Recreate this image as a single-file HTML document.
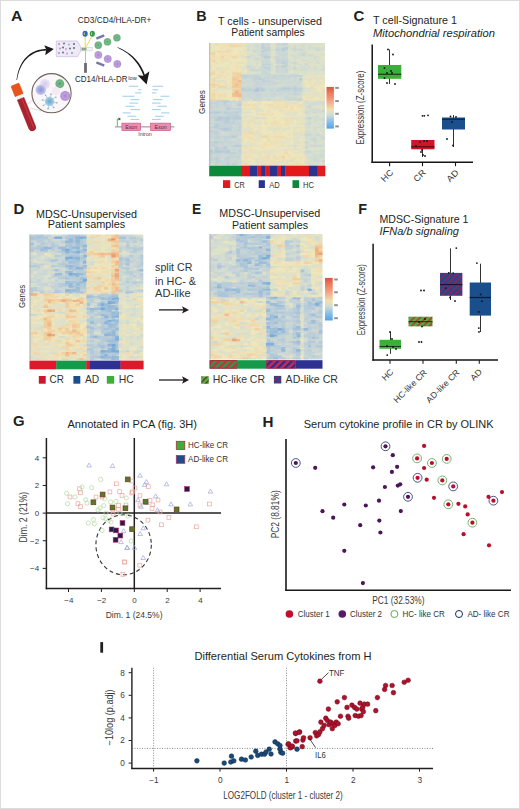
<!DOCTYPE html>
<html><head><meta charset="utf-8"><style>html,body{margin:0;padding:0;background:#fff;overflow:hidden}svg{display:block}text{font-family:"Liberation Sans", sans-serif}</style></head>
<body><svg width="520" height="809" viewBox="0 0 520 809"><rect x="0" y="0" width="520" height="809" fill="#fff"/><text x="11.1" y="20.7" font-size="15" font-weight="bold" fill="#231f20" textLength="11.4" lengthAdjust="spacingAndGlyphs">A</text><defs><radialGradient id="gc" cx="0.5" cy="0.5" r="0.5"><stop offset="0" stop-color="#4a9a6a"/><stop offset="0.35" stop-color="#7cbc8c"/><stop offset="0.8" stop-color="#6aae7e"/><stop offset="1" stop-color="#9ccfa8"/></radialGradient><radialGradient id="pc" cx="0.5" cy="0.5" r="0.5"><stop offset="0" stop-color="#a884cc"/><stop offset="0.5" stop-color="#bfa0dc"/><stop offset="0.85" stop-color="#b294d4"/><stop offset="1" stop-color="#d2bfe8"/></radialGradient><radialGradient id="bc" cx="0.5" cy="0.5" r="0.5"><stop offset="0" stop-color="#8f94d6"/><stop offset="0.6" stop-color="#aab0e2"/><stop offset="1" stop-color="#cfd2f0"/></radialGradient><radialGradient id="lc" cx="0.5" cy="0.5" r="0.5"><stop offset="0" stop-color="#d8c8ec"/><stop offset="1" stop-color="#eee6f6"/></radialGradient><radialGradient id="vc" cx="0.5" cy="0.5" r="0.5"><stop offset="0" stop-color="#6aa6cc"/><stop offset="1" stop-color="#a8d0e8"/></radialGradient></defs><polygon points="17.10,80.04 17.37,78.27 17.70,76.55 18.09,74.87 18.53,73.24 19.03,71.66 19.58,70.12 20.18,68.64 20.83,67.20 21.53,65.82 22.28,64.50 23.08,63.22 23.93,62.01 24.82,60.85 25.75,59.75 26.73,58.71 27.75,57.73 28.81,56.81 29.92,55.95 31.06,55.15 32.22,54.40 33.43,53.72 34.68,53.09 35.96,52.54 37.29,52.05 38.65,51.63 40.05,51.28 41.49,51.00 42.96,50.79 44.47,50.66 46.01,50.60 45.99,49.00 44.37,49.06 42.78,49.20 41.22,49.42 39.70,49.71 38.22,50.09 36.77,50.53 35.37,51.05 34.00,51.64 32.68,52.30 31.39,53.03 30.15,53.83 28.97,54.71 27.84,55.66 26.75,56.67 25.72,57.74 24.73,58.87 23.80,60.05 22.91,61.29 22.08,62.59 21.30,63.93 20.57,65.33 19.90,66.78 19.28,68.27 18.71,69.81 18.20,71.40 17.75,73.03 17.35,74.70 17.01,76.41 16.73,78.17 16.50,79.96" fill="#1a1a1a"/><path d="M53.8 49 L44.2 45.2 L46.2 49.6 L45.2 55.2 Z" fill="#1a1a1a"/><path d="M28 104 L34 99 M30.5 108 L41 111" stroke="#c9c3c0" stroke-width="0.6" fill="none"/><circle cx="51.5" cy="93.2" r="19.6" fill="#fbf6f8" stroke="#6e625e" stroke-width="1.1"/><circle cx="45" cy="84" r="5.2" fill="url(#lc)"/><circle cx="40.8" cy="89.8" r="5.3" fill="url(#bc)"/><circle cx="59.8" cy="83.7" r="4.6" fill="url(#gc)"/><circle cx="59.8" cy="83.7" r="1.6" fill="#5a9a70" opacity="0.6"/><circle cx="56" cy="91" r="4.2" fill="#f3eaf3"/><circle cx="65.2" cy="95.9" r="5.2" fill="url(#pc)"/><g stroke="#7fb2d6" stroke-width="0.6"><line x1="49.6" y1="101.4" x2="56.66" y2="102.83"/><line x1="49.6" y1="101.4" x2="53.58" y2="107.40"/><line x1="49.6" y1="101.4" x2="48.17" y2="108.46"/><line x1="49.6" y1="101.4" x2="43.60" y2="105.38"/><line x1="49.6" y1="101.4" x2="42.54" y2="99.97"/><line x1="49.6" y1="101.4" x2="45.62" y2="95.40"/><line x1="49.6" y1="101.4" x2="51.03" y2="94.34"/><line x1="49.6" y1="101.4" x2="55.60" y2="97.42"/></g><g fill="#7fb2d6"><circle cx="56.85" cy="102.87" r="0.8"/><circle cx="53.69" cy="107.57" r="0.8"/><circle cx="48.13" cy="108.65" r="0.8"/><circle cx="43.43" cy="105.49" r="0.8"/><circle cx="42.35" cy="99.93" r="0.8"/><circle cx="45.51" cy="95.23" r="0.8"/><circle cx="51.07" cy="94.15" r="0.8"/><circle cx="55.77" cy="97.31" r="0.8"/></g><circle cx="49.6" cy="101.4" r="4.6" fill="url(#vc)"/><g transform="translate(17.2,90.2) rotate(-22)"><rect x="-4.3" y="-6" width="8.6" height="11.5" rx="0.8" fill="#e8541c"/><rect x="-4.3" y="-6" width="8.6" height="11.5" rx="0.8" fill="none" stroke="#d24a18" stroke-width="0.5"/><rect x="-3.6" y="5.6" width="7.2" height="3.8" fill="#f6f0ee"/><path d="M-3.6 9.2 H3.6 V40 A3.6 3.6 0 0 1 -3.6 40 Z" fill="#a8242e" stroke="#8a1a24" stroke-width="0.4"/><path d="M1.2 10 V40.5" stroke="#c83a44" stroke-width="1" /></g><path d="M56.3 41 H77.5 L80.8 47.3 V50.8 L77.5 56.7 H56.3 Z" fill="#efe8f6" stroke="#cbbce3" stroke-width="0.7"/><circle cx="59" cy="44" r="0.9" fill="#a888c8"/><circle cx="64" cy="43.5" r="0.9" fill="#3a7a5a"/><circle cx="69" cy="44.5" r="0.9" fill="#b898d0"/><circle cx="74" cy="44" r="0.9" fill="#3a6a5a"/><circle cx="60" cy="48.5" r="0.9" fill="#b090cc"/><circle cx="63" cy="47.5" r="0.9" fill="#3a6a4a"/><circle cx="66" cy="49" r="0.9" fill="#c0a0d8"/><circle cx="70" cy="48.5" r="0.9" fill="#3a7a5a"/><circle cx="74" cy="48" r="0.9" fill="#3a6a5a"/><circle cx="59" cy="53" r="0.9" fill="#a888c8"/><circle cx="63" cy="52.5" r="0.9" fill="#3a7a5a"/><circle cx="67" cy="53.5" r="0.9" fill="#b898d0"/><circle cx="72" cy="53" r="0.9" fill="#a080c0"/><rect x="81" y="47.3" width="11.2" height="3.6" fill="#f6f6f6" stroke="#c8c8d0" stroke-width="0.5"/><rect x="81.5" y="47.8" width="5" height="2.6" fill="#8aa888"/><path d="M85.3 47.5 L85.1 36.5 M85.6 47.5 L91.8 36.5" stroke="#f0d23a" stroke-width="0.9" fill="none"/><path d="M85.5 51 V63" stroke="#e8a040" stroke-width="0.8"/><rect x="84.1" y="63" width="2.8" height="9.8" fill="#6c6c6c"/><ellipse cx="85.1" cy="33.8" rx="2.6" ry="3" fill="#2a6ab8"/><ellipse cx="92.3" cy="33.8" rx="2.6" ry="3" fill="#3a9a4a"/><path d="M84.3 32.5 v2.5 M91.6 32.5 v2.5" stroke="#f0e060" stroke-width="0.8"/><circle cx="98.3" cy="45.2" r="3.9" fill="url(#gc)"/><circle cx="107.5" cy="41.8" r="3.9" fill="url(#gc)"/><circle cx="116.9" cy="37.8" r="3.9" fill="url(#gc)"/><circle cx="98.3" cy="54.9" r="4" fill="url(#pc)"/><circle cx="107.8" cy="58.9" r="4" fill="url(#pc)"/><circle cx="117.3" cy="64" r="4" fill="url(#pc)"/><rect x="96" y="35.8" width="8.6" height="2.4" rx="0.6" fill="#7478a8" transform="rotate(-22 100.3 37)"/><rect x="96" y="62.8" width="8.6" height="2.4" rx="0.6" fill="#7478a8" transform="rotate(22 100.3 64)"/><polygon points="117.39,47.78 118.70,48.37 119.99,48.98 121.24,49.63 122.46,50.30 123.65,51.00 124.81,51.73 125.94,52.49 127.03,53.27 128.09,54.08 129.13,54.91 130.13,55.77 131.10,56.65 132.04,57.56 132.94,58.49 133.82,59.44 134.67,60.42 135.48,61.42 136.27,62.44 137.02,63.49 137.77,64.54 138.49,65.61 139.17,66.71 139.83,67.83 140.46,68.97 141.06,70.13 141.62,71.32 142.16,72.53 142.67,73.75 143.15,75.00 143.59,76.27 145.21,75.73 144.74,74.42 144.25,73.13 143.72,71.86 143.17,70.61 142.58,69.38 141.96,68.17 141.31,66.99 140.63,65.83 139.91,64.69 139.17,63.57 138.40,62.48 137.57,61.43 136.71,60.40 135.82,59.40 134.90,58.43 133.95,57.49 132.98,56.57 131.97,55.68 130.93,54.82 129.87,53.98 128.77,53.17 127.65,52.39 126.49,51.64 125.31,50.92 124.10,50.23 122.86,49.57 121.59,48.94 120.29,48.34 118.97,47.76 117.61,47.22" fill="#1a1a1a"/><path d="M146.6 84.6 L137.6 75.2 L143.4 75.8 L149.4 71.2 Z" fill="#1a1a1a"/><text x="77.8" y="23.2" font-size="9" fill="#2a2a2a" textLength="73.5" lengthAdjust="spacingAndGlyphs">CD3/CD4/HLA-DR+</text><text x="75" y="82.2" font-size="9.2" fill="#2a2a2a" textLength="52.5" lengthAdjust="spacingAndGlyphs">CD14/HLA-DR</text><text x="128.3" y="79.6" font-size="5.3" fill="#333" textLength="8.4" lengthAdjust="spacingAndGlyphs">low</text><g stroke="#8cc4ea" stroke-width="0.85"><line x1="128.75" y1="86.25" x2="138.1" y2="86.25"/><line x1="138.1" y1="89.75" x2="141.5" y2="89.75"/><line x1="135" y1="92.9" x2="141.5" y2="92.9"/><line x1="122.5" y1="96.25" x2="134.4" y2="96.25"/><line x1="130.6" y1="99.6" x2="139.4" y2="99.6"/><line x1="129.4" y1="103.1" x2="138.1" y2="103.1"/><line x1="125.6" y1="106.25" x2="134.4" y2="106.25"/><line x1="130.6" y1="109.6" x2="140" y2="109.6"/><line x1="122.5" y1="112.9" x2="130.6" y2="112.9"/><line x1="127.5" y1="116.25" x2="136.25" y2="116.25"/><line x1="130.6" y1="119.4" x2="139.4" y2="119.4"/><line x1="152.5" y1="86.25" x2="163.1" y2="86.25"/><line x1="152.5" y1="89.75" x2="158.1" y2="89.75"/><line x1="151.9" y1="92.9" x2="156.25" y2="92.9"/><line x1="160.6" y1="96.25" x2="169.4" y2="96.25"/><line x1="153.1" y1="99.6" x2="162.5" y2="99.6"/><line x1="151.9" y1="103.1" x2="160.6" y2="103.1"/><line x1="157.5" y1="106.25" x2="166.9" y2="106.25"/><line x1="151.9" y1="109.6" x2="160.6" y2="109.6"/><line x1="161.25" y1="112.9" x2="169.4" y2="112.9"/><line x1="155" y1="116.25" x2="163.75" y2="116.25"/><line x1="151.9" y1="119.4" x2="160.6" y2="119.4"/></g><line x1="115" y1="126.9" x2="174.4" y2="126.9" stroke="#8a7a7a" stroke-width="0.9"/><rect x="121.9" y="123.1" width="18.7" height="7.5" fill="#ec8cb0" stroke="#c8507e" stroke-width="0.6"/><rect x="150.6" y="123.1" width="20" height="7.5" fill="#ec8cb0" stroke="#c8507e" stroke-width="0.6"/><text x="131.2" y="129.2" font-size="6" text-anchor="middle" fill="#5a2a3a" textLength="12" lengthAdjust="spacingAndGlyphs">Exon</text><text x="160.6" y="129.2" font-size="6" text-anchor="middle" fill="#5a2a3a" textLength="12" lengthAdjust="spacingAndGlyphs">Exon</text><text x="145" y="136.3" font-size="6" text-anchor="middle" fill="#444" textLength="13.5" lengthAdjust="spacingAndGlyphs">Intron</text><path d="M117.3 126.5 V119 H119" stroke="#4a9a4a" stroke-width="0.8" fill="none"/><path d="M121 119 L118.6 117.5 L118.6 120.5 Z" fill="#2a4a2a"/><text x="196.2" y="20.6" font-size="15" font-weight="bold" fill="#231f20" textLength="10.4" lengthAdjust="spacingAndGlyphs">B</text><text x="270" y="24.8" font-size="10.8" text-anchor="middle" fill="#231f20" textLength="104" lengthAdjust="spacingAndGlyphs">T cells - unsupervised</text><text x="268" y="36.3" font-size="10.8" text-anchor="middle" fill="#231f20" textLength="73.5" lengthAdjust="spacingAndGlyphs">Patient samples</text><g filter="url(#bl)"><path fill="#ebe6be" d="M209.0 43.0H212.5V45.4H209.0zM217.7 43.0H221.2V45.4H217.7zM209.0 44.8H218.3V47.3H209.0zM214.8 46.7H218.3V49.1H214.8zM232.2 46.7H241.5V49.1H232.2zM209.0 48.5H212.5V51.0H209.0zM214.8 48.5H227.0V51.0H214.8zM232.2 48.5H235.7V51.0H232.2zM238.0 48.5H244.4V51.0H238.0zM232.2 50.4H235.7V52.8H232.2zM240.9 50.4H244.4V52.8H240.9zM214.8 52.2H218.3V54.7H214.8zM229.3 52.2H232.8V54.7H229.3zM235.1 52.2H244.4V54.7H235.1zM209.0 54.1H212.5V56.5H209.0zM214.8 54.1H221.2V56.5H214.8zM243.8 54.1H247.3V56.5H243.8zM209.0 55.9H212.5V58.4H209.0zM223.5 55.9H227.0V58.4H223.5zM322.1 55.9H325.0V58.4H322.1zM214.8 57.8H218.3V60.2H214.8zM226.4 57.8H235.7V60.2H226.4zM214.8 59.6H221.2V62.1H214.8zM229.3 59.6H235.7V62.1H229.3zM238.0 59.6H247.3V62.1H238.0zM209.0 61.5H212.5V63.9H209.0zM243.8 61.5H247.3V63.9H243.8zM214.8 63.3H229.9V65.8H214.8zM232.2 63.3H235.7V65.8H232.2zM238.0 63.3H244.4V65.8H238.0zM211.9 65.2H227.0V67.6H211.9zM229.3 65.2H232.8V67.6H229.3zM240.9 65.2H244.4V67.6H240.9zM238.0 67.0H241.5V69.5H238.0zM209.0 68.9H212.5V71.3H209.0zM226.4 68.9H229.9V71.3H226.4zM232.2 68.9H235.7V71.3H232.2zM238.0 68.9H241.5V71.3H238.0zM243.8 68.9H247.3V71.3H243.8zM209.0 70.7H212.5V73.2H209.0zM229.3 70.7H232.8V73.2H229.3zM235.1 70.7H238.6V73.2H235.1zM220.6 72.6H224.1V75.0H220.6zM229.3 72.6H232.8V75.0H229.3zM226.4 74.4H232.8V76.9H226.4zM307.6 74.4H311.1V76.9H307.6zM322.1 74.4H325.0V76.9H322.1zM211.9 76.3H215.4V78.7H211.9zM226.4 76.3H229.9V78.7H226.4zM214.8 78.1H229.9V80.6H214.8zM209.0 80.0H212.5V82.4H209.0zM310.5 80.0H316.9V82.4H310.5zM319.2 80.0H325.0V82.4H319.2zM209.0 81.8H212.5V84.3H209.0zM214.8 81.8H218.3V84.3H214.8zM220.6 81.8H224.1V84.3H220.6zM220.6 83.7H227.0V86.1H220.6zM304.7 83.7H311.1V86.1H304.7zM209.0 85.5H212.5V88.0H209.0zM226.4 85.5H229.9V88.0H226.4zM307.6 85.5H311.1V88.0H307.6zM316.3 85.5H325.0V88.0H316.3zM211.9 87.4H215.4V89.8H211.9zM217.7 89.2H221.2V91.7H217.7zM223.5 89.2H232.8V91.7H223.5zM310.5 89.2H314.0V91.7H310.5zM316.3 89.2H322.7V91.7H316.3zM214.8 91.1H221.2V93.5H214.8zM223.5 91.1H232.8V93.5H223.5zM304.7 91.1H308.2V93.5H304.7zM319.2 91.1H322.7V93.5H319.2zM220.6 92.9H224.1V95.4H220.6zM226.4 92.9H232.8V95.4H226.4zM322.1 92.9H325.0V95.4H322.1zM301.8 94.8H305.3V97.2H301.8zM307.6 94.8H311.1V97.2H307.6zM214.8 96.6H221.2V99.1H214.8zM223.5 96.6H229.9V99.1H223.5zM301.8 96.6H305.3V99.1H301.8zM316.3 96.6H319.8V99.1H316.3zM307.6 98.5H311.1V100.9H307.6zM246.7 100.3H253.1V102.8H246.7zM255.4 100.3H258.9V102.8H255.4zM264.1 100.3H267.6V102.8H264.1zM269.9 100.3H273.4V102.8H269.9zM290.2 100.3H293.7V102.8H290.2zM298.9 100.3H302.4V102.8H298.9zM246.7 102.2H256.0V104.6H246.7zM264.1 102.2H273.4V104.6H264.1zM281.5 102.2H285.0V104.6H281.5zM298.9 102.2H302.4V104.6H298.9zM258.3 104.0H261.8V106.4H258.3zM240.9 105.8H250.2V108.3H240.9zM261.2 105.8H270.5V108.3H261.2zM287.3 105.8H290.8V108.3H287.3zM261.2 107.7H270.5V110.1H261.2zM275.7 107.7H279.2V110.1H275.7zM296.0 107.7H299.5V110.1H296.0zM301.8 107.7H305.3V110.1H301.8zM243.8 109.5H247.3V112.0H243.8zM264.1 109.5H267.6V112.0H264.1zM275.7 109.5H279.2V112.0H275.7zM284.4 109.5H287.9V112.0H284.4zM293.1 109.5H296.6V112.0H293.1zM252.5 111.4H256.0V113.8H252.5zM258.3 111.4H261.8V113.8H258.3zM264.1 111.4H267.6V113.8H264.1zM269.9 111.4H276.3V113.8H269.9zM278.6 111.4H282.1V113.8H278.6zM298.9 111.4H302.4V113.8H298.9zM240.9 113.2H250.2V115.7H240.9zM272.8 113.2H276.3V115.7H272.8zM278.6 113.2H285.0V115.7H278.6zM252.5 115.1H267.6V117.5H252.5zM269.9 115.1H273.4V117.5H269.9zM275.7 115.1H279.2V117.5H275.7zM284.4 115.1H290.8V117.5H284.4zM293.1 115.1H299.5V117.5H293.1zM267.0 116.9H273.4V119.4H267.0zM275.7 116.9H282.1V119.4H275.7zM246.7 118.8H250.2V121.2H246.7zM261.2 118.8H270.5V121.2H261.2zM298.9 118.8H302.4V121.2H298.9zM261.2 120.6H264.7V123.1H261.2zM278.6 120.6H287.9V123.1H278.6zM293.1 120.6H296.6V123.1H293.1zM301.8 120.6H305.3V123.1H301.8zM240.9 122.5H244.4V124.9H240.9zM261.2 122.5H264.7V124.9H261.2zM293.1 122.5H296.6V124.9H293.1zM243.8 124.3H247.3V126.8H243.8zM252.5 124.3H261.8V126.8H252.5zM267.0 124.3H273.4V126.8H267.0zM290.2 124.3H305.3V126.8H290.2zM243.8 126.2H247.3V128.6H243.8zM249.6 126.2H253.1V128.6H249.6zM255.4 126.2H258.9V128.6H255.4zM261.2 126.2H267.6V128.6H261.2zM272.8 126.2H276.3V128.6H272.8zM284.4 126.2H287.9V128.6H284.4zM290.2 126.2H293.7V128.6H290.2zM255.4 128.0H258.9V130.5H255.4zM261.2 128.0H267.6V130.5H261.2zM296.0 128.0H299.5V130.5H296.0zM301.8 128.0H305.3V130.5H301.8zM252.5 129.9H256.0V132.3H252.5zM258.3 129.9H273.4V132.3H258.3zM278.6 129.9H282.1V132.3H278.6zM296.0 129.9H299.5V132.3H296.0zM261.2 131.7H267.6V134.2H261.2zM269.9 131.7H273.4V134.2H269.9zM275.7 131.7H279.2V134.2H275.7zM284.4 131.7H287.9V134.2H284.4zM246.7 133.6H253.1V136.0H246.7zM261.2 133.6H267.6V136.0H261.2zM269.9 133.6H282.1V136.0H269.9zM249.6 135.4H256.0V137.9H249.6zM284.4 135.4H287.9V137.9H284.4zM301.8 135.4H305.3V137.9H301.8zM243.8 137.3H247.3V139.7H243.8zM261.2 137.3H267.6V139.7H261.2zM269.9 137.3H273.4V139.7H269.9zM298.9 137.3H302.4V139.7H298.9zM246.7 139.1H253.1V141.6H246.7zM261.2 139.1H264.7V141.6H261.2zM269.9 139.1H273.4V141.6H269.9zM284.4 139.1H287.9V141.6H284.4zM290.2 139.1H293.7V141.6H290.2zM298.9 139.1H305.3V141.6H298.9zM258.3 141.0H261.8V143.4H258.3zM264.1 141.0H270.5V143.4H264.1zM240.9 142.8H244.4V145.3H240.9zM246.7 142.8H250.2V145.3H246.7zM255.4 142.8H258.9V145.3H255.4zM275.7 142.8H282.1V145.3H275.7zM284.4 142.8H293.7V145.3H284.4zM298.9 142.8H305.3V145.3H298.9zM252.5 144.7H256.0V147.1H252.5zM269.9 144.7H276.3V147.1H269.9zM249.6 146.5H253.1V149.0H249.6zM255.4 146.5H261.8V149.0H255.4zM272.8 146.5H276.3V149.0H272.8zM278.6 146.5H282.1V149.0H278.6zM284.4 146.5H287.9V149.0H284.4zM296.0 146.5H302.4V149.0H296.0zM240.9 148.4H244.4V150.8H240.9zM258.3 148.4H261.8V150.8H258.3zM267.0 148.4H270.5V150.8H267.0zM278.6 150.2H285.0V152.7H278.6zM293.1 150.2H299.5V152.7H293.1zM272.8 152.1H279.2V154.5H272.8zM281.5 152.1H285.0V154.5H281.5zM290.2 152.1H293.7V154.5H290.2zM298.9 152.1H302.4V154.5H298.9zM240.9 153.9H244.4V156.4H240.9zM249.6 153.9H258.9V156.4H249.6zM264.1 153.9H267.6V156.4H264.1zM269.9 153.9H273.4V156.4H269.9zM296.0 153.9H299.5V156.4H296.0zM301.8 153.9H305.3V156.4H301.8zM252.5 155.8H258.9V158.2H252.5zM240.9 157.6H250.2V160.1H240.9zM264.1 157.6H267.6V160.1H264.1zM269.9 157.6H273.4V160.1H269.9zM278.6 157.6H282.1V160.1H278.6zM296.0 157.6H299.5V160.1H296.0zM246.7 159.5H256.0V161.9H246.7zM258.3 159.5H261.8V161.9H258.3zM293.1 159.5H305.3V161.9H293.1zM249.6 161.3H256.0V163.8H249.6zM287.3 161.3H290.8V163.8H287.3zM301.8 161.3H305.3V163.8H301.8zM240.9 163.2H244.4V165.0H240.9zM249.6 163.2H256.0V165.0H249.6zM269.9 163.2H273.4V165.0H269.9zM278.6 163.2H287.9V165.0H278.6zM301.8 163.2H305.3V165.0H301.8z"/><path fill="#f0e6b9" d="M211.9 43.0H215.4V45.4H211.9zM211.9 46.7H215.4V49.1H211.9zM217.7 46.7H221.2V49.1H217.7zM226.4 46.7H229.9V49.1H226.4zM243.8 46.7H247.3V49.1H243.8zM235.1 48.5H238.6V51.0H235.1zM209.0 50.4H212.5V52.8H209.0zM235.1 50.4H238.6V52.8H235.1zM217.7 52.2H221.2V54.7H217.7zM223.5 52.2H229.9V54.7H223.5zM232.2 52.2H235.7V54.7H232.2zM232.2 54.1H235.7V56.5H232.2zM217.7 55.9H221.2V58.4H217.7zM238.0 55.9H241.5V58.4H238.0zM235.1 57.8H244.4V60.2H235.1zM235.1 59.6H238.6V62.1H235.1zM217.7 61.5H221.2V63.9H217.7zM223.5 61.5H229.9V63.9H223.5zM209.0 63.3H212.5V65.8H209.0zM211.9 67.0H215.4V69.5H211.9zM229.3 67.0H235.7V69.5H229.3zM226.4 70.7H229.9V73.2H226.4zM238.0 70.7H241.5V73.2H238.0zM243.8 70.7H247.3V73.2H243.8zM223.5 72.6H227.0V75.0H223.5zM211.9 74.4H218.3V76.9H211.9zM316.3 74.4H319.8V76.9H316.3zM304.7 76.3H308.2V78.7H304.7zM226.4 80.0H229.9V82.4H226.4zM226.4 81.8H229.9V84.3H226.4zM310.5 81.8H314.0V84.3H310.5zM322.1 83.7H325.0V86.1H322.1zM214.8 85.5H218.3V88.0H214.8zM304.7 85.5H308.2V88.0H304.7zM313.4 85.5H316.9V88.0H313.4zM209.0 89.2H212.5V91.7H209.0zM209.0 91.1H212.5V93.5H209.0zM220.6 91.1H224.1V93.5H220.6zM214.8 94.8H218.3V97.2H214.8zM226.4 94.8H232.8V97.2H226.4zM232.2 96.6H238.6V99.1H232.2zM313.4 96.6H316.9V99.1H313.4zM226.4 98.5H229.9V100.9H226.4zM304.7 98.5H308.2V100.9H304.7zM313.4 98.5H322.7V100.9H313.4zM252.5 100.3H256.0V102.8H252.5zM261.2 100.3H264.7V102.8H261.2zM267.0 100.3H270.5V102.8H267.0zM261.2 102.2H264.7V104.6H261.2zM275.7 102.2H279.2V104.6H275.7zM261.2 104.0H264.7V106.4H261.2zM249.6 105.8H253.1V108.3H249.6zM258.3 105.8H261.8V108.3H258.3zM293.1 105.8H296.6V108.3H293.1zM281.5 107.7H290.8V110.1H281.5zM293.1 107.7H296.6V110.1H293.1zM298.9 107.7H302.4V110.1H298.9zM249.6 109.5H256.0V112.0H249.6zM269.9 109.5H276.3V112.0H269.9zM296.0 109.5H299.5V112.0H296.0zM261.2 111.4H264.7V113.8H261.2zM275.7 111.4H279.2V113.8H275.7zM249.6 113.2H256.0V115.7H249.6zM275.7 113.2H279.2V115.7H275.7zM296.0 113.2H302.4V115.7H296.0zM267.0 115.1H270.5V117.5H267.0zM272.8 115.1H276.3V117.5H272.8zM278.6 115.1H285.0V117.5H278.6zM301.8 115.1H305.3V117.5H301.8zM249.6 116.9H253.1V119.4H249.6zM243.8 118.8H247.3V121.2H243.8zM252.5 118.8H258.9V121.2H252.5zM269.9 118.8H279.2V121.2H269.9zM281.5 118.8H285.0V121.2H281.5zM293.1 118.8H296.6V121.2H293.1zM296.0 120.6H299.5V123.1H296.0zM267.0 122.5H270.5V124.9H267.0zM278.6 122.5H285.0V124.9H278.6zM261.2 124.3H267.6V126.8H261.2zM281.5 124.3H285.0V126.8H281.5zM252.5 128.0H256.0V130.5H252.5zM290.2 128.0H293.7V130.5H290.2zM284.4 129.9H287.9V132.3H284.4zM290.2 129.9H293.7V132.3H290.2zM267.0 131.7H270.5V134.2H267.0zM281.5 131.7H285.0V134.2H281.5zM284.4 133.6H287.9V136.0H284.4zM290.2 133.6H293.7V136.0H290.2zM287.3 135.4H290.8V137.9H287.3zM252.5 137.3H256.0V139.7H252.5zM243.8 139.1H247.3V141.6H243.8zM264.1 139.1H267.6V141.6H264.1zM281.5 139.1H285.0V141.6H281.5zM255.4 141.0H258.9V143.4H255.4zM290.2 141.0H293.7V143.4H290.2zM258.3 142.8H261.8V145.3H258.3zM267.0 142.8H270.5V145.3H267.0zM252.5 146.5H256.0V149.0H252.5zM264.1 146.5H273.4V149.0H264.1zM281.5 146.5H285.0V149.0H281.5zM290.2 146.5H293.7V149.0H290.2zM275.7 148.4H279.2V150.8H275.7zM287.3 150.2H290.8V152.7H287.3zM261.2 152.1H264.7V154.5H261.2zM287.3 152.1H290.8V154.5H287.3zM243.8 153.9H247.3V156.4H243.8zM261.2 153.9H264.7V156.4H261.2zM275.7 153.9H282.1V156.4H275.7zM284.4 153.9H287.9V156.4H284.4zM290.2 153.9H296.6V156.4H290.2zM298.9 153.9H302.4V156.4H298.9zM269.9 155.8H273.4V158.2H269.9zM284.4 155.8H287.9V158.2H284.4zM290.2 155.8H293.7V158.2H290.2zM284.4 157.6H290.8V160.1H284.4zM301.8 157.6H305.3V160.1H301.8zM275.7 159.5H279.2V161.9H275.7zM290.2 161.3H293.7V163.8H290.2zM298.9 161.3H302.4V163.8H298.9z"/><path fill="#e1e1c3" d="M214.8 43.0H218.3V45.4H214.8zM229.3 43.0H232.8V45.4H229.3zM240.9 44.8H244.4V47.3H240.9zM316.3 44.8H322.7V47.3H316.3zM243.8 48.5H247.3V51.0H243.8zM290.2 50.4H293.7V52.8H290.2zM287.3 54.1H290.8V56.5H287.3zM319.2 57.8H322.7V60.2H319.2zM290.2 59.6H293.7V62.1H290.2zM214.8 61.5H218.3V63.9H214.8zM240.9 61.5H244.4V63.9H240.9zM316.3 63.3H319.8V65.8H316.3zM243.8 65.2H247.3V67.6H243.8zM240.9 67.0H244.4V69.5H240.9zM310.5 70.7H314.0V73.2H310.5zM284.4 72.6H287.9V75.0H284.4zM319.2 76.3H322.7V78.7H319.2zM313.4 78.1H319.8V80.6H313.4zM322.1 78.1H325.0V80.6H322.1zM217.7 80.0H221.2V82.4H217.7zM307.6 80.0H311.1V82.4H307.6zM313.4 81.8H316.9V84.3H313.4zM301.8 83.7H305.3V86.1H301.8zM214.8 87.4H218.3V89.8H214.8zM223.5 87.4H227.0V89.8H223.5zM322.1 91.1H325.0V93.5H322.1zM313.4 92.9H316.9V95.4H313.4zM310.5 94.8H314.0V97.2H310.5zM240.9 100.3H244.4V102.8H240.9zM246.7 107.7H250.2V110.1H246.7zM255.4 107.7H261.8V110.1H255.4zM261.2 109.5H264.7V112.0H261.2zM267.0 111.4H270.5V113.8H267.0zM301.8 111.4H305.3V113.8H301.8zM290.2 113.2H293.7V115.7H290.2zM243.8 115.1H247.3V117.5H243.8zM296.0 118.8H299.5V121.2H296.0zM243.8 120.6H250.2V123.1H243.8zM252.5 120.6H256.0V123.1H252.5zM319.2 122.5H322.7V124.9H319.2zM240.9 124.3H244.4V126.8H240.9zM246.7 124.3H250.2V126.8H246.7zM267.0 126.2H270.5V128.6H267.0zM296.0 126.2H299.5V128.6H296.0zM272.8 128.0H276.3V130.5H272.8zM304.7 128.0H308.2V130.5H304.7zM240.9 129.9H244.4V132.3H240.9zM298.9 131.7H302.4V134.2H298.9zM252.5 133.6H256.0V136.0H252.5zM258.3 133.6H261.8V136.0H258.3zM255.4 135.4H261.8V137.9H255.4zM258.3 137.3H261.8V139.7H258.3zM252.5 139.1H256.0V141.6H252.5zM293.1 139.1H296.6V141.6H293.1zM275.7 141.0H279.2V143.4H275.7zM281.5 141.0H285.0V143.4H281.5zM249.6 144.7H253.1V147.1H249.6zM296.0 144.7H299.5V147.1H296.0zM301.8 144.7H305.3V147.1H301.8zM298.9 148.4H302.4V150.8H298.9zM255.4 150.2H258.9V152.7H255.4zM298.9 150.2H302.4V152.7H298.9zM243.8 152.1H247.3V154.5H243.8zM255.4 152.1H261.8V154.5H255.4zM255.4 157.6H258.9V160.1H255.4zM272.8 157.6H276.3V160.1H272.8zM293.1 157.6H296.6V160.1H293.1zM319.2 157.6H322.7V160.1H319.2zM240.9 161.3H244.4V163.8H240.9zM281.5 161.3H287.9V163.8H281.5zM296.0 161.3H299.5V163.8H296.0zM319.2 161.3H322.7V163.8H319.2zM275.7 163.2H279.2V165.0H275.7zM287.3 163.2H290.8V165.0H287.3z"/><path fill="#e6e1c3" d="M220.6 43.0H224.1V45.4H220.6zM243.8 43.0H247.3V45.4H243.8zM226.4 48.5H229.9V51.0H226.4zM214.8 50.4H218.3V52.8H214.8zM238.0 50.4H241.5V52.8H238.0zM240.9 54.1H244.4V56.5H240.9zM272.8 54.1H276.3V56.5H272.8zM209.0 57.8H212.5V60.2H209.0zM223.5 59.6H227.0V62.1H223.5zM235.1 61.5H241.5V63.9H235.1zM243.8 63.3H247.3V65.8H243.8zM209.0 65.2H212.5V67.6H209.0zM226.4 65.2H229.9V67.6H226.4zM238.0 65.2H241.5V67.6H238.0zM209.0 67.0H212.5V69.5H209.0zM217.7 67.0H224.1V69.5H217.7zM226.4 67.0H229.9V69.5H226.4zM319.2 67.0H322.7V69.5H319.2zM217.7 68.9H221.2V71.3H217.7zM240.9 68.9H244.4V71.3H240.9zM232.2 70.7H235.7V73.2H232.2zM240.9 70.7H244.4V73.2H240.9zM269.9 70.7H273.4V73.2H269.9zM226.4 72.6H229.9V75.0H226.4zM240.9 72.6H247.3V75.0H240.9zM209.0 74.4H212.5V76.9H209.0zM313.4 74.4H316.9V76.9H313.4zM319.2 74.4H322.7V76.9H319.2zM217.7 76.3H221.2V78.7H217.7zM223.5 76.3H227.0V78.7H223.5zM301.8 76.3H305.3V78.7H301.8zM307.6 76.3H314.0V78.7H307.6zM322.1 76.3H325.0V78.7H322.1zM220.6 80.0H227.0V82.4H220.6zM301.8 80.0H305.3V82.4H301.8zM316.3 80.0H319.8V82.4H316.3zM223.5 81.8H227.0V84.3H223.5zM301.8 81.8H305.3V84.3H301.8zM322.1 81.8H325.0V84.3H322.1zM226.4 83.7H229.9V86.1H226.4zM313.4 83.7H316.9V86.1H313.4zM301.8 85.5H305.3V88.0H301.8zM313.4 87.4H316.9V89.8H313.4zM322.1 87.4H325.0V89.8H322.1zM214.8 89.2H218.3V91.7H214.8zM301.8 91.1H305.3V93.5H301.8zM307.6 91.1H319.8V93.5H307.6zM223.5 92.9H227.0V95.4H223.5zM307.6 92.9H314.0V95.4H307.6zM319.2 92.9H322.7V95.4H319.2zM313.4 94.8H319.8V97.2H313.4zM322.1 94.8H325.0V97.2H322.1zM209.0 96.6H212.5V99.1H209.0zM322.1 96.6H325.0V99.1H322.1zM301.8 98.5H305.3V100.9H301.8zM243.8 100.3H247.3V102.8H243.8zM258.3 100.3H261.8V102.8H258.3zM287.3 100.3H290.8V102.8H287.3zM301.8 100.3H305.3V102.8H301.8zM240.9 102.2H247.3V104.6H240.9zM255.4 102.2H261.8V104.6H255.4zM240.9 104.0H244.4V106.4H240.9zM301.8 104.0H305.3V106.4H301.8zM255.4 105.8H258.9V108.3H255.4zM269.9 105.8H273.4V108.3H269.9zM298.9 105.8H305.3V108.3H298.9zM310.5 105.8H314.0V108.3H310.5zM319.2 105.8H325.0V108.3H319.2zM252.5 107.7H256.0V110.1H252.5zM278.6 107.7H282.1V110.1H278.6zM240.9 109.5H244.4V112.0H240.9zM267.0 109.5H270.5V112.0H267.0zM278.6 109.5H285.0V112.0H278.6zM287.3 109.5H290.8V112.0H287.3zM301.8 109.5H305.3V112.0H301.8zM255.4 111.4H258.9V113.8H255.4zM284.4 111.4H293.7V113.8H284.4zM296.0 111.4H299.5V113.8H296.0zM255.4 113.2H261.8V115.7H255.4zM301.8 113.2H305.3V115.7H301.8zM249.6 115.1H253.1V117.5H249.6zM290.2 115.1H293.7V117.5H290.2zM298.9 115.1H302.4V117.5H298.9zM243.8 116.9H250.2V119.4H243.8zM272.8 116.9H276.3V119.4H272.8zM281.5 116.9H290.8V119.4H281.5zM298.9 116.9H302.4V119.4H298.9zM301.8 118.8H305.3V121.2H301.8zM240.9 120.6H244.4V123.1H240.9zM249.6 120.6H253.1V123.1H249.6zM255.4 120.6H261.8V123.1H255.4zM264.1 120.6H267.6V123.1H264.1zM287.3 120.6H290.8V123.1H287.3zM246.7 122.5H250.2V124.9H246.7zM252.5 122.5H256.0V124.9H252.5zM287.3 122.5H290.8V124.9H287.3zM298.9 122.5H302.4V124.9H298.9zM275.7 124.3H279.2V126.8H275.7zM240.9 126.2H244.4V128.6H240.9zM258.3 126.2H261.8V128.6H258.3zM298.9 126.2H302.4V128.6H298.9zM246.7 128.0H250.2V130.5H246.7zM258.3 128.0H261.8V130.5H258.3zM267.0 128.0H273.4V130.5H267.0zM278.6 128.0H285.0V130.5H278.6zM249.6 129.9H253.1V132.3H249.6zM255.4 129.9H258.9V132.3H255.4zM281.5 129.9H285.0V132.3H281.5zM293.1 129.9H296.6V132.3H293.1zM298.9 129.9H302.4V132.3H298.9zM258.3 131.7H261.8V134.2H258.3zM290.2 131.7H293.7V134.2H290.2zM301.8 131.7H305.3V134.2H301.8zM240.9 133.6H247.3V136.0H240.9zM255.4 133.6H258.9V136.0H255.4zM267.0 133.6H270.5V136.0H267.0zM287.3 133.6H290.8V136.0H287.3zM296.0 133.6H299.5V136.0H296.0zM293.1 135.4H302.4V137.9H293.1zM255.4 137.3H258.9V139.7H255.4zM267.0 137.3H270.5V139.7H267.0zM278.6 137.3H285.0V139.7H278.6zM287.3 137.3H293.7V139.7H287.3zM240.9 139.1H244.4V141.6H240.9zM255.4 139.1H261.8V141.6H255.4zM287.3 139.1H290.8V141.6H287.3zM240.9 141.0H244.4V143.4H240.9zM246.7 141.0H250.2V143.4H246.7zM272.8 141.0H276.3V143.4H272.8zM278.6 141.0H282.1V143.4H278.6zM284.4 141.0H290.8V143.4H284.4zM298.9 141.0H302.4V143.4H298.9zM243.8 142.8H247.3V145.3H243.8zM252.5 142.8H256.0V145.3H252.5zM293.1 142.8H299.5V145.3H293.1zM258.3 144.7H261.8V147.1H258.3zM275.7 144.7H287.9V147.1H275.7zM290.2 144.7H293.7V147.1H290.2zM298.9 144.7H302.4V147.1H298.9zM287.3 146.5H290.8V149.0H287.3zM293.1 146.5H296.6V149.0H293.1zM269.9 148.4H276.3V150.8H269.9zM278.6 148.4H285.0V150.8H278.6zM287.3 148.4H293.7V150.8H287.3zM296.0 148.4H299.5V150.8H296.0zM240.9 150.2H250.2V152.7H240.9zM252.5 150.2H256.0V152.7H252.5zM258.3 150.2H261.8V152.7H258.3zM269.9 150.2H279.2V152.7H269.9zM240.9 152.1H244.4V154.5H240.9zM246.7 152.1H256.0V154.5H246.7zM264.1 152.1H273.4V154.5H264.1zM296.0 152.1H299.5V154.5H296.0zM301.8 152.1H305.3V154.5H301.8zM246.7 153.9H250.2V156.4H246.7zM258.3 153.9H261.8V156.4H258.3zM272.8 153.9H276.3V156.4H272.8zM287.3 153.9H290.8V156.4H287.3zM258.3 155.8H261.8V158.2H258.3zM293.1 155.8H296.6V158.2H293.1zM252.5 157.6H256.0V160.1H252.5zM258.3 157.6H261.8V160.1H258.3zM281.5 157.6H285.0V160.1H281.5zM298.9 157.6H302.4V160.1H298.9zM322.1 157.6H325.0V160.1H322.1zM240.9 159.5H244.4V161.9H240.9zM261.2 159.5H264.7V161.9H261.2zM267.0 159.5H270.5V161.9H267.0zM278.6 159.5H282.1V161.9H278.6zM284.4 159.5H287.9V161.9H284.4zM243.8 161.3H247.3V163.8H243.8zM255.4 161.3H258.9V163.8H255.4zM261.2 161.3H264.7V163.8H261.2zM275.7 161.3H282.1V163.8H275.7zM293.1 161.3H296.6V163.8H293.1zM255.4 163.2H261.8V165.0H255.4zM264.1 163.2H270.5V165.0H264.1zM272.8 163.2H276.3V165.0H272.8zM293.1 163.2H296.6V165.0H293.1z"/><path fill="#e6e6be" d="M223.5 43.0H227.0V45.4H223.5zM272.8 63.3H276.3V65.8H272.8zM223.5 67.0H227.0V69.5H223.5zM319.2 94.8H322.7V97.2H319.2zM272.8 100.3H276.3V102.8H272.8zM281.5 111.4H285.0V113.8H281.5zM240.9 116.9H244.4V119.4H240.9zM290.2 120.6H293.7V123.1H290.2zM281.5 126.2H285.0V128.6H281.5zM275.7 129.9H279.2V132.3H275.7zM249.6 157.6H253.1V160.1H249.6z"/><path fill="#e6e1be" d="M226.4 43.0H229.9V45.4H226.4zM229.3 48.5H232.8V51.0H229.3zM220.6 59.6H224.1V62.1H220.6zM226.4 59.6H229.9V62.1H226.4zM229.3 61.5H232.8V63.9H229.3zM214.8 68.9H218.3V71.3H214.8zM220.6 68.9H227.0V71.3H220.6zM310.5 74.4H314.0V76.9H310.5zM310.5 78.1H314.0V80.6H310.5zM229.3 81.8H232.8V84.3H229.3zM307.6 81.8H311.1V84.3H307.6zM229.3 85.5H232.8V88.0H229.3zM209.0 87.4H212.5V89.8H209.0zM322.1 89.2H325.0V91.7H322.1zM307.6 96.6H314.0V99.1H307.6zM319.2 96.6H322.7V99.1H319.2zM272.8 102.2H276.3V104.6H272.8zM255.4 104.0H258.9V106.4H255.4zM249.6 107.7H253.1V110.1H249.6zM272.8 107.7H276.3V110.1H272.8zM264.1 116.9H267.6V119.4H264.1zM240.9 118.8H244.4V121.2H240.9zM298.9 120.6H302.4V123.1H298.9zM290.2 122.5H293.7V124.9H290.2zM296.0 122.5H299.5V124.9H296.0zM272.8 124.3H276.3V126.8H272.8zM284.4 124.3H287.9V126.8H284.4zM269.9 126.2H273.4V128.6H269.9zM275.7 126.2H282.1V128.6H275.7zM301.8 126.2H305.3V128.6H301.8zM287.3 128.0H290.8V130.5H287.3zM293.1 128.0H296.6V130.5H293.1zM272.8 129.9H276.3V132.3H272.8zM240.9 131.7H244.4V134.2H240.9zM272.8 131.7H276.3V134.2H272.8zM240.9 137.3H244.4V139.7H240.9zM275.7 137.3H279.2V139.7H275.7zM296.0 139.1H299.5V141.6H296.0zM269.9 141.0H273.4V143.4H269.9zM255.4 144.7H258.9V147.1H255.4zM249.6 150.2H253.1V152.7H249.6zM261.2 150.2H264.7V152.7H261.2zM284.4 150.2H287.9V152.7H284.4zM293.1 152.1H296.6V154.5H293.1zM261.2 157.6H264.7V160.1H261.2zM267.0 157.6H270.5V160.1H267.0zM275.7 157.6H279.2V160.1H275.7zM243.8 159.5H247.3V161.9H243.8zM281.5 159.5H285.0V161.9H281.5zM246.7 161.3H250.2V163.8H246.7zM258.3 161.3H261.8V163.8H258.3zM261.2 163.2H264.7V165.0H261.2z"/><path fill="#f0dcaf" d="M232.2 43.0H235.7V45.4H232.2zM238.0 43.0H241.5V45.4H238.0zM220.6 46.7H224.1V49.1H220.6zM211.9 50.4H215.4V52.8H211.9zM223.5 50.4H227.0V52.8H223.5zM211.9 54.1H215.4V56.5H211.9zM220.6 54.1H224.1V56.5H220.6zM211.9 55.9H215.4V58.4H211.9zM235.1 55.9H238.6V58.4H235.1zM220.6 74.4H224.1V76.9H220.6zM211.9 80.0H215.4V82.4H211.9zM211.9 81.8H215.4V84.3H211.9zM211.9 89.2H215.4V91.7H211.9zM209.0 92.9H212.5V95.4H209.0zM220.6 94.8H227.0V97.2H220.6zM238.0 96.6H241.5V99.1H238.0zM209.0 98.5H212.5V100.9H209.0zM217.7 98.5H224.1V100.9H217.7zM275.7 100.3H279.2V102.8H275.7zM243.8 104.0H250.2V106.4H243.8zM252.5 104.0H256.0V106.4H252.5zM267.0 104.0H273.4V106.4H267.0zM298.9 104.0H302.4V106.4H298.9zM275.7 105.8H282.1V108.3H275.7zM290.2 105.8H293.7V108.3H290.2zM290.2 107.7H293.7V110.1H290.2zM261.2 113.2H267.6V115.7H261.2zM269.9 113.2H273.4V115.7H269.9zM249.6 118.8H253.1V121.2H249.6zM284.4 118.8H287.9V121.2H284.4zM290.2 118.8H293.7V121.2H290.2zM272.8 120.6H276.3V123.1H272.8zM272.8 122.5H276.3V124.9H272.8zM246.7 126.2H250.2V128.6H246.7zM246.7 131.7H250.2V134.2H246.7zM246.7 135.4H250.2V137.9H246.7zM272.8 135.4H285.0V137.9H272.8zM249.6 137.3H253.1V139.7H249.6zM267.0 139.1H270.5V141.6H267.0zM264.1 142.8H267.6V145.3H264.1zM243.8 146.5H247.3V149.0H243.8zM261.2 146.5H264.7V149.0H261.2zM284.4 152.1H287.9V154.5H284.4zM264.1 155.8H267.6V158.2H264.1zM272.8 155.8H276.3V158.2H272.8zM269.9 161.3H276.3V163.8H269.9zM296.0 163.2H302.4V165.0H296.0z"/><path fill="#f0e1b4" d="M235.1 43.0H238.6V45.4H235.1zM240.9 43.0H244.4V45.4H240.9zM217.7 44.8H221.2V47.3H217.7zM223.5 44.8H229.9V47.3H223.5zM209.0 46.7H212.5V49.1H209.0zM229.3 50.4H232.8V52.8H229.3zM243.8 50.4H247.3V52.8H243.8zM220.6 52.2H224.1V54.7H220.6zM243.8 52.2H247.3V54.7H243.8zM223.5 54.1H227.0V56.5H223.5zM229.3 54.1H232.8V56.5H229.3zM238.0 54.1H241.5V56.5H238.0zM226.4 55.9H229.9V58.4H226.4zM211.9 57.8H215.4V60.2H211.9zM217.7 57.8H227.0V60.2H217.7zM209.0 59.6H212.5V62.1H209.0zM220.6 61.5H224.1V63.9H220.6zM211.9 63.3H215.4V65.8H211.9zM229.3 63.3H232.8V65.8H229.3zM235.1 63.3H238.6V65.8H235.1zM235.1 67.0H238.6V69.5H235.1zM229.3 68.9H232.8V71.3H229.3zM235.1 68.9H238.6V71.3H235.1zM217.7 70.7H221.2V73.2H217.7zM223.5 70.7H227.0V73.2H223.5zM214.8 72.6H218.3V75.0H214.8zM223.5 74.4H227.0V76.9H223.5zM209.0 78.1H212.5V80.6H209.0zM229.3 80.0H232.8V82.4H229.3zM217.7 81.8H221.2V84.3H217.7zM229.3 83.7H232.8V86.1H229.3zM310.5 83.7H314.0V86.1H310.5zM211.9 91.1H215.4V93.5H211.9zM217.7 92.9H221.2V95.4H217.7zM209.0 94.8H212.5V97.2H209.0zM304.7 94.8H308.2V97.2H304.7zM211.9 96.6H215.4V99.1H211.9zM229.3 96.6H232.8V99.1H229.3zM304.7 96.6H308.2V99.1H304.7zM214.8 98.5H218.3V100.9H214.8zM223.5 98.5H227.0V100.9H223.5zM232.2 98.5H235.7V100.9H232.2zM278.6 100.3H287.9V102.8H278.6zM278.6 102.2H282.1V104.6H278.6zM249.6 104.0H253.1V106.4H249.6zM275.7 104.0H290.8V106.4H275.7zM296.0 104.0H299.5V106.4H296.0zM252.5 105.8H256.0V108.3H252.5zM281.5 105.8H285.0V108.3H281.5zM246.7 109.5H250.2V112.0H246.7zM290.2 109.5H293.7V112.0H290.2zM267.0 113.2H270.5V115.7H267.0zM287.3 118.8H290.8V121.2H287.3zM275.7 120.6H279.2V123.1H275.7zM275.7 122.5H279.2V124.9H275.7zM278.6 124.3H282.1V126.8H278.6zM287.3 124.3H290.8V126.8H287.3zM298.9 128.0H302.4V130.5H298.9zM278.6 131.7H282.1V134.2H278.6zM240.9 135.4H247.3V137.9H240.9zM267.0 135.4H270.5V137.9H267.0zM246.7 137.3H250.2V139.7H246.7zM272.8 139.1H276.3V141.6H272.8zM278.6 139.1H282.1V141.6H278.6zM249.6 141.0H253.1V143.4H249.6zM261.2 142.8H264.7V145.3H261.2zM272.8 142.8H276.3V145.3H272.8zM281.5 142.8H285.0V145.3H281.5zM267.0 144.7H270.5V147.1H267.0zM240.9 146.5H244.4V149.0H240.9zM246.7 146.5H250.2V149.0H246.7zM246.7 148.4H250.2V150.8H246.7zM264.1 148.4H267.6V150.8H264.1zM246.7 155.8H253.1V158.2H246.7zM261.2 155.8H264.7V158.2H261.2zM275.7 155.8H282.1V158.2H275.7zM287.3 155.8H290.8V158.2H287.3zM296.0 155.8H302.4V158.2H296.0zM290.2 157.6H293.7V160.1H290.2zM269.9 159.5H273.4V161.9H269.9zM267.0 161.3H270.5V163.8H267.0z"/><path fill="#dce1c8" d="M246.7 43.0H250.2V45.4H246.7zM272.8 43.0H276.3V45.4H272.8zM293.1 43.0H296.6V45.4H293.1zM298.9 43.0H302.4V45.4H298.9zM319.2 43.0H325.0V45.4H319.2zM243.8 44.8H247.3V47.3H243.8zM272.8 44.8H276.3V47.3H272.8zM310.5 44.8H314.0V47.3H310.5zM246.7 46.7H250.2V49.1H246.7zM290.2 46.7H293.7V49.1H290.2zM298.9 46.7H302.4V49.1H298.9zM304.7 46.7H308.2V49.1H304.7zM249.6 50.4H253.1V52.8H249.6zM269.9 50.4H273.4V52.8H269.9zM316.3 50.4H319.8V52.8H316.3zM272.8 52.2H276.3V54.7H272.8zM287.3 52.2H293.7V54.7H287.3zM316.3 54.1H319.8V56.5H316.3zM243.8 55.9H247.3V58.4H243.8zM252.5 55.9H258.9V58.4H252.5zM287.3 55.9H293.7V58.4H287.3zM296.0 55.9H299.5V58.4H296.0zM304.7 55.9H311.1V58.4H304.7zM310.5 57.8H314.0V60.2H310.5zM322.1 57.8H325.0V60.2H322.1zM255.4 59.6H258.9V62.1H255.4zM298.9 59.6H302.4V62.1H298.9zM307.6 59.6H314.0V62.1H307.6zM252.5 61.5H256.0V63.9H252.5zM272.8 61.5H276.3V63.9H272.8zM249.6 63.3H253.1V65.8H249.6zM304.7 65.2H308.2V67.6H304.7zM310.5 67.0H314.0V69.5H310.5zM316.3 67.0H319.8V69.5H316.3zM307.6 68.9H311.1V71.3H307.6zM249.6 70.7H256.0V73.2H249.6zM249.6 72.6H253.1V75.0H249.6zM301.8 72.6H305.3V75.0H301.8zM226.4 87.4H232.8V89.8H226.4zM310.5 87.4H314.0V89.8H310.5zM307.6 89.2H311.1V91.7H307.6zM310.5 100.3H314.0V102.8H310.5zM301.8 102.2H305.3V104.6H301.8zM240.9 111.4H250.2V113.8H240.9zM293.1 111.4H296.6V113.8H293.1zM316.3 113.2H319.8V115.7H316.3zM310.5 120.6H314.0V123.1H310.5zM301.8 122.5H305.3V124.9H301.8zM310.5 122.5H314.0V124.9H310.5zM275.7 128.0H279.2V130.5H275.7zM284.4 128.0H287.9V130.5H284.4zM246.7 129.9H250.2V132.3H246.7zM296.0 131.7H299.5V134.2H296.0zM322.1 131.7H325.0V134.2H322.1zM293.1 133.6H296.6V136.0H293.1zM298.9 133.6H305.3V136.0H298.9zM293.1 141.0H299.5V143.4H293.1zM301.8 141.0H305.3V143.4H301.8zM310.5 142.8H314.0V145.3H310.5zM287.3 144.7H290.8V147.1H287.3zM293.1 148.4H296.6V150.8H293.1zM304.7 148.4H308.2V150.8H304.7zM304.7 155.8H308.2V158.2H304.7zM287.3 159.5H290.8V161.9H287.3z"/><path fill="#dce1cd" d="M249.6 43.0H253.1V45.4H249.6zM304.7 43.0H308.2V45.4H304.7zM249.6 46.7H253.1V49.1H249.6zM272.8 46.7H276.3V49.1H272.8zM249.6 48.5H253.1V51.0H249.6zM310.5 48.5H314.0V51.0H310.5zM246.7 50.4H250.2V52.8H246.7zM272.8 50.4H276.3V52.8H272.8zM298.9 50.4H302.4V52.8H298.9zM246.7 52.2H253.1V54.7H246.7zM313.4 54.1H316.9V56.5H313.4zM240.9 55.9H244.4V58.4H240.9zM258.3 55.9H261.8V58.4H258.3zM298.9 55.9H302.4V58.4H298.9zM319.2 55.9H322.7V58.4H319.2zM290.2 57.8H293.7V60.2H290.2zM301.8 57.8H308.2V60.2H301.8zM249.6 59.6H253.1V62.1H249.6zM293.1 59.6H296.6V62.1H293.1zM313.4 59.6H316.9V62.1H313.4zM249.6 61.5H253.1V63.9H249.6zM269.9 61.5H273.4V63.9H269.9zM319.2 61.5H322.7V63.9H319.2zM290.2 63.3H293.7V65.8H290.2zM319.2 63.3H322.7V65.8H319.2zM310.5 65.2H314.0V67.6H310.5zM298.9 67.0H302.4V69.5H298.9zM246.7 68.9H250.2V71.3H246.7zM290.2 68.9H293.7V71.3H290.2zM287.3 70.7H290.8V73.2H287.3zM298.9 70.7H302.4V73.2H298.9zM316.3 70.7H319.8V73.2H316.3zM322.1 70.7H325.0V73.2H322.1zM246.7 72.6H250.2V75.0H246.7zM252.5 72.6H256.0V75.0H252.5zM272.8 72.6H276.3V75.0H272.8zM301.8 78.1H305.3V80.6H301.8zM307.6 78.1H311.1V80.6H307.6zM304.7 87.4H308.2V89.8H304.7zM307.6 100.3H311.1V102.8H307.6zM293.1 102.2H296.6V104.6H293.1zM316.3 104.0H322.7V106.4H316.3zM304.7 107.7H308.2V110.1H304.7zM293.1 113.2H296.6V115.7H293.1zM304.7 113.2H308.2V115.7H304.7zM319.2 113.2H322.7V115.7H319.2zM304.7 115.1H314.0V117.5H304.7zM252.5 116.9H256.0V119.4H252.5zM304.7 120.6H308.2V123.1H304.7zM319.2 120.6H325.0V123.1H319.2zM310.5 124.3H319.8V126.8H310.5zM310.5 126.2H314.0V128.6H310.5zM243.8 128.0H247.3V130.5H243.8zM307.6 128.0H314.0V130.5H307.6zM293.1 131.7H296.6V134.2H293.1zM296.0 137.3H299.5V139.7H296.0zM304.7 139.1H311.1V141.6H304.7zM319.2 141.0H325.0V143.4H319.2zM240.9 144.7H247.3V147.1H240.9zM307.6 146.5H314.0V149.0H307.6zM313.4 148.4H316.9V150.8H313.4zM301.8 150.2H305.3V152.7H301.8zM322.1 152.1H325.0V154.5H322.1zM307.6 153.9H314.0V156.4H307.6zM304.7 157.6H308.2V160.1H304.7zM255.4 159.5H258.9V161.9H255.4zM316.3 163.2H319.8V165.0H316.3z"/><path fill="#d7dccd" d="M252.5 43.0H256.0V45.4H252.5zM301.8 43.0H305.3V45.4H301.8zM296.0 44.8H302.4V47.3H296.0zM255.4 46.7H261.8V49.1H255.4zM322.1 46.7H325.0V49.1H322.1zM269.9 48.5H273.4V51.0H269.9zM307.6 48.5H311.1V51.0H307.6zM313.4 48.5H316.9V51.0H313.4zM322.1 48.5H325.0V51.0H322.1zM301.8 50.4H305.3V52.8H301.8zM255.4 52.2H261.8V54.7H255.4zM249.6 54.1H253.1V56.5H249.6zM275.7 54.1H279.2V56.5H275.7zM296.0 54.1H299.5V56.5H296.0zM293.1 55.9H296.6V58.4H293.1zM316.3 55.9H319.8V58.4H316.3zM246.7 57.8H250.2V60.2H246.7zM296.0 57.8H299.5V60.2H296.0zM313.4 57.8H316.9V60.2H313.4zM301.8 59.6H308.2V62.1H301.8zM316.3 59.6H319.8V62.1H316.3zM255.4 63.3H258.9V65.8H255.4zM278.6 63.3H282.1V65.8H278.6zM298.9 63.3H302.4V65.8H298.9zM258.3 65.2H261.8V67.6H258.3zM298.9 65.2H302.4V67.6H298.9zM307.6 65.2H311.1V67.6H307.6zM313.4 65.2H316.9V67.6H313.4zM252.5 67.0H256.0V69.5H252.5zM290.2 67.0H293.7V69.5H290.2zM296.0 67.0H299.5V69.5H296.0zM307.6 67.0H311.1V69.5H307.6zM269.9 68.9H273.4V71.3H269.9zM287.3 68.9H290.8V71.3H287.3zM322.1 68.9H325.0V71.3H322.1zM290.2 72.6H293.7V75.0H290.2zM296.0 72.6H299.5V75.0H296.0zM298.9 76.3H302.4V78.7H298.9zM246.7 78.1H250.2V80.6H246.7zM243.8 83.7H247.3V86.1H243.8zM290.2 83.7H293.7V86.1H290.2zM261.2 91.1H264.7V93.5H261.2zM296.0 91.1H299.5V93.5H296.0zM287.3 94.8H290.8V97.2H287.3zM264.1 96.6H267.6V99.1H264.1zM272.8 96.6H276.3V99.1H272.8zM278.6 96.6H282.1V99.1H278.6zM243.8 98.5H247.3V100.9H243.8zM264.1 98.5H267.6V100.9H264.1zM304.7 100.3H308.2V102.8H304.7zM316.3 100.3H322.7V102.8H316.3zM307.6 102.2H311.1V104.6H307.6zM319.2 102.2H322.7V104.6H319.2zM313.4 104.0H316.9V106.4H313.4zM322.1 104.0H325.0V106.4H322.1zM310.5 107.7H314.0V110.1H310.5zM322.1 107.7H325.0V110.1H322.1zM304.7 109.5H311.1V112.0H304.7zM307.6 113.2H311.1V115.7H307.6zM255.4 116.9H258.9V119.4H255.4zM319.2 116.9H322.7V119.4H319.2zM304.7 118.8H308.2V121.2H304.7zM319.2 118.8H322.7V121.2H319.2zM307.6 120.6H311.1V123.1H307.6zM316.3 122.5H319.8V124.9H316.3zM304.7 126.2H308.2V128.6H304.7zM322.1 126.2H325.0V128.6H322.1zM307.6 129.9H311.1V132.3H307.6zM313.4 131.7H316.9V134.2H313.4zM322.1 133.6H325.0V136.0H322.1zM307.6 135.4H314.0V137.9H307.6zM319.2 137.3H322.7V139.7H319.2zM316.3 139.1H319.8V141.6H316.3zM316.3 141.0H319.8V143.4H316.3zM304.7 142.8H311.1V145.3H304.7zM313.4 142.8H316.9V145.3H313.4zM307.6 144.7H311.1V147.1H307.6zM322.1 148.4H325.0V150.8H322.1zM310.5 150.2H314.0V152.7H310.5zM319.2 150.2H322.7V152.7H319.2zM304.7 153.9H308.2V156.4H304.7zM316.3 155.8H319.8V158.2H316.3zM316.3 157.6H319.8V160.1H316.3zM310.5 159.5H314.0V161.9H310.5zM304.7 161.3H311.1V163.8H304.7zM313.4 161.3H316.9V163.8H313.4zM307.6 163.2H311.1V165.0H307.6zM322.1 163.2H325.0V165.0H322.1z"/><path fill="#d2dcd2" d="M255.4 43.0H258.9V45.4H255.4zM246.7 44.8H250.2V47.3H246.7zM252.5 44.8H256.0V47.3H252.5zM258.3 44.8H261.8V47.3H258.3zM264.1 44.8H267.6V47.3H264.1zM275.7 44.8H279.2V47.3H275.7zM281.5 44.8H285.0V47.3H281.5zM287.3 44.8H290.8V47.3H287.3zM293.1 44.8H296.6V47.3H293.1zM301.8 44.8H305.3V47.3H301.8zM307.6 44.8H311.1V47.3H307.6zM287.3 46.7H290.8V49.1H287.3zM307.6 46.7H319.8V49.1H307.6zM246.7 48.5H250.2V51.0H246.7zM252.5 48.5H261.8V51.0H252.5zM290.2 48.5H293.7V51.0H290.2zM296.0 48.5H299.5V51.0H296.0zM301.8 48.5H305.3V51.0H301.8zM319.2 48.5H322.7V51.0H319.2zM255.4 50.4H261.8V52.8H255.4zM284.4 50.4H287.9V52.8H284.4zM293.1 50.4H296.6V52.8H293.1zM296.0 52.2H302.4V54.7H296.0zM304.7 52.2H308.2V54.7H304.7zM252.5 54.1H256.0V56.5H252.5zM290.2 54.1H296.6V56.5H290.2zM298.9 54.1H302.4V56.5H298.9zM249.6 55.9H253.1V58.4H249.6zM272.8 55.9H276.3V58.4H272.8zM278.6 55.9H282.1V58.4H278.6zM313.4 55.9H316.9V58.4H313.4zM252.5 57.8H256.0V60.2H252.5zM258.3 57.8H264.7V60.2H258.3zM267.0 57.8H270.5V60.2H267.0zM272.8 57.8H276.3V60.2H272.8zM293.1 57.8H296.6V60.2H293.1zM258.3 59.6H261.8V62.1H258.3zM287.3 59.6H290.8V62.1H287.3zM255.4 61.5H258.9V63.9H255.4zM287.3 61.5H293.7V63.9H287.3zM296.0 61.5H299.5V63.9H296.0zM307.6 61.5H311.1V63.9H307.6zM316.3 61.5H319.8V63.9H316.3zM269.9 63.3H273.4V65.8H269.9zM281.5 63.3H285.0V65.8H281.5zM293.1 63.3H299.5V65.8H293.1zM249.6 65.2H256.0V67.6H249.6zM269.9 65.2H273.4V67.6H269.9zM293.1 65.2H296.6V67.6H293.1zM301.8 65.2H305.3V67.6H301.8zM249.6 67.0H253.1V69.5H249.6zM258.3 67.0H261.8V69.5H258.3zM287.3 67.0H290.8V69.5H287.3zM301.8 67.0H308.2V69.5H301.8zM313.4 67.0H316.9V69.5H313.4zM322.1 67.0H325.0V69.5H322.1zM293.1 68.9H296.6V71.3H293.1zM298.9 68.9H308.2V71.3H298.9zM313.4 68.9H316.9V71.3H313.4zM319.2 68.9H322.7V71.3H319.2zM255.4 70.7H258.9V73.2H255.4zM258.3 72.6H261.8V75.0H258.3zM293.1 72.6H296.6V75.0H293.1zM290.2 76.3H293.7V78.7H290.2zM296.0 76.3H299.5V78.7H296.0zM249.6 78.1H253.1V80.6H249.6zM272.8 78.1H276.3V80.6H272.8zM290.2 78.1H293.7V80.6H290.2zM296.0 78.1H299.5V80.6H296.0zM240.9 80.0H244.4V82.4H240.9zM272.8 80.0H279.2V82.4H272.8zM284.4 80.0H287.9V82.4H284.4zM296.0 80.0H299.5V82.4H296.0zM249.6 81.8H256.0V84.3H249.6zM281.5 81.8H285.0V84.3H281.5zM298.9 81.8H302.4V84.3H298.9zM240.9 83.7H244.4V86.1H240.9zM246.7 83.7H253.1V86.1H246.7zM275.7 83.7H279.2V86.1H275.7zM281.5 83.7H290.8V86.1H281.5zM296.0 83.7H299.5V86.1H296.0zM243.8 85.5H247.3V88.0H243.8zM261.2 85.5H282.1V88.0H261.2zM296.0 85.5H302.4V88.0H296.0zM301.8 87.4H305.3V89.8H301.8zM264.1 91.1H267.6V93.5H264.1zM275.7 91.1H279.2V93.5H275.7zM243.8 92.9H247.3V95.4H243.8zM298.9 92.9H302.4V95.4H298.9zM249.6 94.8H253.1V97.2H249.6zM275.7 94.8H285.0V97.2H275.7zM293.1 94.8H296.6V97.2H293.1zM298.9 94.8H302.4V97.2H298.9zM243.8 96.6H250.2V99.1H243.8zM261.2 96.6H264.7V99.1H261.2zM267.0 96.6H273.4V99.1H267.0zM281.5 96.6H285.0V99.1H281.5zM296.0 96.6H302.4V99.1H296.0zM240.9 98.5H244.4V100.9H240.9zM246.7 98.5H250.2V100.9H246.7zM261.2 98.5H264.7V100.9H261.2zM269.9 98.5H285.0V100.9H269.9zM322.1 100.3H325.0V102.8H322.1zM304.7 102.2H308.2V104.6H304.7zM310.5 102.2H314.0V104.6H310.5zM316.3 102.2H319.8V104.6H316.3zM322.1 102.2H325.0V104.6H322.1zM232.2 104.0H235.7V106.4H232.2zM307.6 104.0H314.0V106.4H307.6zM232.2 105.8H241.5V108.3H232.2zM304.7 105.8H308.2V108.3H304.7zM220.6 107.7H224.1V110.1H220.6zM307.6 107.7H311.1V110.1H307.6zM313.4 107.7H319.8V110.1H313.4zM310.5 109.5H316.9V112.0H310.5zM319.2 109.5H322.7V112.0H319.2zM307.6 111.4H314.0V113.8H307.6zM319.2 111.4H325.0V113.8H319.2zM217.7 113.2H221.2V115.7H217.7zM313.4 115.1H319.8V117.5H313.4zM310.5 116.9H319.8V119.4H310.5zM322.1 116.9H325.0V119.4H322.1zM307.6 118.8H311.1V121.2H307.6zM313.4 118.8H319.8V121.2H313.4zM209.0 120.6H215.4V123.1H209.0zM217.7 120.6H221.2V123.1H217.7zM313.4 120.6H316.9V123.1H313.4zM304.7 122.5H308.2V124.9H304.7zM304.7 124.3H308.2V126.8H304.7zM319.2 124.3H325.0V126.8H319.2zM313.4 126.2H322.7V128.6H313.4zM211.9 128.0H215.4V130.5H211.9zM313.4 128.0H316.9V130.5H313.4zM304.7 129.9H308.2V132.3H304.7zM313.4 129.9H316.9V132.3H313.4zM319.2 129.9H325.0V132.3H319.2zM223.5 131.7H229.9V134.2H223.5zM304.7 131.7H311.1V134.2H304.7zM220.6 133.6H224.1V136.0H220.6zM310.5 133.6H316.9V136.0H310.5zM319.2 133.6H322.7V136.0H319.2zM304.7 135.4H308.2V137.9H304.7zM313.4 135.4H316.9V137.9H313.4zM322.1 135.4H325.0V137.9H322.1zM232.2 137.3H235.7V139.7H232.2zM304.7 137.3H308.2V139.7H304.7zM310.5 137.3H314.0V139.7H310.5zM209.0 139.1H215.4V141.6H209.0zM229.3 139.1H235.7V141.6H229.3zM319.2 139.1H322.7V141.6H319.2zM307.6 141.0H311.1V143.4H307.6zM313.4 141.0H316.9V143.4H313.4zM322.1 142.8H325.0V145.3H322.1zM304.7 144.7H308.2V147.1H304.7zM322.1 144.7H325.0V147.1H322.1zM319.2 148.4H322.7V150.8H319.2zM313.4 150.2H319.8V152.7H313.4zM304.7 152.1H314.0V154.5H304.7zM319.2 152.1H322.7V154.5H319.2zM223.5 153.9H227.0V156.4H223.5zM316.3 153.9H319.8V156.4H316.3zM322.1 153.9H325.0V156.4H322.1zM307.6 155.8H316.9V158.2H307.6zM322.1 155.8H325.0V158.2H322.1zM307.6 157.6H314.0V160.1H307.6zM319.2 159.5H322.7V161.9H319.2zM316.3 161.3H319.8V163.8H316.3zM322.1 161.3H325.0V163.8H322.1zM211.9 163.2H215.4V165.0H211.9zM238.0 163.2H241.5V165.0H238.0zM310.5 163.2H314.0V165.0H310.5z"/><path fill="#d7e1cd" d="M258.3 43.0H261.8V45.4H258.3zM307.6 43.0H319.8V45.4H307.6zM249.6 44.8H253.1V47.3H249.6zM278.6 44.8H282.1V47.3H278.6zM284.4 44.8H287.9V47.3H284.4zM290.2 44.8H293.7V47.3H290.2zM304.7 44.8H308.2V47.3H304.7zM322.1 44.8H325.0V47.3H322.1zM252.5 46.7H256.0V49.1H252.5zM269.9 46.7H273.4V49.1H269.9zM296.0 46.7H299.5V49.1H296.0zM319.2 46.7H322.7V49.1H319.2zM272.8 48.5H276.3V51.0H272.8zM287.3 48.5H290.8V51.0H287.3zM304.7 48.5H308.2V51.0H304.7zM287.3 50.4H290.8V52.8H287.3zM296.0 50.4H299.5V52.8H296.0zM304.7 50.4H311.1V52.8H304.7zM313.4 50.4H316.9V52.8H313.4zM269.9 52.2H273.4V54.7H269.9zM293.1 52.2H296.6V54.7H293.1zM322.1 52.2H325.0V54.7H322.1zM246.7 54.1H250.2V56.5H246.7zM255.4 54.1H258.9V56.5H255.4zM304.7 54.1H308.2V56.5H304.7zM319.2 54.1H325.0V56.5H319.2zM269.9 55.9H273.4V58.4H269.9zM301.8 55.9H305.3V58.4H301.8zM310.5 55.9H314.0V58.4H310.5zM249.6 57.8H253.1V60.2H249.6zM287.3 57.8H290.8V60.2H287.3zM298.9 57.8H302.4V60.2H298.9zM307.6 57.8H311.1V60.2H307.6zM316.3 57.8H319.8V60.2H316.3zM246.7 59.6H250.2V62.1H246.7zM252.5 59.6H256.0V62.1H252.5zM269.9 59.6H273.4V62.1H269.9zM246.7 61.5H250.2V63.9H246.7zM301.8 61.5H305.3V63.9H301.8zM310.5 61.5H316.9V63.9H310.5zM322.1 61.5H325.0V63.9H322.1zM246.7 63.3H250.2V65.8H246.7zM275.7 63.3H279.2V65.8H275.7zM287.3 63.3H290.8V65.8H287.3zM301.8 63.3H305.3V65.8H301.8zM322.1 63.3H325.0V65.8H322.1zM255.4 65.2H258.9V67.6H255.4zM272.8 65.2H276.3V67.6H272.8zM290.2 65.2H293.7V67.6H290.2zM316.3 65.2H325.0V67.6H316.3zM255.4 67.0H258.9V69.5H255.4zM269.9 67.0H276.3V69.5H269.9zM272.8 68.9H276.3V71.3H272.8zM310.5 68.9H314.0V71.3H310.5zM316.3 68.9H319.8V71.3H316.3zM246.7 70.7H250.2V73.2H246.7zM258.3 70.7H261.8V73.2H258.3zM293.1 70.7H299.5V73.2H293.1zM301.8 70.7H311.1V73.2H301.8zM255.4 72.6H258.9V75.0H255.4zM269.9 72.6H273.4V75.0H269.9zM275.7 72.6H285.0V75.0H275.7zM287.3 72.6H290.8V75.0H287.3zM304.7 72.6H308.2V75.0H304.7zM313.4 72.6H319.8V75.0H313.4zM322.1 72.6H325.0V75.0H322.1zM301.8 74.4H305.3V76.9H301.8zM278.6 83.7H282.1V86.1H278.6zM307.6 87.4H311.1V89.8H307.6zM301.8 89.2H308.2V91.7H301.8zM301.8 92.9H305.3V95.4H301.8zM290.2 94.8H293.7V97.2H290.2zM296.0 94.8H299.5V97.2H296.0zM275.7 96.6H279.2V99.1H275.7zM249.6 98.5H253.1V100.9H249.6zM313.4 100.3H316.9V102.8H313.4zM284.4 102.2H287.9V104.6H284.4zM304.7 104.0H308.2V106.4H304.7zM322.1 113.2H325.0V115.7H322.1zM319.2 115.1H325.0V117.5H319.2zM258.3 116.9H264.7V119.4H258.3zM293.1 116.9H296.6V119.4H293.1zM310.5 118.8H314.0V121.2H310.5zM316.3 120.6H319.8V123.1H316.3zM313.4 122.5H316.9V124.9H313.4zM307.6 124.3H311.1V126.8H307.6zM316.3 128.0H325.0V130.5H316.3zM310.5 129.9H314.0V132.3H310.5zM316.3 129.9H319.8V132.3H316.3zM316.3 131.7H319.8V134.2H316.3zM316.3 135.4H319.8V137.9H316.3zM316.3 137.3H319.8V139.7H316.3zM322.1 139.1H325.0V141.6H322.1zM316.3 142.8H322.7V145.3H316.3zM313.4 146.5H325.0V149.0H313.4zM307.6 148.4H311.1V150.8H307.6zM316.3 148.4H319.8V150.8H316.3zM313.4 152.1H319.8V154.5H313.4zM307.6 159.5H311.1V161.9H307.6zM310.5 161.3H314.0V163.8H310.5zM313.4 163.2H316.9V165.0H313.4zM319.2 163.2H322.7V165.0H319.2z"/><path fill="#c3d2d7" d="M261.2 43.0H264.7V45.4H261.2zM267.0 43.0H270.5V45.4H267.0zM281.5 43.0H285.0V45.4H281.5zM267.0 46.7H270.5V49.1H267.0zM267.0 48.5H270.5V51.0H267.0zM281.5 57.8H285.0V60.2H281.5zM278.6 59.6H282.1V62.1H278.6zM284.4 59.6H287.9V62.1H284.4zM261.2 63.3H270.5V65.8H261.2zM284.4 63.3H287.9V65.8H284.4zM275.7 65.2H279.2V67.6H275.7zM284.4 65.2H287.9V67.6H284.4zM267.0 67.0H270.5V69.5H267.0zM284.4 68.9H287.9V71.3H284.4zM267.0 72.6H270.5V75.0H267.0zM246.7 74.4H250.2V76.9H246.7zM255.4 74.4H258.9V76.9H255.4zM272.8 74.4H276.3V76.9H272.8zM278.6 74.4H285.0V76.9H278.6zM296.0 74.4H302.4V76.9H296.0zM258.3 76.3H261.8V78.7H258.3zM264.1 76.3H270.5V78.7H264.1zM287.3 76.3H290.8V78.7H287.3zM252.5 78.1H258.9V80.6H252.5zM267.0 80.0H270.5V82.4H267.0zM258.3 83.7H261.8V86.1H258.3zM293.1 85.5H296.6V88.0H293.1zM243.8 87.4H253.1V89.8H243.8zM290.2 87.4H293.7V89.8H290.2zM296.0 87.4H299.5V89.8H296.0zM249.6 89.2H253.1V91.7H249.6zM278.6 89.2H290.8V91.7H278.6zM298.9 89.2H302.4V91.7H298.9zM293.1 91.1H296.6V93.5H293.1zM258.3 92.9H261.8V95.4H258.3zM293.1 92.9H296.6V95.4H293.1zM293.1 98.5H296.6V100.9H293.1zM214.8 100.3H224.1V102.8H214.8zM238.0 100.3H241.5V102.8H238.0zM209.0 102.2H218.3V104.6H209.0zM238.0 102.2H241.5V104.6H238.0zM214.8 105.8H218.3V108.3H214.8zM232.2 107.7H238.6V110.1H232.2zM238.0 109.5H241.5V112.0H238.0zM229.3 111.4H232.8V113.8H229.3zM238.0 111.4H241.5V113.8H238.0zM226.4 113.2H238.6V115.7H226.4zM214.8 115.1H227.0V117.5H214.8zM229.3 115.1H232.8V117.5H229.3zM238.0 115.1H241.5V117.5H238.0zM209.0 116.9H215.4V119.4H209.0zM307.6 116.9H311.1V119.4H307.6zM220.6 118.8H224.1V121.2H220.6zM232.2 118.8H238.6V121.2H232.2zM229.3 120.6H235.7V123.1H229.3zM214.8 122.5H218.3V124.9H214.8zM226.4 122.5H232.8V124.9H226.4zM235.1 122.5H241.5V124.9H235.1zM217.7 124.3H224.1V126.8H217.7zM226.4 124.3H229.9V126.8H226.4zM209.0 126.2H212.5V128.6H209.0zM220.6 126.2H224.1V128.6H220.6zM229.3 128.0H232.8V130.5H229.3zM238.0 128.0H241.5V130.5H238.0zM211.9 129.9H218.3V132.3H211.9zM226.4 129.9H232.8V132.3H226.4zM235.1 129.9H241.5V132.3H235.1zM211.9 131.7H215.4V134.2H211.9zM235.1 133.6H241.5V136.0H235.1zM217.7 135.4H221.2V137.9H217.7zM229.3 135.4H232.8V137.9H229.3zM235.1 135.4H238.6V137.9H235.1zM214.8 137.3H221.2V139.7H214.8zM223.5 137.3H227.0V139.7H223.5zM209.0 141.0H212.5V143.4H209.0zM217.7 141.0H224.1V143.4H217.7zM226.4 141.0H229.9V143.4H226.4zM211.9 142.8H215.4V145.3H211.9zM209.0 144.7H212.5V147.1H209.0zM214.8 144.7H218.3V147.1H214.8zM229.3 144.7H232.8V147.1H229.3zM220.6 146.5H224.1V149.0H220.6zM209.0 148.4H212.5V150.8H209.0zM217.7 148.4H229.9V150.8H217.7zM232.2 148.4H235.7V150.8H232.2zM238.0 148.4H241.5V150.8H238.0zM209.0 152.1H218.3V154.5H209.0zM226.4 152.1H229.9V154.5H226.4zM209.0 153.9H212.5V156.4H209.0zM217.7 153.9H221.2V156.4H217.7zM209.0 155.8H212.5V158.2H209.0zM214.8 155.8H218.3V158.2H214.8zM226.4 155.8H229.9V158.2H226.4zM232.2 155.8H241.5V158.2H232.2zM211.9 157.6H215.4V160.1H211.9zM223.5 157.6H227.0V160.1H223.5zM209.0 159.5H212.5V161.9H209.0zM214.8 159.5H221.2V161.9H214.8zM226.4 159.5H229.9V161.9H226.4zM214.8 161.3H221.2V163.8H214.8zM226.4 161.3H229.9V163.8H226.4zM214.8 163.2H218.3V165.0H214.8z"/><path fill="#c8d7d7" d="M264.1 43.0H267.6V45.4H264.1zM275.7 43.0H279.2V45.4H275.7zM267.0 44.8H270.5V47.3H267.0zM278.6 46.7H285.0V49.1H278.6zM261.2 48.5H264.7V51.0H261.2zM278.6 48.5H282.1V51.0H278.6zM293.1 48.5H296.6V51.0H293.1zM264.1 50.4H267.6V52.8H264.1zM281.5 52.2H287.9V54.7H281.5zM278.6 54.1H282.1V56.5H278.6zM261.2 55.9H264.7V58.4H261.2zM275.7 57.8H282.1V60.2H275.7zM284.4 57.8H287.9V60.2H284.4zM261.2 59.6H264.7V62.1H261.2zM267.0 59.6H270.5V62.1H267.0zM281.5 59.6H285.0V62.1H281.5zM267.0 61.5H270.5V63.9H267.0zM275.7 61.5H282.1V63.9H275.7zM264.1 65.2H270.5V67.6H264.1zM261.2 67.0H264.7V69.5H261.2zM275.7 67.0H279.2V69.5H275.7zM255.4 68.9H258.9V71.3H255.4zM261.2 68.9H264.7V71.3H261.2zM281.5 68.9H285.0V71.3H281.5zM261.2 70.7H264.7V73.2H261.2zM281.5 70.7H287.9V73.2H281.5zM264.1 72.6H267.6V75.0H264.1zM249.6 74.4H253.1V76.9H249.6zM264.1 74.4H270.5V76.9H264.1zM275.7 74.4H279.2V76.9H275.7zM284.4 74.4H290.8V76.9H284.4zM240.9 76.3H244.4V78.7H240.9zM246.7 76.3H250.2V78.7H246.7zM269.9 76.3H273.4V78.7H269.9zM275.7 76.3H285.0V78.7H275.7zM293.1 76.3H296.6V78.7H293.1zM267.0 78.1H270.5V80.6H267.0zM275.7 78.1H285.0V80.6H275.7zM255.4 80.0H258.9V82.4H255.4zM269.9 80.0H273.4V82.4H269.9zM240.9 81.8H244.4V84.3H240.9zM258.3 81.8H273.4V84.3H258.3zM287.3 81.8H290.8V84.3H287.3zM252.5 83.7H256.0V86.1H252.5zM267.0 83.7H273.4V86.1H267.0zM246.7 85.5H250.2V88.0H246.7zM287.3 85.5H290.8V88.0H287.3zM252.5 87.4H256.0V89.8H252.5zM264.1 87.4H267.6V89.8H264.1zM269.9 87.4H273.4V89.8H269.9zM275.7 87.4H279.2V89.8H275.7zM264.1 89.2H270.5V91.7H264.1zM249.6 91.1H253.1V93.5H249.6zM255.4 91.1H258.9V93.5H255.4zM284.4 91.1H290.8V93.5H284.4zM252.5 92.9H256.0V95.4H252.5zM267.0 92.9H279.2V95.4H267.0zM290.2 92.9H293.7V95.4H290.2zM258.3 94.8H261.8V97.2H258.3zM264.1 94.8H267.6V97.2H264.1zM269.9 94.8H273.4V97.2H269.9zM249.6 96.6H253.1V99.1H249.6zM255.4 96.6H261.8V99.1H255.4zM284.4 96.6H287.9V99.1H284.4zM290.2 98.5H293.7V100.9H290.2zM211.9 100.3H215.4V102.8H211.9zM232.2 100.3H238.6V102.8H232.2zM217.7 102.2H221.2V104.6H217.7zM217.7 104.0H221.2V106.4H217.7zM226.4 104.0H229.9V106.4H226.4zM211.9 105.8H215.4V108.3H211.9zM217.7 105.8H221.2V108.3H217.7zM223.5 105.8H227.0V108.3H223.5zM211.9 107.7H215.4V110.1H211.9zM223.5 107.7H227.0V110.1H223.5zM211.9 109.5H218.3V112.0H211.9zM223.5 109.5H238.6V112.0H223.5zM220.6 111.4H224.1V113.8H220.6zM214.8 113.2H218.3V115.7H214.8zM223.5 113.2H227.0V115.7H223.5zM238.0 113.2H241.5V115.7H238.0zM209.0 118.8H212.5V121.2H209.0zM229.3 118.8H232.8V121.2H229.3zM238.0 120.6H241.5V123.1H238.0zM220.6 122.5H224.1V124.9H220.6zM235.1 124.3H241.5V126.8H235.1zM232.2 126.2H235.7V128.6H232.2zM214.8 128.0H218.3V130.5H214.8zM232.2 128.0H238.6V130.5H232.2zM220.6 129.9H224.1V132.3H220.6zM232.2 129.9H235.7V132.3H232.2zM209.0 131.7H212.5V134.2H209.0zM209.0 133.6H215.4V136.0H209.0zM217.7 133.6H221.2V136.0H217.7zM232.2 133.6H235.7V136.0H232.2zM304.7 133.6H311.1V136.0H304.7zM211.9 135.4H215.4V137.9H211.9zM211.9 137.3H215.4V139.7H211.9zM226.4 137.3H232.8V139.7H226.4zM238.0 137.3H241.5V139.7H238.0zM217.7 139.1H221.2V141.6H217.7zM226.4 139.1H229.9V141.6H226.4zM223.5 141.0H227.0V143.4H223.5zM232.2 141.0H238.6V143.4H232.2zM209.0 142.8H212.5V145.3H209.0zM223.5 142.8H232.8V145.3H223.5zM223.5 144.7H227.0V147.1H223.5zM232.2 146.5H235.7V149.0H232.2zM304.7 146.5H308.2V149.0H304.7zM211.9 148.4H215.4V150.8H211.9zM229.3 148.4H232.8V150.8H229.3zM229.3 150.2H238.6V152.7H229.3zM307.6 150.2H311.1V152.7H307.6zM220.6 152.1H224.1V154.5H220.6zM235.1 152.1H241.5V154.5H235.1zM211.9 153.9H218.3V156.4H211.9zM226.4 153.9H229.9V156.4H226.4zM235.1 153.9H241.5V156.4H235.1zM217.7 155.8H221.2V158.2H217.7zM223.5 155.8H227.0V158.2H223.5zM229.3 157.6H235.7V160.1H229.3zM238.0 157.6H241.5V160.1H238.0zM211.9 159.5H215.4V161.9H211.9zM220.6 159.5H224.1V161.9H220.6zM232.2 159.5H235.7V161.9H232.2zM209.0 161.3H212.5V163.8H209.0zM220.6 161.3H227.0V163.8H220.6zM232.2 161.3H235.7V163.8H232.2zM238.0 161.3H241.5V163.8H238.0zM220.6 163.2H227.0V165.0H220.6zM229.3 163.2H232.8V165.0H229.3z"/><path fill="#e1e1c8" d="M269.9 43.0H273.4V45.4H269.9zM287.3 43.0H293.7V45.4H287.3zM296.0 43.0H299.5V45.4H296.0zM269.9 44.8H273.4V47.3H269.9zM313.4 44.8H316.9V47.3H313.4zM310.5 50.4H314.0V52.8H310.5zM319.2 50.4H325.0V52.8H319.2zM252.5 52.2H256.0V54.7H252.5zM307.6 52.2H322.7V54.7H307.6zM269.9 54.1H273.4V56.5H269.9zM269.9 57.8H273.4V60.2H269.9zM272.8 59.6H276.3V62.1H272.8zM296.0 59.6H299.5V62.1H296.0zM319.2 59.6H325.0V62.1H319.2zM258.3 61.5H261.8V63.9H258.3zM298.9 61.5H302.4V63.9H298.9zM304.7 61.5H308.2V63.9H304.7zM252.5 63.3H256.0V65.8H252.5zM258.3 63.3H261.8V65.8H258.3zM307.6 63.3H316.9V65.8H307.6zM296.0 65.2H299.5V67.6H296.0zM214.8 67.0H218.3V69.5H214.8zM243.8 67.0H247.3V69.5H243.8zM272.8 70.7H276.3V73.2H272.8zM290.2 70.7H293.7V73.2H290.2zM313.4 70.7H316.9V73.2H313.4zM319.2 70.7H322.7V73.2H319.2zM298.9 72.6H302.4V75.0H298.9zM307.6 72.6H314.0V75.0H307.6zM319.2 72.6H322.7V75.0H319.2zM304.7 74.4H308.2V76.9H304.7zM214.8 76.3H218.3V78.7H214.8zM313.4 76.3H319.8V78.7H313.4zM304.7 78.1H308.2V80.6H304.7zM319.2 78.1H322.7V80.6H319.2zM214.8 80.0H218.3V82.4H214.8zM316.3 81.8H322.7V84.3H316.3zM217.7 87.4H224.1V89.8H217.7zM313.4 89.2H316.9V91.7H313.4zM304.7 92.9H308.2V95.4H304.7zM316.3 92.9H319.8V95.4H316.3zM293.1 100.3H299.5V102.8H293.1zM287.3 102.2H293.7V104.6H287.3zM296.0 102.2H299.5V104.6H296.0zM272.8 105.8H276.3V108.3H272.8zM313.4 105.8H319.8V108.3H313.4zM240.9 107.7H247.3V110.1H240.9zM319.2 107.7H322.7V110.1H319.2zM255.4 109.5H261.8V112.0H255.4zM249.6 111.4H253.1V113.8H249.6zM284.4 113.2H290.8V115.7H284.4zM310.5 113.2H316.9V115.7H310.5zM240.9 115.1H244.4V117.5H240.9zM246.7 115.1H250.2V117.5H246.7zM290.2 116.9H293.7V119.4H290.2zM296.0 116.9H299.5V119.4H296.0zM301.8 116.9H305.3V119.4H301.8zM255.4 122.5H261.8V124.9H255.4zM287.3 126.2H290.8V128.6H287.3zM293.1 126.2H296.6V128.6H293.1zM240.9 128.0H244.4V130.5H240.9zM249.6 128.0H253.1V130.5H249.6zM243.8 129.9H247.3V132.3H243.8zM301.8 129.9H305.3V132.3H301.8zM255.4 131.7H258.9V134.2H255.4zM319.2 131.7H322.7V134.2H319.2zM284.4 137.3H287.9V139.7H284.4zM293.1 137.3H296.6V139.7H293.1zM301.8 137.3H305.3V139.7H301.8zM310.5 141.0H314.0V143.4H310.5zM249.6 142.8H253.1V145.3H249.6zM246.7 144.7H250.2V147.1H246.7zM301.8 146.5H305.3V149.0H301.8zM284.4 148.4H287.9V150.8H284.4zM310.5 148.4H314.0V150.8H310.5zM264.1 150.2H270.5V152.7H264.1zM267.0 153.9H270.5V156.4H267.0zM264.1 159.5H267.6V161.9H264.1zM304.7 159.5H308.2V161.9H304.7zM290.2 163.2H293.7V165.0H290.2zM304.7 163.2H308.2V165.0H304.7z"/><path fill="#cdd7d2" d="M278.6 43.0H282.1V45.4H278.6zM293.1 46.7H296.6V49.1H293.1zM298.9 48.5H302.4V51.0H298.9zM316.3 48.5H319.8V51.0H316.3zM252.5 50.4H256.0V52.8H252.5zM267.0 50.4H270.5V52.8H267.0zM278.6 50.4H285.0V52.8H278.6zM261.2 52.2H264.7V54.7H261.2zM301.8 52.2H305.3V54.7H301.8zM258.3 54.1H261.8V56.5H258.3zM281.5 54.1H285.0V56.5H281.5zM301.8 54.1H305.3V56.5H301.8zM246.7 55.9H250.2V58.4H246.7zM275.7 55.9H279.2V58.4H275.7zM255.4 57.8H258.9V60.2H255.4zM264.1 59.6H267.6V62.1H264.1zM261.2 61.5H264.7V63.9H261.2zM304.7 63.3H308.2V65.8H304.7zM246.7 65.2H250.2V67.6H246.7zM278.6 67.0H287.9V69.5H278.6zM293.1 67.0H296.6V69.5H293.1zM249.6 68.9H256.0V71.3H249.6zM258.3 68.9H261.8V71.3H258.3zM275.7 68.9H279.2V71.3H275.7zM275.7 70.7H279.2V73.2H275.7zM258.3 74.4H261.8V76.9H258.3zM269.9 74.4H273.4V76.9H269.9zM264.1 78.1H267.6V80.6H264.1zM269.9 78.1H273.4V80.6H269.9zM293.1 80.0H296.6V82.4H293.1zM246.7 81.8H250.2V84.3H246.7zM275.7 81.8H282.1V84.3H275.7zM284.4 81.8H287.9V84.3H284.4zM290.2 81.8H293.7V84.3H290.2zM296.0 81.8H299.5V84.3H296.0zM261.2 83.7H267.6V86.1H261.2zM293.1 83.7H296.6V86.1H293.1zM249.6 85.5H256.0V88.0H249.6zM258.3 85.5H261.8V88.0H258.3zM281.5 85.5H285.0V88.0H281.5zM290.2 85.5H293.7V88.0H290.2zM267.0 87.4H270.5V89.8H267.0zM272.8 87.4H276.3V89.8H272.8zM243.8 91.1H247.3V93.5H243.8zM252.5 91.1H256.0V93.5H252.5zM272.8 91.1H276.3V93.5H272.8zM278.6 91.1H282.1V93.5H278.6zM298.9 91.1H302.4V93.5H298.9zM246.7 92.9H250.2V95.4H246.7zM264.1 92.9H267.6V95.4H264.1zM278.6 92.9H285.0V95.4H278.6zM287.3 92.9H290.8V95.4H287.3zM240.9 94.8H244.4V97.2H240.9zM246.7 94.8H250.2V97.2H246.7zM272.8 94.8H276.3V97.2H272.8zM252.5 96.6H256.0V99.1H252.5zM293.1 96.6H296.6V99.1H293.1zM252.5 98.5H261.8V100.9H252.5zM267.0 98.5H270.5V100.9H267.0zM287.3 98.5H290.8V100.9H287.3zM296.0 98.5H299.5V100.9H296.0zM220.6 102.2H224.1V104.6H220.6zM229.3 102.2H232.8V104.6H229.3zM235.1 102.2H238.6V104.6H235.1zM220.6 104.0H224.1V106.4H220.6zM229.3 104.0H232.8V106.4H229.3zM235.1 104.0H238.6V106.4H235.1zM229.3 105.8H232.8V108.3H229.3zM307.6 105.8H311.1V108.3H307.6zM209.0 107.7H212.5V110.1H209.0zM217.7 107.7H221.2V110.1H217.7zM220.6 109.5H224.1V112.0H220.6zM322.1 109.5H325.0V112.0H322.1zM304.7 111.4H308.2V113.8H304.7zM313.4 111.4H316.9V113.8H313.4zM209.0 113.2H212.5V115.7H209.0zM220.6 113.2H224.1V115.7H220.6zM211.9 118.8H215.4V121.2H211.9zM214.8 120.6H218.3V123.1H214.8zM307.6 122.5H311.1V124.9H307.6zM235.1 126.2H238.6V128.6H235.1zM232.2 131.7H238.6V134.2H232.2zM316.3 133.6H319.8V136.0H316.3zM209.0 137.3H212.5V139.7H209.0zM313.4 137.3H316.9V139.7H313.4zM322.1 137.3H325.0V139.7H322.1zM214.8 139.1H218.3V141.6H214.8zM238.0 139.1H241.5V141.6H238.0zM310.5 139.1H316.9V141.6H310.5zM238.0 141.0H241.5V143.4H238.0zM304.7 141.0H308.2V143.4H304.7zM217.7 142.8H221.2V145.3H217.7zM238.0 142.8H241.5V145.3H238.0zM220.6 144.7H224.1V147.1H220.6zM226.4 144.7H229.9V147.1H226.4zM313.4 144.7H316.9V147.1H313.4zM319.2 144.7H322.7V147.1H319.2zM226.4 146.5H229.9V149.0H226.4zM238.0 146.5H241.5V149.0H238.0zM235.1 148.4H238.6V150.8H235.1zM229.3 153.9H235.7V156.4H229.3zM319.2 153.9H322.7V156.4H319.2zM211.9 155.8H215.4V158.2H211.9zM220.6 155.8H224.1V158.2H220.6zM235.1 157.6H238.6V160.1H235.1zM313.4 157.6H316.9V160.1H313.4zM235.1 159.5H238.6V161.9H235.1zM322.1 159.5H325.0V161.9H322.1zM235.1 161.3H238.6V163.8H235.1zM209.0 163.2H212.5V165.0H209.0zM217.7 163.2H221.2V165.0H217.7z"/><path fill="#c8d2d7" d="M284.4 43.0H287.9V45.4H284.4zM264.1 46.7H267.6V49.1H264.1zM284.4 48.5H287.9V51.0H284.4zM261.2 54.1H264.7V56.5H261.2zM275.7 59.6H279.2V62.1H275.7zM284.4 61.5H287.9V63.9H284.4zM261.2 65.2H264.7V67.6H261.2zM267.0 68.9H270.5V71.3H267.0zM264.1 70.7H267.6V73.2H264.1zM243.8 74.4H247.3V76.9H243.8zM252.5 74.4H256.0V76.9H252.5zM290.2 74.4H296.6V76.9H290.2zM249.6 76.3H256.0V78.7H249.6zM272.8 76.3H276.3V78.7H272.8zM252.5 80.0H256.0V82.4H252.5zM264.1 80.0H267.6V82.4H264.1zM255.4 81.8H258.9V84.3H255.4zM272.8 81.8H276.3V84.3H272.8zM255.4 83.7H258.9V86.1H255.4zM269.9 89.2H273.4V91.7H269.9zM290.2 89.2H293.7V91.7H290.2zM255.4 92.9H258.9V95.4H255.4zM296.0 92.9H299.5V95.4H296.0zM255.4 94.8H258.9V97.2H255.4zM298.9 98.5H302.4V100.9H298.9zM209.0 100.3H212.5V102.8H209.0zM229.3 100.3H232.8V102.8H229.3zM209.0 104.0H212.5V106.4H209.0zM214.8 104.0H218.3V106.4H214.8zM223.5 104.0H227.0V106.4H223.5zM209.0 105.8H212.5V108.3H209.0zM226.4 105.8H229.9V108.3H226.4zM229.3 107.7H232.8V110.1H229.3zM220.6 120.6H224.1V123.1H220.6zM209.0 122.5H215.4V124.9H209.0zM223.5 124.3H227.0V126.8H223.5zM229.3 124.3H232.8V126.8H229.3zM223.5 129.9H227.0V132.3H223.5zM217.7 131.7H221.2V134.2H217.7zM214.8 133.6H218.3V136.0H214.8zM229.3 133.6H232.8V136.0H229.3zM209.0 135.4H212.5V137.9H209.0zM220.6 135.4H224.1V137.9H220.6zM223.5 139.1H227.0V141.6H223.5zM229.3 141.0H232.8V143.4H229.3zM214.8 142.8H218.3V145.3H214.8zM220.6 142.8H224.1V145.3H220.6zM235.1 142.8H238.6V145.3H235.1zM238.0 150.2H241.5V152.7H238.0zM217.7 152.1H221.2V154.5H217.7zM223.5 152.1H227.0V154.5H223.5zM229.3 155.8H232.8V158.2H229.3zM217.7 157.6H221.2V160.1H217.7zM223.5 159.5H227.0V161.9H223.5zM235.1 163.2H238.6V165.0H235.1z"/><path fill="#f0e1b9" d="M220.6 44.8H224.1V47.3H220.6zM223.5 46.7H227.0V49.1H223.5zM229.3 46.7H232.8V49.1H229.3zM240.9 46.7H244.4V49.1H240.9zM226.4 54.1H229.9V56.5H226.4zM235.1 54.1H238.6V56.5H235.1zM214.8 55.9H218.3V58.4H214.8zM229.3 55.9H232.8V58.4H229.3zM243.8 57.8H247.3V60.2H243.8zM211.9 61.5H215.4V63.9H211.9zM232.2 65.2H238.6V67.6H232.2zM211.9 68.9H215.4V71.3H211.9zM217.7 72.6H221.2V75.0H217.7zM229.3 78.1H232.8V80.6H229.3zM304.7 81.8H308.2V84.3H304.7zM217.7 83.7H221.2V86.1H217.7zM316.3 83.7H322.7V86.1H316.3zM319.2 87.4H322.7V89.8H319.2zM220.6 89.2H224.1V91.7H220.6zM214.8 92.9H218.3V95.4H214.8zM220.6 96.6H224.1V99.1H220.6zM235.1 98.5H238.6V100.9H235.1zM310.5 98.5H314.0V100.9H310.5zM322.1 98.5H325.0V100.9H322.1zM264.1 104.0H267.6V106.4H264.1zM272.8 104.0H276.3V106.4H272.8zM290.2 104.0H296.6V106.4H290.2zM296.0 105.8H299.5V108.3H296.0zM269.9 107.7H273.4V110.1H269.9zM298.9 109.5H302.4V112.0H298.9zM258.3 118.8H261.8V121.2H258.3zM249.6 124.3H253.1V126.8H249.6zM252.5 126.2H256.0V128.6H252.5zM269.9 135.4H273.4V137.9H269.9zM272.8 137.3H276.3V139.7H272.8zM275.7 139.1H279.2V141.6H275.7zM252.5 141.0H256.0V143.4H252.5zM269.9 142.8H273.4V145.3H269.9zM261.2 144.7H267.6V147.1H261.2zM275.7 146.5H279.2V149.0H275.7zM243.8 148.4H247.3V150.8H243.8zM252.5 148.4H258.9V150.8H252.5zM261.2 148.4H264.7V150.8H261.2zM301.8 148.4H305.3V150.8H301.8zM290.2 150.2H293.7V152.7H290.2zM281.5 153.9H285.0V156.4H281.5zM240.9 155.8H244.4V158.2H240.9zM301.8 155.8H305.3V158.2H301.8zM272.8 159.5H276.3V161.9H272.8zM264.1 161.3H267.6V163.8H264.1zM246.7 163.2H250.2V165.0H246.7z"/><path fill="#f0d7aa" d="M229.3 44.8H238.6V47.3H229.3zM217.7 50.4H221.2V52.8H217.7zM226.4 50.4H229.9V52.8H226.4zM209.0 52.2H212.5V54.7H209.0zM220.6 55.9H224.1V58.4H220.6zM232.2 55.9H235.7V58.4H232.2zM211.9 59.6H215.4V62.1H211.9zM211.9 70.7H215.4V73.2H211.9zM209.0 72.6H215.4V75.0H209.0zM211.9 78.1H215.4V80.6H211.9zM209.0 83.7H212.5V86.1H209.0zM214.8 83.7H218.3V86.1H214.8zM211.9 85.5H215.4V88.0H211.9zM217.7 85.5H224.1V88.0H217.7zM235.1 87.4H241.5V89.8H235.1zM238.0 98.5H241.5V100.9H238.0zM249.6 131.7H253.1V134.2H249.6zM264.1 135.4H267.6V137.9H264.1zM281.5 155.8H285.0V158.2H281.5zM290.2 159.5H293.7V161.9H290.2zM243.8 163.2H247.3V165.0H243.8z"/><path fill="#f0dcaa" d="M238.0 44.8H241.5V47.3H238.0z"/><path fill="#cddcd2" d="M255.4 44.8H258.9V47.3H255.4zM267.0 54.1H270.5V56.5H267.0zM307.6 54.1H311.1V56.5H307.6zM264.1 57.8H267.6V60.2H264.1zM287.3 65.2H290.8V67.6H287.3zM246.7 67.0H250.2V69.5H246.7zM267.0 70.7H270.5V73.2H267.0zM261.2 74.4H264.7V76.9H261.2zM243.8 78.1H247.3V80.6H243.8zM243.8 80.0H247.3V82.4H243.8zM278.6 80.0H285.0V82.4H278.6zM290.2 80.0H293.7V82.4H290.2zM243.8 81.8H247.3V84.3H243.8zM293.1 81.8H296.6V84.3H293.1zM298.9 83.7H302.4V86.1H298.9zM240.9 85.5H244.4V88.0H240.9zM267.0 91.1H270.5V93.5H267.0zM240.9 92.9H244.4V95.4H240.9zM284.4 92.9H287.9V95.4H284.4zM267.0 94.8H270.5V97.2H267.0zM284.4 98.5H287.9V100.9H284.4zM232.2 102.2H235.7V104.6H232.2zM313.4 102.2H316.9V104.6H313.4zM214.8 107.7H218.3V110.1H214.8zM316.3 109.5H319.8V112.0H316.3zM304.7 116.9H308.2V119.4H304.7zM209.0 124.3H215.4V126.8H209.0zM307.6 126.2H311.1V128.6H307.6zM319.2 135.4H322.7V137.9H319.2zM307.6 137.3H311.1V139.7H307.6zM209.0 146.5H212.5V149.0H209.0zM229.3 146.5H232.8V149.0H229.3zM322.1 150.2H325.0V152.7H322.1zM313.4 153.9H316.9V156.4H313.4zM319.2 155.8H322.7V158.2H319.2zM220.6 157.6H224.1V160.1H220.6zM238.0 159.5H241.5V161.9H238.0zM313.4 159.5H319.8V161.9H313.4z"/><path fill="#bed2d7" d="M261.2 44.8H264.7V47.3H261.2zM264.1 48.5H267.6V51.0H264.1zM264.1 54.1H267.6V56.5H264.1zM264.1 67.0H267.6V69.5H264.1zM240.9 74.4H244.4V76.9H240.9zM243.8 76.3H247.3V78.7H243.8zM255.4 76.3H258.9V78.7H255.4zM261.2 78.1H264.7V80.6H261.2zM261.2 80.0H264.7V82.4H261.2zM278.6 87.4H282.1V89.8H278.6zM298.9 87.4H302.4V89.8H298.9zM243.8 89.2H247.3V91.7H243.8zM275.7 89.2H279.2V91.7H275.7zM293.1 89.2H299.5V91.7H293.1zM223.5 102.2H227.0V104.6H223.5zM238.0 107.7H241.5V110.1H238.0zM226.4 111.4H229.9V113.8H226.4zM232.2 111.4H235.7V113.8H232.2zM211.9 115.1H215.4V117.5H211.9zM226.4 115.1H229.9V117.5H226.4zM232.2 115.1H235.7V117.5H232.2zM214.8 116.9H218.3V119.4H214.8zM229.3 116.9H232.8V119.4H229.3zM217.7 122.5H221.2V124.9H217.7zM223.5 122.5H227.0V124.9H223.5zM232.2 122.5H235.7V124.9H232.2zM217.7 126.2H221.2V128.6H217.7zM223.5 126.2H232.8V128.6H223.5zM238.0 126.2H241.5V128.6H238.0zM217.7 128.0H221.2V130.5H217.7zM214.8 135.4H218.3V137.9H214.8zM223.5 135.4H229.9V137.9H223.5zM211.9 141.0H215.4V143.4H211.9zM211.9 144.7H215.4V147.1H211.9zM232.2 144.7H235.7V147.1H232.2zM217.7 146.5H221.2V149.0H217.7zM211.9 150.2H215.4V152.7H211.9zM229.3 152.1H235.7V154.5H229.3zM209.0 157.6H212.5V160.1H209.0zM226.4 157.6H229.9V160.1H226.4z"/><path fill="#becdd7" d="M261.2 46.7H264.7V49.1H261.2zM275.7 48.5H279.2V51.0H275.7zM261.2 50.4H264.7V52.8H261.2zM264.1 55.9H270.5V58.4H264.1zM281.5 61.5H285.0V63.9H281.5zM258.3 78.1H261.8V80.6H258.3zM240.9 87.4H244.4V89.8H240.9zM261.2 87.4H264.7V89.8H261.2zM240.9 89.2H244.4V91.7H240.9zM246.7 89.2H250.2V91.7H246.7zM258.3 89.2H261.8V91.7H258.3zM226.4 100.3H229.9V102.8H226.4zM238.0 104.0H241.5V106.4H238.0zM209.0 111.4H212.5V113.8H209.0zM235.1 111.4H238.6V113.8H235.1zM235.1 115.1H238.6V117.5H235.1zM232.2 116.9H235.7V119.4H232.2zM223.5 118.8H227.0V121.2H223.5zM211.9 126.2H215.4V128.6H211.9zM220.6 128.0H224.1V130.5H220.6zM209.0 129.9H212.5V132.3H209.0zM214.8 131.7H218.3V134.2H214.8zM223.5 150.2H227.0V152.7H223.5zM214.8 157.6H218.3V160.1H214.8zM226.4 163.2H229.9V165.0H226.4zM232.2 163.2H235.7V165.0H232.2z"/><path fill="#cdd7d7" d="M275.7 46.7H279.2V49.1H275.7zM275.7 50.4H279.2V52.8H275.7zM264.1 52.2H270.5V54.7H264.1zM275.7 52.2H282.1V54.7H275.7zM284.4 54.1H287.9V56.5H284.4zM281.5 55.9H287.9V58.4H281.5zM264.1 61.5H267.6V63.9H264.1zM293.1 61.5H296.6V63.9H293.1zM278.6 65.2H282.1V67.6H278.6zM264.1 68.9H267.6V71.3H264.1zM278.6 68.9H282.1V71.3H278.6zM278.6 70.7H282.1V73.2H278.6zM261.2 72.6H264.7V75.0H261.2zM261.2 76.3H264.7V78.7H261.2zM284.4 76.3H287.9V78.7H284.4zM240.9 78.1H244.4V80.6H240.9zM284.4 78.1H290.8V80.6H284.4zM293.1 78.1H296.6V80.6H293.1zM246.7 80.0H253.1V82.4H246.7zM258.3 80.0H261.8V82.4H258.3zM287.3 80.0H290.8V82.4H287.3zM298.9 80.0H302.4V82.4H298.9zM272.8 83.7H276.3V86.1H272.8zM255.4 85.5H258.9V88.0H255.4zM284.4 85.5H287.9V88.0H284.4zM272.8 89.2H276.3V91.7H272.8zM240.9 91.1H244.4V93.5H240.9zM246.7 91.1H250.2V93.5H246.7zM258.3 91.1H261.8V93.5H258.3zM269.9 91.1H273.4V93.5H269.9zM281.5 91.1H285.0V93.5H281.5zM290.2 91.1H293.7V93.5H290.2zM249.6 92.9H253.1V95.4H249.6zM261.2 92.9H264.7V95.4H261.2zM243.8 94.8H247.3V97.2H243.8zM252.5 94.8H256.0V97.2H252.5zM261.2 94.8H264.7V97.2H261.2zM284.4 94.8H287.9V97.2H284.4zM240.9 96.6H244.4V99.1H240.9zM287.3 96.6H293.7V99.1H287.3zM226.4 102.2H229.9V104.6H226.4zM211.9 104.0H215.4V106.4H211.9zM220.6 105.8H224.1V108.3H220.6zM209.0 109.5H212.5V112.0H209.0zM217.7 109.5H221.2V112.0H217.7zM211.9 113.2H215.4V115.7H211.9zM209.0 115.1H212.5V117.5H209.0zM238.0 118.8H241.5V121.2H238.0zM322.1 118.8H325.0V121.2H322.1zM235.1 120.6H238.6V123.1H235.1zM322.1 122.5H325.0V124.9H322.1zM232.2 124.3H235.7V126.8H232.2zM209.0 128.0H212.5V130.5H209.0zM217.7 129.9H221.2V132.3H217.7zM229.3 131.7H232.8V134.2H229.3zM238.0 131.7H241.5V134.2H238.0zM223.5 133.6H229.9V136.0H223.5zM220.6 137.3H224.1V139.7H220.6zM235.1 137.3H238.6V139.7H235.1zM220.6 139.1H224.1V141.6H220.6zM235.1 139.1H238.6V141.6H235.1zM232.2 142.8H235.7V145.3H232.2zM217.7 144.7H221.2V147.1H217.7zM310.5 144.7H314.0V147.1H310.5zM316.3 144.7H319.8V147.1H316.3zM211.9 146.5H215.4V149.0H211.9zM235.1 146.5H238.6V149.0H235.1zM304.7 150.2H308.2V152.7H304.7zM220.6 153.9H224.1V156.4H220.6zM229.3 159.5H232.8V161.9H229.3zM211.9 161.3H215.4V163.8H211.9zM229.3 161.3H232.8V163.8H229.3z"/><path fill="#b9cdd7" d="M284.4 46.7H287.9V49.1H284.4zM281.5 48.5H285.0V51.0H281.5zM281.5 65.2H285.0V67.6H281.5zM298.9 78.1H302.4V80.6H298.9zM258.3 87.4H261.8V89.8H258.3zM281.5 87.4H290.8V89.8H281.5zM293.1 87.4H296.6V89.8H293.1zM252.5 89.2H256.0V91.7H252.5zM261.2 89.2H264.7V91.7H261.2zM223.5 100.3H227.0V102.8H223.5zM226.4 107.7H229.9V110.1H226.4zM211.9 111.4H215.4V113.8H211.9zM217.7 111.4H221.2V113.8H217.7zM223.5 111.4H227.0V113.8H223.5zM220.6 116.9H227.0V119.4H220.6zM235.1 116.9H238.6V119.4H235.1zM217.7 118.8H221.2V121.2H217.7zM226.4 118.8H229.9V121.2H226.4zM223.5 120.6H229.9V123.1H223.5zM214.8 124.3H218.3V126.8H214.8zM214.8 126.2H218.3V128.6H214.8zM226.4 128.0H229.9V130.5H226.4zM232.2 135.4H235.7V137.9H232.2zM214.8 141.0H218.3V143.4H214.8zM235.1 144.7H241.5V147.1H235.1zM214.8 146.5H218.3V149.0H214.8zM223.5 146.5H227.0V149.0H223.5zM214.8 148.4H218.3V150.8H214.8zM220.6 150.2H224.1V152.7H220.6z"/><path fill="#d7dcd2" d="M301.8 46.7H305.3V49.1H301.8zM310.5 54.1H314.0V56.5H310.5zM296.0 68.9H299.5V71.3H296.0zM316.3 111.4H319.8V113.8H316.3zM220.6 131.7H224.1V134.2H220.6zM310.5 131.7H314.0V134.2H310.5zM238.0 135.4H241.5V137.9H238.0zM293.1 144.7H296.6V147.1H293.1z"/><path fill="#ebe6b9" d="M211.9 48.5H215.4V51.0H211.9zM232.2 61.5H235.7V63.9H232.2zM214.8 70.7H218.3V73.2H214.8zM209.0 76.3H212.5V78.7H209.0zM220.6 76.3H224.1V78.7H220.6zM229.3 76.3H232.8V78.7H229.3zM304.7 80.0H308.2V82.4H304.7zM316.3 87.4H319.8V89.8H316.3zM229.3 98.5H232.8V100.9H229.3zM278.6 118.8H282.1V121.2H278.6zM267.0 120.6H273.4V123.1H267.0zM243.8 122.5H247.3V124.9H243.8zM249.6 122.5H253.1V124.9H249.6zM287.3 129.9H290.8V132.3H287.3zM287.3 131.7H290.8V134.2H287.3zM281.5 133.6H285.0V136.0H281.5zM290.2 135.4H293.7V137.9H290.2zM243.8 141.0H247.3V143.4H243.8zM261.2 141.0H264.7V143.4H261.2zM278.6 152.1H282.1V154.5H278.6z"/><path fill="#f0dcb4" d="M220.6 50.4H224.1V52.8H220.6zM220.6 70.7H224.1V73.2H220.6zM217.7 74.4H221.2V76.9H217.7zM310.5 85.5H314.0V88.0H310.5zM217.7 94.8H221.2V97.2H217.7zM284.4 105.8H287.9V108.3H284.4zM264.1 122.5H267.6V124.9H264.1zM269.9 122.5H273.4V124.9H269.9zM284.4 122.5H287.9V124.9H284.4zM243.8 131.7H247.3V134.2H243.8zM252.5 131.7H256.0V134.2H252.5zM249.6 148.4H253.1V150.8H249.6zM243.8 155.8H247.3V158.2H243.8zM267.0 155.8H270.5V158.2H267.0z"/><path fill="#f0d2a5" d="M211.9 52.2H215.4V54.7H211.9zM232.2 72.6H235.7V75.0H232.2zM238.0 72.6H241.5V75.0H238.0zM235.1 74.4H238.6V76.9H235.1zM235.1 76.3H238.6V78.7H235.1zM232.2 80.0H235.7V82.4H232.2zM211.9 98.5H215.4V100.9H211.9z"/><path fill="#f0d2a0" d="M235.1 72.6H238.6V75.0H235.1zM238.0 74.4H241.5V76.9H238.0zM238.0 76.3H241.5V78.7H238.0zM211.9 83.7H215.4V86.1H211.9zM232.2 89.2H235.7V91.7H232.2zM232.2 91.1H235.7V93.5H232.2zM238.0 91.1H241.5V93.5H238.0z"/><path fill="#f0d7a5" d="M232.2 74.4H235.7V76.9H232.2zM238.0 78.1H241.5V80.6H238.0zM223.5 85.5H227.0V88.0H223.5zM232.2 87.4H235.7V89.8H232.2zM211.9 92.9H215.4V95.4H211.9zM211.9 94.8H215.4V97.2H211.9zM261.2 135.4H264.7V137.9H261.2z"/><path fill="#f0cda0" d="M232.2 76.3H235.7V78.7H232.2zM238.0 81.8H241.5V84.3H238.0zM238.0 85.5H241.5V88.0H238.0zM238.0 89.2H241.5V91.7H238.0z"/><path fill="#f0c89b" d="M232.2 78.1H238.6V80.6H232.2zM232.2 85.5H238.6V88.0H232.2zM235.1 89.2H238.6V91.7H235.1z"/><path fill="#f0cd9b" d="M235.1 80.0H238.6V82.4H235.1zM232.2 81.8H238.6V84.3H232.2zM232.2 83.7H235.7V86.1H232.2zM238.0 83.7H241.5V86.1H238.0z"/><path fill="#f0be8c" d="M238.0 80.0H241.5V82.4H238.0z"/><path fill="#f0be91" d="M235.1 83.7H238.6V86.1H235.1zM232.2 92.9H241.5V95.4H232.2zM235.1 94.8H238.6V97.2H235.1z"/><path fill="#b4c8d7" d="M255.4 87.4H258.9V89.8H255.4zM217.7 116.9H221.2V119.4H217.7zM226.4 116.9H229.9V119.4H226.4zM223.5 128.0H227.0V130.5H223.5zM209.0 150.2H212.5V152.7H209.0zM214.8 150.2H221.2V152.7H214.8zM226.4 150.2H229.9V152.7H226.4z"/><path fill="#aac3dc" d="M255.4 89.2H258.9V91.7H255.4z"/><path fill="#f0b487" d="M235.1 91.1H238.6V93.5H235.1z"/><path fill="#f0c396" d="M232.2 94.8H235.7V97.2H232.2z"/><path fill="#f0b98c" d="M238.0 94.8H241.5V97.2H238.0z"/><path fill="#b4cdd7" d="M214.8 111.4H218.3V113.8H214.8zM238.0 116.9H241.5V119.4H238.0zM214.8 118.8H218.3V121.2H214.8z"/></g><rect x="209" y="43" width="1.3" height="122" fill="#b4b8b4" opacity="0.8"/><rect x="209.2" y="165.6" width="32.10" height="10.7" fill="#0b8a3a"/><rect x="241" y="165.6" width="8.90" height="10.7" fill="#e31a1c"/><rect x="249.6" y="165.6" width="8.00" height="10.7" fill="#2b3390"/><rect x="257.3" y="165.6" width="4.10" height="10.7" fill="#e31a1c"/><rect x="261.1" y="165.6" width="4.30" height="10.7" fill="#2b3390"/><rect x="265.1" y="165.6" width="4.50" height="10.7" fill="#e31a1c"/><rect x="269.3" y="165.6" width="8.00" height="10.7" fill="#2b3390"/><rect x="277" y="165.6" width="4.30" height="10.7" fill="#e31a1c"/><rect x="281" y="165.6" width="4.50" height="10.7" fill="#2b3390"/><rect x="285.2" y="165.6" width="24.10" height="10.7" fill="#e31a1c"/><rect x="309" y="165.6" width="8.90" height="10.7" fill="#2b3390"/><rect x="317.6" y="165.6" width="7.70" height="10.7" fill="#e31a1c"/><rect x="223" y="180.2" width="7.2" height="7.8" fill="#e31a1c"/><text x="234.3" y="187.6" font-size="9.9" fill="#333" textLength="10.5" lengthAdjust="spacingAndGlyphs">CR</text><rect x="258.7" y="180.2" width="6.2" height="7.8" fill="#2b3390"/><text x="269.3" y="187.6" font-size="9.9" fill="#333" textLength="10.5" lengthAdjust="spacingAndGlyphs">AD</text><rect x="292.5" y="180.2" width="6.6" height="7.8" fill="#0b8a3a"/><text x="303" y="187.6" font-size="9.9" fill="#333" textLength="11" lengthAdjust="spacingAndGlyphs">HC</text><text transform="translate(204.6,102) rotate(-90)" font-size="9" text-anchor="middle" fill="#333" textLength="23.8" lengthAdjust="spacingAndGlyphs">Genes</text><defs><linearGradient id="cb" x1="0" y1="0" x2="0" y2="1"><stop offset="0" stop-color="#d7553f"/><stop offset="0.15" stop-color="#ef7a5a"/><stop offset="0.35" stop-color="#f5a88c"/><stop offset="0.55" stop-color="#f0e2b0"/><stop offset="0.68" stop-color="#cadcd4"/><stop offset="0.8" stop-color="#98c4e6"/><stop offset="1" stop-color="#4ea4ea"/></linearGradient><filter id="bl" x="0" y="0" width="1" height="1"><feGaussianBlur stdDeviation="0.75"/></filter></defs><rect x="326.5" y="86.9" width="7.4" height="41.7" fill="url(#cb)"/><rect x="335.2" y="86.9" width="3.6" height="2" fill="#6a6a6a" opacity="0.75"/><rect x="335.2" y="100.1" width="3.6" height="2" fill="#6a6a6a" opacity="0.75"/><rect x="335.2" y="112.8" width="3.6" height="2" fill="#6a6a6a" opacity="0.75"/><rect x="335.2" y="125.4" width="3.6" height="2" fill="#6a6a6a" opacity="0.75"/><text x="353.5" y="20.6" font-size="15" font-weight="bold" fill="#231f20" textLength="10.8" lengthAdjust="spacingAndGlyphs">C</text><text x="373" y="23.9" font-size="10.8" fill="#231f20" textLength="84" lengthAdjust="spacingAndGlyphs">T cell-Signature 1</text><text x="373" y="36.9" font-size="10.8" font-style="italic" fill="#231f20" textLength="122" lengthAdjust="spacingAndGlyphs">Mitochondrial respiration</text><text x="13.4" y="213.6" font-size="15" font-weight="bold" fill="#231f20" textLength="10.8" lengthAdjust="spacingAndGlyphs">D</text><text x="86.5" y="217.5" font-size="10.8" text-anchor="middle" fill="#231f20" textLength="101" lengthAdjust="spacingAndGlyphs">MDSC-Unsupervised</text><text x="86.5" y="227.8" font-size="10.8" text-anchor="middle" fill="#231f20" textLength="77.5" lengthAdjust="spacingAndGlyphs">Patient samples</text><text x="192.1" y="213.6" font-size="15" font-weight="bold" fill="#231f20" textLength="9.2" lengthAdjust="spacingAndGlyphs">E</text><text x="269.8" y="216.8" font-size="10.8" text-anchor="middle" fill="#231f20" textLength="101" lengthAdjust="spacingAndGlyphs">MDSC-Unsupervised</text><text x="270" y="229" font-size="10.8" text-anchor="middle" fill="#231f20" textLength="76" lengthAdjust="spacingAndGlyphs">Patient samples</text><text x="358.3" y="213.6" font-size="15" font-weight="bold" fill="#231f20" textLength="8.8" lengthAdjust="spacingAndGlyphs">F</text><text x="379.5" y="222.5" font-size="10.8" fill="#231f20" textLength="89" lengthAdjust="spacingAndGlyphs">MDSC-Signature 1</text><text x="379.5" y="234.5" font-size="10.8" font-style="italic" fill="#231f20" textLength="79.5" lengthAdjust="spacingAndGlyphs">IFNa/b signaling</text><text x="13" y="426.4" font-size="15" font-weight="bold" fill="#231f20" textLength="11.6" lengthAdjust="spacingAndGlyphs">G</text><text x="67.5" y="428" font-size="10.8" fill="#231f20" textLength="129.5" lengthAdjust="spacingAndGlyphs">Annotated in PCA (fig. 3H)</text><text x="262.5" y="426.5" font-size="15" font-weight="bold" fill="#231f20" textLength="11.0" lengthAdjust="spacingAndGlyphs">H</text><text x="303.8" y="427.7" font-size="10.8" fill="#231f20" textLength="189.7" lengthAdjust="spacingAndGlyphs">Serum cytokine profile in CR by OLINK</text><rect x="100.3" y="642.1" width="2.8" height="10.6" fill="#231f20"/><text x="194.4" y="660.1" font-size="10.8" fill="#231f20" textLength="177.2" lengthAdjust="spacingAndGlyphs">Differential Serum Cytokines from H</text><defs><pattern id="hg" patternUnits="userSpaceOnUse" width="4.9" height="4.9" patternTransform="rotate(45)"><rect width="4.9" height="4.9" fill="#c4343a"/><rect width="2.3" height="4.9" fill="#2a984a"/></pattern><pattern id="hp" patternUnits="userSpaceOnUse" width="4.9" height="4.9" patternTransform="rotate(45)"><rect width="4.9" height="4.9" fill="#c42a5a"/><rect width="2.3" height="4.9" fill="#2c2c8a"/></pattern><pattern id="hg2" patternUnits="userSpaceOnUse" width="4.2" height="4.2" patternTransform="rotate(45)"><rect width="4.2" height="4.2" fill="#4cae48"/><rect width="1.5" height="4.2" fill="#a8442a"/></pattern><pattern id="hp2" patternUnits="userSpaceOnUse" width="4.2" height="4.2" patternTransform="rotate(45)"><rect width="4.2" height="4.2" fill="#1f4a88"/><rect width="1.6" height="4.2" fill="#92205e"/></pattern><pattern id="hg3" patternUnits="userSpaceOnUse" width="4" height="4" patternTransform="rotate(45)"><rect width="4" height="4" fill="#58ae48"/><rect width="1.4" height="4" fill="#5a3a1a"/></pattern></defs><line x1="372.2" y1="44.5" x2="372.2" y2="163" stroke="#151515" stroke-width="1.5"/><line x1="371.5" y1="162.3" x2="473" y2="162.3" stroke="#151515" stroke-width="1.5"/><line x1="389.6" y1="162.3" x2="389.6" y2="166.2" stroke="#151515" stroke-width="1.1"/><line x1="422.5" y1="162.3" x2="422.5" y2="166.2" stroke="#151515" stroke-width="1.1"/><line x1="455.5" y1="162.3" x2="455.5" y2="166.2" stroke="#151515" stroke-width="1.1"/><line x1="389.5" y1="49.5" x2="389.5" y2="84" stroke="#333" stroke-width="1"/><rect x="378" y="65" width="23.3" height="13.8" fill="#3cae3a"/><line x1="378" y1="74.3" x2="401.3" y2="74.3" stroke="#1a3a1a" stroke-width="1.2"/><line x1="422.5" y1="140" x2="422.5" y2="157" stroke="#333" stroke-width="1"/><rect x="411.2" y="140" width="23.3" height="9.3" fill="#d0142c"/><line x1="411.2" y1="146.8" x2="434.5" y2="146.8" stroke="#3a0a0a" stroke-width="1"/><line x1="453.5" y1="115" x2="453.5" y2="147" stroke="#333" stroke-width="1"/><rect x="442" y="117.5" width="23" height="12" fill="#1b4f8c"/><line x1="442" y1="119.2" x2="465" y2="119.2" stroke="#0a1a3a" stroke-width="1"/><circle cx="388" cy="49.5" r="0.9" fill="#111"/><circle cx="393" cy="54.5" r="0.9" fill="#111"/><circle cx="384.5" cy="68" r="0.9" fill="#111"/><circle cx="387" cy="73" r="0.9" fill="#111"/><circle cx="392" cy="73" r="0.9" fill="#111"/><circle cx="384.5" cy="78" r="0.9" fill="#111"/><circle cx="387" cy="83" r="0.9" fill="#111"/><circle cx="395" cy="84" r="0.9" fill="#111"/><circle cx="391" cy="71" r="0.9" fill="#111"/><circle cx="422.5" cy="115.8" r="0.9" fill="#111"/><circle cx="424.3" cy="115.8" r="0.9" fill="#111"/><circle cx="428" cy="115.3" r="0.9" fill="#111"/><circle cx="416" cy="146" r="0.9" fill="#111"/><circle cx="420" cy="142" r="0.9" fill="#111"/><circle cx="424" cy="141" r="0.9" fill="#111"/><circle cx="427" cy="141" r="0.9" fill="#111"/><circle cx="422" cy="150" r="0.9" fill="#111"/><circle cx="421" cy="152" r="0.9" fill="#111"/><circle cx="423" cy="155" r="0.9" fill="#111"/><circle cx="425" cy="156" r="0.9" fill="#111"/><circle cx="450.5" cy="116.5" r="0.9" fill="#111"/><circle cx="456" cy="117" r="0.9" fill="#111"/><circle cx="447" cy="139" r="0.9" fill="#111"/><circle cx="453" cy="145.5" r="0.9" fill="#111"/><circle cx="452" cy="122" r="0.9" fill="#111"/><text transform="translate(363.5,107.6) rotate(-90)" font-size="11.5" text-anchor="middle" fill="#3a3a3a" textLength="74" lengthAdjust="spacingAndGlyphs">Expression (Z-score)</text><text transform="translate(393.8,173.2) rotate(-45)" font-size="8.8" text-anchor="end" fill="#333" textLength="13" lengthAdjust="spacingAndGlyphs">HC</text><text transform="translate(426.3,173.2) rotate(-45)" font-size="8.8" text-anchor="end" fill="#333" textLength="13" lengthAdjust="spacingAndGlyphs">CR</text><text transform="translate(459.3,173.2) rotate(-45)" font-size="8.8" text-anchor="end" fill="#333" textLength="13" lengthAdjust="spacingAndGlyphs">AD</text><g filter="url(#bl)"><path fill="#bed2d7" d="M29.5 234.5H33.7V237.1H29.5zM43.7 238.5H47.9V241.2H43.7zM118.4 238.5H122.6V241.2H118.4zM129.1 238.5H136.8V241.2H129.1zM50.8 240.6H55.0V243.2H50.8zM136.2 246.6H140.3V249.3H136.2zM54.4 250.7H58.6V253.3H54.4zM118.4 250.7H122.6V253.3H118.4zM29.5 256.8H33.7V259.4H29.5zM139.7 258.8H143.3V261.4H139.7zM79.3 260.8H83.4V263.4H79.3zM82.8 262.8H87.0V265.5H82.8zM139.7 264.9H143.3V267.5H139.7zM68.6 268.9H72.8V271.5H68.6zM75.7 268.9H79.9V271.5H75.7zM58.0 270.9H62.1V273.6H58.0zM132.6 270.9H136.8V273.6H132.6zM65.1 273.0H69.2V275.6H65.1zM125.5 273.0H129.7V275.6H125.5zM58.0 275.0H62.1V277.6H58.0zM118.4 279.0H122.6V281.7H118.4zM125.5 279.0H129.7V281.7H125.5zM139.7 281.1H143.3V283.7H139.7zM118.4 283.1H122.6V285.7H118.4zM132.6 283.1H136.8V285.7H132.6zM65.1 285.1H69.2V287.7H65.1zM125.5 285.1H129.7V287.7H125.5zM50.8 291.2H55.0V293.8H50.8zM61.5 291.2H65.7V293.8H61.5zM97.1 301.3H101.2V303.9H97.1zM97.1 305.3H101.2V308.0H97.1zM86.4 309.4H90.6V312.0H86.4zM93.5 317.5H101.2V320.1H93.5zM93.5 319.5H97.7V322.1H93.5zM93.5 323.6H97.7V326.2H93.5zM104.2 323.6H108.3V326.2H104.2zM97.1 327.6H101.2V330.2H97.1zM86.4 339.8H90.6V342.4H86.4zM100.6 347.9H104.8V350.5H100.6zM93.5 349.9H97.7V352.5H93.5zM93.5 351.9H97.7V354.5H93.5zM114.9 353.9H119.0V356.6H114.9z"/><path fill="#becdd7" d="M33.1 234.5H37.2V237.1H33.1zM79.3 234.5H83.4V237.1H79.3zM50.8 236.5H55.0V239.1H50.8zM61.5 236.5H65.7V239.1H61.5zM47.3 238.5H51.4V241.2H47.3zM65.1 238.5H69.2V241.2H65.1zM47.3 240.6H51.4V243.2H47.3zM65.1 242.6H69.2V245.2H65.1zM118.4 246.6H122.6V249.3H118.4zM132.6 246.6H136.8V249.3H132.6zM43.7 250.7H47.9V253.3H43.7zM129.1 250.7H133.2V253.3H129.1zM72.2 252.7H76.3V255.3H72.2zM82.8 252.7H87.0V255.3H82.8zM65.1 254.7H69.2V257.4H65.1zM122.0 256.8H126.1V259.4H122.0zM47.3 258.8H51.4V261.4H47.3zM122.0 258.8H126.1V261.4H122.0zM125.5 260.8H129.7V263.4H125.5zM139.7 260.8H143.3V263.4H139.7zM40.2 262.8H44.3V265.5H40.2zM68.6 262.8H72.8V265.5H68.6zM36.6 264.9H40.8V267.5H36.6zM54.4 264.9H58.6V267.5H54.4zM79.3 264.9H83.4V267.5H79.3zM65.1 266.9H69.2V269.5H65.1zM125.5 268.9H129.7V271.5H125.5zM50.8 275.0H55.0V277.6H50.8zM61.5 275.0H65.7V277.6H61.5zM139.7 275.0H143.3V277.6H139.7zM54.4 279.0H58.6V281.7H54.4zM61.5 285.1H65.7V287.7H61.5zM82.8 287.1H87.0V289.8H82.8zM36.6 289.2H40.8V291.8H36.6zM58.0 289.2H62.1V291.8H58.0zM29.5 291.2H33.7V293.8H29.5zM58.0 291.2H62.1V293.8H58.0zM72.2 291.2H76.3V293.8H72.2zM100.6 295.2H104.8V297.9H100.6zM86.4 301.3H90.6V303.9H86.4zM114.9 303.3H119.0V305.9H114.9zM100.6 315.5H104.8V318.1H100.6zM97.1 319.5H101.2V322.1H97.1zM97.1 321.5H101.2V324.2H97.1zM97.1 325.6H101.2V328.2H97.1zM114.9 325.6H119.0V328.2H114.9zM111.3 327.6H115.5V330.2H111.3zM86.4 329.6H90.6V332.3H86.4zM86.4 331.7H90.6V334.3H86.4zM104.2 335.7H108.3V338.3H104.2zM97.1 337.7H101.2V340.4H97.1zM107.7 341.8H111.9V344.4H107.7zM97.1 345.8H101.2V348.5H97.1zM97.1 351.9H101.2V354.5H97.1zM93.5 353.9H97.7V356.6H93.5z"/><path fill="#b4c8d7" d="M36.6 234.5H40.8V237.1H36.6zM33.1 236.5H37.2V239.1H33.1zM132.6 236.5H136.8V239.1H132.6zM33.1 238.5H37.2V241.2H33.1zM72.2 238.5H76.3V241.2H72.2zM40.2 242.6H44.3V245.2H40.2zM68.6 242.6H72.8V245.2H68.6zM50.8 246.6H55.0V249.3H50.8zM129.1 246.6H133.2V249.3H129.1zM136.2 248.7H140.3V251.3H136.2zM58.0 250.7H62.1V253.3H58.0zM82.8 250.7H87.0V253.3H82.8zM65.1 252.7H69.2V255.3H65.1zM58.0 254.7H62.1V257.4H58.0zM75.7 254.7H79.9V257.4H75.7zM82.8 256.8H87.0V259.4H82.8zM82.8 258.8H87.0V261.4H82.8zM118.4 258.8H122.6V261.4H118.4zM75.7 260.8H79.9V263.4H75.7zM129.1 260.8H133.2V263.4H129.1zM61.5 262.8H69.2V265.5H61.5zM139.7 262.8H143.3V265.5H139.7zM72.2 266.9H76.3V269.5H72.2zM82.8 266.9H87.0V269.5H82.8zM125.5 266.9H129.7V269.5H125.5zM72.2 268.9H76.3V271.5H72.2zM79.3 268.9H83.4V271.5H79.3zM136.2 268.9H140.3V271.5H136.2zM75.7 270.9H79.9V273.6H75.7zM82.8 270.9H87.0V273.6H82.8zM72.2 275.0H76.3V277.6H72.2zM132.6 275.0H136.8V277.6H132.6zM61.5 277.0H65.7V279.6H61.5zM79.3 279.0H83.4V281.7H79.3zM125.5 281.1H129.7V283.7H125.5zM136.2 281.1H140.3V283.7H136.2zM82.8 285.1H87.0V287.7H82.8zM29.5 287.1H33.7V289.8H29.5zM29.5 289.2H37.2V291.8H29.5zM136.2 289.2H140.3V291.8H136.2zM100.6 293.2H104.8V295.8H100.6zM111.3 293.2H115.5V295.8H111.3zM93.5 295.2H97.7V297.9H93.5zM97.1 297.2H101.2V299.9H97.1zM114.9 305.3H119.0V308.0H114.9zM93.5 309.4H97.7V312.0H93.5zM90.0 311.4H94.1V314.0H90.0zM104.2 311.4H111.9V314.0H104.2zM104.2 313.4H108.3V316.1H104.2zM107.7 315.5H111.9V318.1H107.7zM100.6 321.5H104.8V324.2H100.6zM100.6 323.6H104.8V326.2H100.6zM90.0 325.6H94.1V328.2H90.0zM100.6 325.6H104.8V328.2H100.6zM93.5 327.6H97.7V330.2H93.5zM100.6 329.6H104.8V332.3H100.6zM114.9 329.6H119.0V332.3H114.9zM100.6 331.7H104.8V334.3H100.6zM100.6 335.7H104.8V338.3H100.6zM107.7 337.7H111.9V340.4H107.7zM111.3 341.8H119.0V344.4H111.3zM100.6 343.8H104.8V346.4H100.6zM90.0 351.9H94.1V354.5H90.0zM104.2 351.9H108.3V354.5H104.2zM93.5 356.0H97.7V358.6H93.5z"/><path fill="#afc8d7" d="M40.2 234.5H44.3V237.1H40.2zM79.3 240.6H83.4V243.2H79.3zM50.8 244.6H55.0V247.2H50.8zM79.3 248.7H83.4V251.3H79.3zM75.7 262.8H79.9V265.5H75.7zM33.1 264.9H37.2V267.5H33.1zM114.9 323.6H119.0V326.2H114.9z"/><path fill="#cdd7d2" d="M43.7 234.5H47.9V237.1H43.7zM61.5 234.5H65.7V237.1H61.5zM122.0 234.5H126.1V237.1H122.0zM47.3 236.5H51.4V239.1H47.3zM90.0 236.5H94.1V239.1H90.0zM50.8 238.5H55.0V241.2H50.8zM58.0 238.5H62.1V241.2H58.0zM61.5 242.6H65.7V245.2H61.5zM136.2 244.6H140.3V247.2H136.2zM122.0 248.7H126.1V251.3H122.0zM50.8 252.7H55.0V255.3H50.8zM33.1 256.8H37.2V259.4H33.1zM36.6 258.8H40.8V261.4H36.6zM29.5 260.8H33.7V263.4H29.5zM47.3 260.8H51.4V263.4H47.3zM132.6 260.8H136.8V263.4H132.6zM40.2 264.9H44.3V267.5H40.2zM58.0 266.9H62.1V269.5H58.0zM29.5 268.9H33.7V271.5H29.5zM58.0 268.9H62.1V271.5H58.0zM118.4 268.9H122.6V271.5H118.4zM132.6 268.9H136.8V271.5H132.6zM29.5 270.9H33.7V273.6H29.5zM118.4 270.9H122.6V273.6H118.4zM50.8 273.0H55.0V275.6H50.8zM136.2 273.0H140.3V275.6H136.2zM33.1 275.0H37.2V277.6H33.1zM118.4 275.0H122.6V277.6H118.4zM33.1 277.0H37.2V279.6H33.1zM40.2 277.0H44.3V279.6H40.2zM50.8 277.0H55.0V279.6H50.8zM118.4 277.0H122.6V279.6H118.4zM139.7 279.0H143.3V281.7H139.7zM47.3 281.1H51.4V283.7H47.3zM136.2 283.1H140.3V285.7H136.2zM61.5 287.1H65.7V289.8H61.5zM47.3 289.2H51.4V291.8H47.3zM129.1 289.2H136.8V291.8H129.1zM125.5 295.2H129.7V297.9H125.5zM97.1 309.4H101.2V312.0H97.1zM111.3 309.4H115.5V312.0H111.3zM61.5 311.4H65.7V314.0H61.5zM93.5 315.5H97.7V318.1H93.5zM125.5 321.5H129.7V324.2H125.5zM86.4 323.6H90.6V326.2H86.4zM97.1 333.7H101.2V336.3H97.1zM139.7 333.7H143.3V336.3H139.7zM58.0 335.7H65.7V338.3H58.0zM136.2 335.7H140.3V338.3H136.2zM86.4 337.7H90.6V340.4H86.4zM93.5 337.7H97.7V340.4H93.5zM93.5 339.8H97.7V342.4H93.5zM90.0 341.8H94.1V344.4H90.0zM82.8 343.8H87.0V346.4H82.8zM139.7 345.8H143.3V348.5H139.7z"/><path fill="#c3d2d7" d="M47.3 234.5H51.4V237.1H47.3zM65.1 234.5H69.2V237.1H65.1zM82.8 234.5H87.0V237.1H82.8zM122.0 238.5H126.1V241.2H122.0zM136.2 238.5H140.3V241.2H136.2zM54.4 240.6H58.6V243.2H54.4zM118.4 240.6H122.6V243.2H118.4zM82.8 242.6H87.0V245.2H82.8zM125.5 242.6H129.7V245.2H125.5zM29.5 244.6H33.7V247.2H29.5zM132.6 244.6H136.8V247.2H132.6zM54.4 246.6H58.6V249.3H54.4zM79.3 246.6H83.4V249.3H79.3zM33.1 248.7H40.8V251.3H33.1zM118.4 248.7H122.6V251.3H118.4zM139.7 248.7H143.3V251.3H139.7zM29.5 250.7H33.7V253.3H29.5zM136.2 256.8H140.3V259.4H136.2zM43.7 258.8H47.9V261.4H43.7zM129.1 258.8H136.8V261.4H129.1zM50.8 260.8H55.0V263.4H50.8zM65.1 260.8H69.2V263.4H65.1zM122.0 260.8H126.1V263.4H122.0zM136.2 260.8H140.3V263.4H136.2zM79.3 262.8H83.4V265.5H79.3zM122.0 262.8H126.1V265.5H122.0zM58.0 264.9H62.1V267.5H58.0zM125.5 264.9H129.7V267.5H125.5zM36.6 266.9H40.8V269.5H36.6zM129.1 266.9H133.2V269.5H129.1zM50.8 268.9H55.0V271.5H50.8zM65.1 268.9H69.2V271.5H65.1zM82.8 268.9H87.0V271.5H82.8zM72.2 270.9H76.3V273.6H72.2zM122.0 270.9H126.1V273.6H122.0zM82.8 275.0H87.0V277.6H82.8zM47.3 277.0H51.4V279.6H47.3zM125.5 277.0H133.2V279.6H125.5zM139.7 277.0H143.3V279.6H139.7zM65.1 279.0H76.3V281.7H65.1zM29.5 281.1H33.7V283.7H29.5zM129.1 281.1H133.2V283.7H129.1zM40.2 283.1H44.3V285.7H40.2zM122.0 283.1H126.1V285.7H122.0zM54.4 285.1H58.6V287.7H54.4zM68.6 287.1H72.8V289.8H68.6zM125.5 287.1H129.7V289.8H125.5zM40.2 289.2H44.3V291.8H40.2zM79.3 289.2H87.0V291.8H79.3zM125.5 289.2H129.7V291.8H125.5zM82.8 291.2H87.0V293.8H82.8zM86.4 293.2H90.6V295.8H86.4zM97.1 293.2H101.2V295.8H97.1zM107.7 293.2H111.9V295.8H107.7zM90.0 297.2H97.7V299.9H90.0zM86.4 299.3H90.6V301.9H86.4zM104.2 299.3H108.3V301.9H104.2zM90.0 301.3H97.7V303.9H90.0zM104.2 301.3H108.3V303.9H104.2zM86.4 317.5H90.6V320.1H86.4zM86.4 321.5H90.6V324.2H86.4zM93.5 325.6H97.7V328.2H93.5zM86.4 327.6H90.6V330.2H86.4zM114.9 331.7H119.0V334.3H114.9zM93.5 333.7H97.7V336.3H93.5zM86.4 335.7H90.6V338.3H86.4zM93.5 343.8H97.7V346.4H93.5zM86.4 349.9H90.6V352.5H86.4zM97.1 349.9H101.2V352.5H97.1zM125.5 349.9H129.7V352.5H125.5zM86.4 351.9H90.6V354.5H86.4zM97.1 353.9H101.2V356.6H97.1zM100.6 358.0H104.8V360.0H100.6z"/><path fill="#d2dcd2" d="M50.8 234.5H55.0V237.1H50.8zM58.0 234.5H62.1V237.1H58.0zM139.7 236.5H143.3V239.1H139.7zM54.4 238.5H58.6V241.2H54.4zM61.5 238.5H65.7V241.2H61.5zM129.1 242.6H140.3V245.2H129.1zM58.0 244.6H65.7V247.2H58.0zM129.1 244.6H133.2V247.2H129.1zM47.3 248.7H51.4V251.3H47.3zM50.8 250.7H55.0V253.3H50.8zM125.5 250.7H129.7V253.3H125.5zM54.4 252.7H62.1V255.3H54.4zM79.3 252.7H83.4V255.3H79.3zM129.1 252.7H143.3V255.3H129.1zM43.7 254.7H47.9V257.4H43.7zM86.4 254.7H90.6V257.4H86.4zM122.0 254.7H126.1V257.4H122.0zM43.7 256.8H47.9V259.4H43.7zM54.4 256.8H58.6V259.4H54.4zM54.4 260.8H62.1V263.4H54.4zM93.5 260.8H97.7V263.4H93.5zM129.1 262.8H133.2V265.5H129.1zM122.0 264.9H126.1V267.5H122.0zM29.5 266.9H33.7V269.5H29.5zM40.2 266.9H44.3V269.5H40.2zM47.3 266.9H58.6V269.5H47.3zM61.5 266.9H65.7V269.5H61.5zM36.6 268.9H44.3V271.5H36.6zM47.3 268.9H51.4V271.5H47.3zM61.5 268.9H65.7V271.5H61.5zM122.0 268.9H126.1V271.5H122.0zM36.6 270.9H44.3V273.6H36.6zM139.7 270.9H143.3V273.6H139.7zM29.5 273.0H37.2V275.6H29.5zM40.2 275.0H44.3V277.6H40.2zM125.5 275.0H129.7V277.6H125.5zM36.6 277.0H40.8V279.6H36.6zM54.4 277.0H58.6V279.6H54.4zM122.0 277.0H126.1V279.6H122.0zM33.1 279.0H37.2V281.7H33.1zM40.2 279.0H44.3V281.7H40.2zM58.0 279.0H62.1V281.7H58.0zM122.0 279.0H126.1V281.7H122.0zM132.6 279.0H136.8V281.7H132.6zM40.2 281.1H47.9V283.7H40.2zM61.5 281.1H65.7V283.7H61.5zM118.4 281.1H122.6V283.7H118.4zM47.3 283.1H55.0V285.7H47.3zM29.5 285.1H37.2V287.7H29.5zM43.7 285.1H47.9V287.7H43.7zM118.4 285.1H126.1V287.7H118.4zM132.6 285.1H136.8V287.7H132.6zM118.4 287.1H122.6V289.8H118.4zM43.7 289.2H47.9V291.8H43.7zM36.6 291.2H40.8V293.8H36.6zM122.0 291.2H126.1V293.8H122.0zM136.2 291.2H143.3V293.8H136.2zM72.2 293.2H76.3V295.8H72.2zM136.2 295.2H143.3V297.9H136.2zM118.4 297.2H122.6V299.9H118.4zM93.5 299.3H101.2V301.9H93.5zM125.5 299.3H133.2V301.9H125.5zM93.5 303.3H97.7V305.9H93.5zM132.6 303.3H140.3V305.9H132.6zM82.8 307.4H87.0V310.0H82.8zM129.1 307.4H136.8V310.0H129.1zM36.6 309.4H40.8V312.0H36.6zM125.5 309.4H129.7V312.0H125.5zM58.0 311.4H62.1V314.0H58.0zM132.6 311.4H136.8V314.0H132.6zM118.4 313.4H122.6V316.1H118.4zM132.6 313.4H136.8V316.1H132.6zM86.4 315.5H90.6V318.1H86.4zM97.1 315.5H101.2V318.1H97.1zM139.7 315.5H143.3V318.1H139.7zM125.5 319.5H129.7V322.1H125.5zM136.2 321.5H140.3V324.2H136.2zM136.2 323.6H143.3V326.2H136.2zM33.1 327.6H37.2V330.2H33.1zM86.4 333.7H90.6V336.3H86.4zM139.7 335.7H143.3V338.3H139.7zM129.1 343.8H133.2V346.4H129.1zM86.4 345.8H90.6V348.5H86.4zM58.0 347.9H62.1V350.5H58.0zM118.4 349.9H122.6V352.5H118.4zM132.6 349.9H136.8V352.5H132.6zM139.7 349.9H143.3V352.5H139.7zM50.8 351.9H55.0V354.5H50.8zM132.6 351.9H140.3V354.5H132.6zM29.5 356.0H33.7V358.6H29.5zM118.4 356.0H122.6V358.6H118.4zM132.6 356.0H136.8V358.6H132.6zM86.4 358.0H90.6V360.0H86.4z"/><path fill="#d7e1cd" d="M54.4 234.5H58.6V237.1H54.4zM93.5 236.5H97.7V239.1H93.5zM104.2 248.7H108.3V251.3H104.2zM118.4 252.7H122.6V255.3H118.4zM40.2 254.7H44.3V257.4H40.2zM90.0 256.8H94.1V259.4H90.0zM97.1 256.8H101.2V259.4H97.1zM40.2 260.8H44.3V263.4H40.2zM132.6 266.9H136.8V269.5H132.6zM90.0 273.0H94.1V275.6H90.0zM122.0 275.0H126.1V277.6H122.0zM43.7 277.0H47.9V279.6H43.7zM43.7 279.0H47.9V281.7H43.7zM50.8 279.0H55.0V281.7H50.8zM29.5 283.1H33.7V285.7H29.5zM36.6 285.1H40.8V287.7H36.6zM33.1 291.2H37.2V293.8H33.1zM125.5 293.2H129.7V295.8H125.5zM61.5 295.2H65.7V297.9H61.5zM125.5 297.2H129.7V299.9H125.5zM122.0 299.3H126.1V301.9H122.0zM132.6 299.3H136.8V301.9H132.6zM125.5 301.3H129.7V303.9H125.5zM129.1 303.3H133.2V305.9H129.1zM132.6 305.3H136.8V308.0H132.6zM65.1 307.4H72.8V310.0H65.1zM125.5 307.4H129.7V310.0H125.5zM54.4 311.4H58.6V314.0H54.4zM36.6 313.4H44.3V316.1H36.6zM132.6 315.5H140.3V318.1H132.6zM29.5 317.5H33.7V320.1H29.5zM79.3 319.5H83.4V322.1H79.3zM129.1 321.5H136.8V324.2H129.1zM132.6 329.6H140.3V332.3H132.6zM97.1 331.7H101.2V334.3H97.1zM125.5 335.7H129.7V338.3H125.5zM129.1 337.7H133.2V340.4H129.1zM29.5 339.8H33.7V342.4H29.5zM139.7 339.8H143.3V342.4H139.7zM43.7 343.8H47.9V346.4H43.7zM132.6 343.8H136.8V346.4H132.6zM36.6 347.9H44.3V350.5H36.6zM125.5 347.9H129.7V350.5H125.5zM129.1 349.9H133.2V352.5H129.1zM36.6 353.9H40.8V356.6H36.6z"/><path fill="#afc8dc" d="M68.6 234.5H79.9V237.1H68.6zM40.2 236.5H47.9V239.1H40.2zM65.1 236.5H72.8V239.1H65.1zM29.5 238.5H33.7V241.2H29.5zM79.3 238.5H83.4V241.2H79.3zM36.6 240.6H40.8V243.2H36.6zM50.8 242.6H55.0V245.2H50.8zM79.3 242.6H83.4V245.2H79.3zM36.6 244.6H40.8V247.2H36.6zM79.3 244.6H83.4V247.2H79.3zM125.5 244.6H129.7V247.2H125.5zM33.1 246.6H40.8V249.3H33.1zM82.8 246.6H87.0V249.3H82.8zM139.7 246.6H143.3V249.3H139.7zM132.6 248.7H136.8V251.3H132.6zM75.7 252.7H79.9V255.3H75.7zM72.2 254.7H76.3V257.4H72.2zM139.7 254.7H143.3V257.4H139.7zM125.5 256.8H129.7V259.4H125.5zM54.4 258.8H58.6V261.4H54.4zM72.2 258.8H76.3V261.4H72.2zM72.2 262.8H76.3V265.5H72.2zM29.5 264.9H33.7V267.5H29.5zM75.7 264.9H79.9V267.5H75.7zM82.8 273.0H87.0V275.6H82.8zM68.6 275.0H72.8V277.6H68.6zM61.5 283.1H65.7V285.7H61.5zM82.8 283.1H87.0V285.7H82.8zM75.7 285.1H83.4V287.7H75.7zM65.1 291.2H69.2V293.8H65.1zM114.9 293.2H119.0V295.8H114.9zM97.1 295.2H101.2V297.9H97.1zM107.7 295.2H111.9V297.9H107.7zM114.9 309.4H119.0V312.0H114.9zM107.7 313.4H111.9V316.1H107.7zM100.6 317.5H108.3V320.1H100.6zM111.3 317.5H115.5V320.1H111.3zM90.0 319.5H94.1V322.1H90.0zM100.6 327.6H104.8V330.2H100.6zM97.1 335.7H101.2V338.3H97.1zM111.3 335.7H115.5V338.3H111.3zM104.2 337.7H108.3V340.4H104.2zM86.4 343.8H90.6V346.4H86.4zM104.2 343.8H108.3V346.4H104.2zM86.4 347.9H94.1V350.5H86.4zM114.9 347.9H119.0V350.5H114.9zM90.0 349.9H94.1V352.5H90.0zM107.7 351.9H111.9V354.5H107.7zM90.0 356.0H94.1V358.6H90.0z"/><path fill="#ebe6be" d="M86.4 234.5H90.6V237.1H86.4zM97.1 236.5H101.2V239.1H97.1zM104.2 236.5H111.9V239.1H104.2zM93.5 242.6H97.7V245.2H93.5zM100.6 246.6H108.3V249.3H100.6zM86.4 248.7H90.6V251.3H86.4zM100.6 248.7H104.8V251.3H100.6zM104.2 250.7H108.3V253.3H104.2zM86.4 256.8H90.6V259.4H86.4zM104.2 256.8H108.3V259.4H104.2zM97.1 258.8H101.2V261.4H97.1zM104.2 260.8H108.3V263.4H104.2zM97.1 262.8H101.2V265.5H97.1zM107.7 262.8H111.9V265.5H107.7zM93.5 264.9H97.7V267.5H93.5zM104.2 264.9H111.9V267.5H104.2zM107.7 270.9H111.9V273.6H107.7zM93.5 273.0H97.7V275.6H93.5zM107.7 275.0H111.9V277.6H107.7zM107.7 277.0H111.9V279.6H107.7zM104.2 281.1H111.9V283.7H104.2zM86.4 285.1H90.6V287.7H86.4zM139.7 287.1H143.3V289.8H139.7zM104.2 289.2H111.9V291.8H104.2zM90.0 291.2H94.1V293.8H90.0zM97.1 291.2H101.2V293.8H97.1zM61.5 293.2H65.7V295.8H61.5zM79.3 293.2H83.4V295.8H79.3zM36.6 295.2H40.8V297.9H36.6zM58.0 295.2H62.1V297.9H58.0zM68.6 295.2H72.8V297.9H68.6zM79.3 295.2H83.4V297.9H79.3zM40.2 297.2H44.3V299.9H40.2zM50.8 297.2H55.0V299.9H50.8zM136.2 297.2H143.3V299.9H136.2zM33.1 299.3H37.2V301.9H33.1zM139.7 299.3H143.3V301.9H139.7zM75.7 301.3H79.9V303.9H75.7zM122.0 301.3H126.1V303.9H122.0zM40.2 303.3H44.3V305.9H40.2zM139.7 303.3H143.3V305.9H139.7zM29.5 305.3H33.7V308.0H29.5zM122.0 305.3H129.7V308.0H122.0zM40.2 307.4H47.9V310.0H40.2zM61.5 307.4H65.7V310.0H61.5zM72.2 307.4H79.9V310.0H72.2zM29.5 311.4H33.7V314.0H29.5zM43.7 313.4H51.4V316.1H43.7zM54.4 313.4H58.6V316.1H54.4zM61.5 313.4H65.7V316.1H61.5zM72.2 313.4H76.3V316.1H72.2zM29.5 315.5H33.7V318.1H29.5zM43.7 315.5H47.9V318.1H43.7zM54.4 315.5H58.6V318.1H54.4zM79.3 315.5H83.4V318.1H79.3zM118.4 315.5H126.1V318.1H118.4zM33.1 317.5H37.2V320.1H33.1zM50.8 317.5H55.0V320.1H50.8zM65.1 319.5H69.2V322.1H65.1zM132.6 319.5H136.8V322.1H132.6zM33.1 321.5H44.3V324.2H33.1zM50.8 321.5H55.0V324.2H50.8zM40.2 323.6H44.3V326.2H40.2zM50.8 323.6H55.0V326.2H50.8zM82.8 323.6H87.0V326.2H82.8zM122.0 323.6H126.1V326.2H122.0zM129.1 323.6H133.2V326.2H129.1zM65.1 325.6H69.2V328.2H65.1zM82.8 325.6H87.0V328.2H82.8zM132.6 325.6H136.8V328.2H132.6zM75.7 327.6H79.9V330.2H75.7zM122.0 327.6H126.1V330.2H122.0zM136.2 327.6H140.3V330.2H136.2zM29.5 329.6H33.7V332.3H29.5zM122.0 331.7H126.1V334.3H122.0zM36.6 333.7H40.8V336.3H36.6zM61.5 333.7H65.7V336.3H61.5zM54.4 335.7H58.6V338.3H54.4zM79.3 335.7H83.4V338.3H79.3zM50.8 337.7H55.0V340.4H50.8zM58.0 337.7H62.1V340.4H58.0zM79.3 337.7H83.4V340.4H79.3zM122.0 337.7H126.1V340.4H122.0zM118.4 339.8H122.6V342.4H118.4zM79.3 341.8H87.0V344.4H79.3zM122.0 341.8H126.1V344.4H122.0zM43.7 345.8H47.9V348.5H43.7zM68.6 345.8H79.9V348.5H68.6zM68.6 347.9H72.8V350.5H68.6zM118.4 347.9H122.6V350.5H118.4zM132.6 347.9H136.8V350.5H132.6zM40.2 349.9H47.9V352.5H40.2zM58.0 349.9H65.7V352.5H58.0zM75.7 351.9H79.9V354.5H75.7zM139.7 351.9H143.3V354.5H139.7zM47.3 353.9H51.4V356.6H47.3zM122.0 353.9H126.1V356.6H122.0zM132.6 353.9H136.8V356.6H132.6zM43.7 356.0H47.9V358.6H43.7zM50.8 356.0H55.0V358.6H50.8zM65.1 356.0H69.2V358.6H65.1zM75.7 356.0H79.9V358.6H75.7zM122.0 356.0H126.1V358.6H122.0zM118.4 358.0H126.1V360.0H118.4z"/><path fill="#f0dcaf" d="M90.0 234.5H97.7V237.1H90.0zM104.2 234.5H108.3V237.1H104.2zM104.2 238.5H108.3V241.2H104.2zM114.9 238.5H119.0V241.2H114.9zM114.9 248.7H119.0V251.3H114.9zM86.4 250.7H90.6V253.3H86.4zM114.9 258.8H119.0V261.4H114.9zM100.6 260.8H104.8V263.4H100.6zM114.9 264.9H119.0V267.5H114.9zM104.2 266.9H108.3V269.5H104.2zM111.3 266.9H115.5V269.5H111.3zM93.5 270.9H97.7V273.6H93.5zM86.4 277.0H94.1V279.6H86.4zM93.5 279.0H101.2V281.7H93.5zM107.7 279.0H111.9V281.7H107.7zM90.0 281.1H94.1V283.7H90.0zM100.6 283.1H104.8V285.7H100.6zM104.2 285.1H108.3V287.7H104.2zM36.6 293.2H40.8V295.8H36.6zM47.3 295.2H51.4V297.9H47.3zM47.3 297.2H51.4V299.9H47.3zM61.5 297.2H65.7V299.9H61.5zM82.8 299.3H87.0V301.9H82.8zM68.6 305.3H76.3V308.0H68.6zM82.8 305.3H87.0V308.0H82.8zM50.8 307.4H55.0V310.0H50.8zM58.0 307.4H62.1V310.0H58.0zM65.1 311.4H69.2V314.0H65.1zM72.2 311.4H79.9V314.0H72.2zM50.8 313.4H55.0V316.1H50.8zM65.1 317.5H69.2V320.1H65.1zM139.7 317.5H143.3V320.1H139.7zM72.2 319.5H79.9V322.1H72.2zM68.6 321.5H72.8V324.2H68.6zM68.6 323.6H72.8V326.2H68.6zM50.8 325.6H55.0V328.2H50.8zM40.2 327.6H44.3V330.2H40.2zM54.4 327.6H58.6V330.2H54.4zM61.5 327.6H65.7V330.2H61.5zM79.3 329.6H83.4V332.3H79.3zM79.3 331.7H83.4V334.3H79.3zM54.4 333.7H58.6V336.3H54.4zM72.2 333.7H76.3V336.3H72.2zM50.8 335.7H55.0V338.3H50.8zM47.3 339.8H51.4V342.4H47.3zM79.3 339.8H83.4V342.4H79.3zM33.1 341.8H51.4V344.4H33.1zM68.6 341.8H72.8V344.4H68.6zM29.5 345.8H33.7V348.5H29.5zM82.8 345.8H87.0V348.5H82.8zM33.1 347.9H37.2V350.5H33.1zM75.7 347.9H79.9V350.5H75.7zM79.3 351.9H83.4V354.5H79.3zM125.5 351.9H129.7V354.5H125.5zM54.4 353.9H58.6V356.6H54.4z"/><path fill="#f0d7aa" d="M97.1 234.5H101.2V237.1H97.1zM93.5 240.6H97.7V243.2H93.5zM86.4 242.6H90.6V245.2H86.4zM114.9 242.6H119.0V245.2H114.9zM114.9 246.6H119.0V249.3H114.9zM93.5 248.7H97.7V251.3H93.5zM97.1 254.7H101.2V257.4H97.1zM111.3 256.8H115.5V259.4H111.3zM111.3 258.8H115.5V261.4H111.3zM93.5 266.9H97.7V269.5H93.5zM100.6 266.9H104.8V269.5H100.6zM111.3 270.9H115.5V273.6H111.3zM111.3 277.0H115.5V279.6H111.3zM104.2 279.0H108.3V281.7H104.2zM100.6 285.1H104.8V287.7H100.6zM86.4 287.1H90.6V289.8H86.4zM97.1 287.1H101.2V289.8H97.1zM114.9 291.2H119.0V293.8H114.9zM82.8 293.2H87.0V295.8H82.8zM33.1 295.2H37.2V297.9H33.1zM43.7 295.2H47.9V297.9H43.7zM50.8 295.2H58.6V297.9H50.8zM43.7 297.2H47.9V299.9H43.7zM65.1 297.2H69.2V299.9H65.1zM43.7 303.3H47.9V305.9H43.7zM33.1 305.3H37.2V308.0H33.1zM47.3 305.3H51.4V308.0H47.3zM58.0 309.4H62.1V312.0H58.0zM43.7 311.4H51.4V314.0H43.7zM68.6 311.4H72.8V314.0H68.6zM40.2 317.5H44.3V320.1H40.2zM68.6 319.5H72.8V322.1H68.6zM72.2 321.5H76.3V324.2H72.2zM82.8 327.6H87.0V330.2H82.8zM40.2 329.6H44.3V332.3H40.2zM47.3 329.6H51.4V332.3H47.3zM68.6 329.6H72.8V332.3H68.6zM75.7 329.6H79.9V332.3H75.7zM72.2 331.7H76.3V334.3H72.2zM29.5 333.7H33.7V336.3H29.5zM75.7 333.7H79.9V336.3H75.7zM29.5 335.7H33.7V338.3H29.5zM54.4 339.8H58.6V342.4H54.4zM82.8 339.8H87.0V342.4H82.8zM33.1 343.8H37.2V346.4H33.1zM72.2 343.8H76.3V346.4H72.2zM65.1 345.8H69.2V348.5H65.1zM79.3 347.9H83.4V350.5H79.3zM36.6 351.9H40.8V354.5H36.6zM54.4 351.9H58.6V354.5H54.4zM65.1 358.0H69.2V360.0H65.1z"/><path fill="#f0e6b9" d="M100.6 234.5H104.8V237.1H100.6zM100.6 238.5H104.8V241.2H100.6zM100.6 242.6H104.8V245.2H100.6zM107.7 244.6H111.9V247.2H107.7zM111.3 246.6H115.5V249.3H111.3zM90.0 248.7H94.1V251.3H90.0zM93.5 250.7H97.7V253.3H93.5zM100.6 250.7H104.8V253.3H100.6zM43.7 252.7H47.9V255.3H43.7zM100.6 256.8H104.8V259.4H100.6zM104.2 258.8H108.3V261.4H104.2zM93.5 262.8H97.7V265.5H93.5zM100.6 262.8H104.8V265.5H100.6zM107.7 266.9H111.9V269.5H107.7zM90.0 268.9H101.2V271.5H90.0zM97.1 270.9H101.2V273.6H97.1zM86.4 273.0H90.6V275.6H86.4zM104.2 273.0H108.3V275.6H104.2zM100.6 279.0H104.8V281.7H100.6zM100.6 289.2H104.8V291.8H100.6zM68.6 293.2H72.8V295.8H68.6zM136.2 293.2H143.3V295.8H136.2zM65.1 295.2H69.2V297.9H65.1zM82.8 295.2H87.0V297.9H82.8zM58.0 297.2H62.1V299.9H58.0zM36.6 299.3H40.8V301.9H36.6zM33.1 301.3H37.2V303.9H33.1zM79.3 303.3H83.4V305.9H79.3zM136.2 305.3H140.3V308.0H136.2zM29.5 309.4H33.7V312.0H29.5zM40.2 311.4H44.3V314.0H40.2zM79.3 311.4H83.4V314.0H79.3zM122.0 313.4H126.1V316.1H122.0zM40.2 315.5H44.3V318.1H40.2zM36.6 317.5H40.8V320.1H36.6zM136.2 317.5H140.3V320.1H136.2zM139.7 319.5H143.3V322.1H139.7zM82.8 321.5H87.0V324.2H82.8zM79.3 323.6H83.4V326.2H79.3zM132.6 323.6H136.8V326.2H132.6zM79.3 325.6H83.4V328.2H79.3zM50.8 327.6H55.0V330.2H50.8zM68.6 327.6H72.8V330.2H68.6zM79.3 327.6H83.4V330.2H79.3zM43.7 329.6H47.9V332.3H43.7zM50.8 331.7H55.0V334.3H50.8zM58.0 331.7H62.1V334.3H58.0zM132.6 331.7H136.8V334.3H132.6zM33.1 333.7H37.2V336.3H33.1zM58.0 333.7H62.1V336.3H58.0zM65.1 333.7H69.2V336.3H65.1zM82.8 333.7H87.0V336.3H82.8zM125.5 333.7H129.7V336.3H125.5zM40.2 335.7H44.3V338.3H40.2zM33.1 337.7H40.8V340.4H33.1zM75.7 337.7H79.9V340.4H75.7zM33.1 339.8H37.2V342.4H33.1zM43.7 339.8H47.9V342.4H43.7zM68.6 339.8H76.3V342.4H68.6zM75.7 341.8H79.9V344.4H75.7zM47.3 345.8H51.4V348.5H47.3zM129.1 347.9H133.2V350.5H129.1zM82.8 351.9H87.0V354.5H82.8zM72.2 353.9H76.3V356.6H72.2zM79.3 353.9H83.4V356.6H79.3zM58.0 356.0H62.1V358.6H58.0zM47.3 358.0H51.4V360.0H47.3zM58.0 358.0H62.1V360.0H58.0z"/><path fill="#f0e1b4" d="M107.7 234.5H111.9V237.1H107.7zM104.2 242.6H115.5V245.2H104.2zM100.6 244.6H104.8V247.2H100.6zM97.1 250.7H101.2V253.3H97.1zM107.7 250.7H111.9V253.3H107.7zM90.0 254.7H94.1V257.4H90.0zM104.2 254.7H108.3V257.4H104.2zM104.2 262.8H108.3V265.5H104.2zM111.3 262.8H115.5V265.5H111.3zM97.1 264.9H101.2V267.5H97.1zM90.0 266.9H94.1V269.5H90.0zM86.4 268.9H90.6V271.5H86.4zM100.6 268.9H104.8V271.5H100.6zM100.6 270.9H104.8V273.6H100.6zM100.6 273.0H104.8V275.6H100.6zM114.9 281.1H119.0V283.7H114.9zM90.0 283.1H94.1V285.7H90.0zM104.2 283.1H108.3V285.7H104.2zM90.0 287.1H94.1V289.8H90.0zM100.6 287.1H104.8V289.8H100.6zM86.4 291.2H90.6V293.8H86.4zM40.2 293.2H44.3V295.8H40.2zM58.0 293.2H62.1V295.8H58.0zM29.5 295.2H33.7V297.9H29.5zM40.2 295.2H44.3V297.9H40.2zM54.4 297.2H58.6V299.9H54.4zM75.7 297.2H79.9V299.9H75.7zM40.2 299.3H44.3V301.9H40.2zM61.5 301.3H65.7V303.9H61.5zM72.2 301.3H76.3V303.9H72.2zM82.8 301.3H87.0V303.9H82.8zM139.7 301.3H143.3V303.9H139.7zM33.1 303.3H37.2V305.9H33.1zM68.6 303.3H76.3V305.9H68.6zM75.7 305.3H83.4V308.0H75.7zM40.2 309.4H44.3V312.0H40.2zM75.7 309.4H79.9V312.0H75.7zM33.1 315.5H37.2V318.1H33.1zM68.6 317.5H76.3V320.1H68.6zM79.3 317.5H83.4V320.1H79.3zM122.0 317.5H126.1V320.1H122.0zM29.5 319.5H33.7V322.1H29.5zM50.8 319.5H55.0V322.1H50.8zM75.7 321.5H79.9V324.2H75.7zM118.4 323.6H122.6V326.2H118.4zM58.0 325.6H62.1V328.2H58.0zM122.0 325.6H126.1V328.2H122.0zM43.7 327.6H47.9V330.2H43.7zM132.6 327.6H136.8V330.2H132.6zM36.6 329.6H40.8V332.3H36.6zM54.4 329.6H58.6V332.3H54.4zM61.5 329.6H65.7V332.3H61.5zM82.8 329.6H87.0V332.3H82.8zM82.8 331.7H87.0V334.3H82.8zM68.6 333.7H72.8V336.3H68.6zM36.6 335.7H40.8V338.3H36.6zM50.8 339.8H55.0V342.4H50.8zM122.0 339.8H126.1V342.4H122.0zM72.2 341.8H76.3V344.4H72.2zM50.8 343.8H58.6V346.4H50.8zM75.7 343.8H79.9V346.4H75.7zM36.6 345.8H44.3V348.5H36.6zM129.1 345.8H133.2V348.5H129.1zM29.5 347.9H33.7V350.5H29.5zM65.1 349.9H69.2V352.5H65.1zM50.8 353.9H55.0V356.6H50.8zM61.5 353.9H65.7V356.6H61.5zM68.6 353.9H72.8V356.6H68.6zM139.7 353.9H143.3V356.6H139.7zM54.4 358.0H58.6V360.0H54.4zM68.6 358.0H72.8V360.0H68.6zM136.2 358.0H140.3V360.0H136.2z"/><path fill="#f0d2a5" d="M111.3 234.5H115.5V237.1H111.3zM111.3 248.7H115.5V251.3H111.3zM90.0 250.7H94.1V253.3H90.0zM90.0 252.7H94.1V255.3H90.0zM86.4 266.9H90.6V269.5H86.4zM86.4 270.9H90.6V273.6H86.4zM93.5 277.0H97.7V279.6H93.5zM100.6 281.1H104.8V283.7H100.6zM111.3 285.1H115.5V287.7H111.3zM97.1 289.2H101.2V291.8H97.1zM111.3 289.2H115.5V291.8H111.3zM65.1 293.2H69.2V295.8H65.1zM132.6 297.2H136.8V299.9H132.6zM79.3 299.3H83.4V301.9H79.3zM47.3 315.5H51.4V318.1H47.3zM82.8 315.5H87.0V318.1H82.8zM43.7 321.5H47.9V324.2H43.7zM65.1 323.6H69.2V326.2H65.1zM75.7 325.6H79.9V328.2H75.7zM139.7 327.6H143.3V330.2H139.7zM50.8 329.6H55.0V332.3H50.8zM72.2 335.7H76.3V338.3H72.2zM47.3 337.7H51.4V340.4H47.3zM58.0 339.8H62.1V342.4H58.0zM61.5 345.8H65.7V348.5H61.5zM82.8 353.9H87.0V356.6H82.8zM61.5 358.0H65.7V360.0H61.5zM75.7 358.0H79.9V360.0H75.7zM82.8 358.0H87.0V360.0H82.8z"/><path fill="#f0be8c" d="M114.9 234.5H119.0V237.1H114.9zM47.3 301.3H51.4V303.9H47.3z"/><path fill="#cdd7d7" d="M118.4 234.5H122.6V237.1H118.4zM125.5 238.5H129.7V241.2H125.5zM33.1 240.6H37.2V243.2H33.1zM33.1 242.6H37.2V245.2H33.1zM58.0 242.6H62.1V245.2H58.0zM118.4 244.6H126.1V247.2H118.4zM33.1 250.7H37.2V253.3H33.1zM29.5 254.7H37.2V257.4H29.5zM132.6 254.7H136.8V257.4H132.6zM58.0 256.8H62.1V259.4H58.0zM132.6 262.8H136.8V265.5H132.6zM136.2 266.9H140.3V269.5H136.2zM43.7 270.9H47.9V273.6H43.7zM54.4 270.9H58.6V273.6H54.4zM36.6 273.0H40.8V275.6H36.6zM118.4 273.0H122.6V275.6H118.4zM132.6 273.0H136.8V275.6H132.6zM29.5 277.0H33.7V279.6H29.5zM132.6 277.0H140.3V279.6H132.6zM29.5 279.0H33.7V281.7H29.5zM125.5 283.1H129.7V285.7H125.5zM40.2 285.1H44.3V287.7H40.2zM47.3 285.1H51.4V287.7H47.3zM36.6 287.1H44.3V289.8H36.6zM58.0 287.1H62.1V289.8H58.0zM118.4 291.2H122.6V293.8H118.4zM118.4 311.4H122.6V314.0H118.4zM90.0 323.6H94.1V326.2H90.0zM93.5 329.6H97.7V332.3H93.5zM90.0 337.7H94.1V340.4H90.0zM118.4 337.7H122.6V340.4H118.4zM97.1 339.8H101.2V342.4H97.1zM136.2 349.9H140.3V352.5H136.2z"/><path fill="#c8d7d7" d="M125.5 234.5H133.2V237.1H125.5zM125.5 236.5H129.7V239.1H125.5zM29.5 240.6H33.7V243.2H29.5zM43.7 240.6H47.9V243.2H43.7zM58.0 240.6H62.1V243.2H58.0zM139.7 240.6H143.3V243.2H139.7zM36.6 242.6H40.8V245.2H36.6zM54.4 242.6H58.6V245.2H54.4zM139.7 242.6H143.3V245.2H139.7zM33.1 244.6H37.2V247.2H33.1zM122.0 246.6H126.1V249.3H122.0zM129.1 248.7H133.2V251.3H129.1zM47.3 250.7H51.4V253.3H47.3zM136.2 250.7H143.3V253.3H136.2zM36.6 252.7H44.3V255.3H36.6zM36.6 254.7H40.8V257.4H36.6zM61.5 254.7H65.7V257.4H61.5zM125.5 254.7H129.7V257.4H125.5zM136.2 254.7H140.3V257.4H136.2zM47.3 256.8H51.4V259.4H47.3zM61.5 256.8H65.7V259.4H61.5zM129.1 256.8H136.8V259.4H129.1zM58.0 258.8H65.7V261.4H58.0zM136.2 258.8H140.3V261.4H136.2zM90.0 260.8H94.1V263.4H90.0zM29.5 262.8H33.7V265.5H29.5zM43.7 262.8H47.9V265.5H43.7zM54.4 262.8H58.6V265.5H54.4zM33.1 266.9H37.2V269.5H33.1zM118.4 266.9H122.6V269.5H118.4zM139.7 266.9H143.3V269.5H139.7zM33.1 268.9H37.2V271.5H33.1zM43.7 268.9H47.9V271.5H43.7zM61.5 270.9H65.7V273.6H61.5zM40.2 273.0H47.9V275.6H40.2zM61.5 273.0H65.7V275.6H61.5zM122.0 273.0H126.1V275.6H122.0zM129.1 275.0H133.2V277.6H129.1zM136.2 275.0H140.3V277.6H136.2zM61.5 279.0H65.7V281.7H61.5zM129.1 279.0H133.2V281.7H129.1zM33.1 281.1H40.8V283.7H33.1zM50.8 281.1H62.1V283.7H50.8zM122.0 281.1H126.1V283.7H122.0zM36.6 283.1H40.8V285.7H36.6zM129.1 283.1H133.2V285.7H129.1zM129.1 285.1H133.2V287.7H129.1zM136.2 285.1H140.3V287.7H136.2zM50.8 287.1H55.0V289.8H50.8zM61.5 289.2H65.7V291.8H61.5zM47.3 291.2H51.4V293.8H47.3zM132.6 291.2H136.8V293.8H132.6zM90.0 293.2H94.1V295.8H90.0zM100.6 299.3H104.8V301.9H100.6zM86.4 305.3H90.6V308.0H86.4zM93.5 305.3H97.7V308.0H93.5zM93.5 311.4H97.7V314.0H93.5zM29.5 313.4H37.2V316.1H29.5zM86.4 313.4H90.6V316.1H86.4zM129.1 313.4H133.2V316.1H129.1zM97.1 329.6H101.2V332.3H97.1zM100.6 333.7H104.8V336.3H100.6zM86.4 341.8H90.6V344.4H86.4zM93.5 341.8H97.7V344.4H93.5zM93.5 347.9H101.2V350.5H93.5zM104.2 347.9H108.3V350.5H104.2zM86.4 356.0H90.6V358.6H86.4zM93.5 358.0H97.7V360.0H93.5z"/><path fill="#cddcd2" d="M132.6 234.5H136.8V237.1H132.6zM136.2 240.6H140.3V243.2H136.2zM40.2 258.8H44.3V261.4H40.2zM50.8 262.8H55.0V265.5H50.8zM129.1 264.9H133.2V267.5H129.1zM129.1 268.9H133.2V271.5H129.1zM36.6 275.0H40.8V277.6H36.6zM139.7 283.1H143.3V285.7H139.7zM122.0 287.1H126.1V289.8H122.0zM122.0 289.2H126.1V291.8H122.0zM43.7 291.2H47.9V293.8H43.7zM90.0 303.3H94.1V305.9H90.0zM129.1 341.8H133.2V344.4H129.1zM86.4 353.9H90.6V356.6H86.4z"/><path fill="#e6e1be" d="M136.2 234.5H140.3V237.1H136.2zM97.1 240.6H101.2V243.2H97.1zM47.3 252.7H51.4V255.3H47.3zM93.5 256.8H97.7V259.4H93.5zM100.6 275.0H108.3V277.6H100.6zM90.0 279.0H94.1V281.7H90.0zM93.5 285.1H97.7V287.7H93.5zM107.7 287.1H111.9V289.8H107.7zM122.0 293.2H126.1V295.8H122.0zM33.1 297.2H37.2V299.9H33.1zM118.4 299.3H122.6V301.9H118.4zM129.1 305.3H133.2V308.0H129.1zM122.0 309.4H126.1V312.0H122.0zM75.7 317.5H79.9V320.1H75.7zM118.4 317.5H122.6V320.1H118.4zM139.7 321.5H143.3V324.2H139.7zM33.1 325.6H37.2V328.2H33.1zM129.1 325.6H133.2V328.2H129.1zM125.5 327.6H129.7V330.2H125.5zM33.1 335.7H37.2V338.3H33.1zM65.1 335.7H69.2V338.3H65.1zM40.2 337.7H44.3V340.4H40.2zM139.7 343.8H143.3V346.4H139.7zM50.8 345.8H55.0V348.5H50.8zM72.2 347.9H76.3V350.5H72.2zM72.2 349.9H76.3V352.5H72.2zM43.7 351.9H47.9V354.5H43.7zM54.4 356.0H58.6V358.6H54.4zM79.3 356.0H83.4V358.6H79.3z"/><path fill="#dce1cd" d="M139.7 234.5H143.3V237.1H139.7zM107.7 246.6H111.9V249.3H107.7zM29.5 252.7H33.7V255.3H29.5zM122.0 252.7H129.7V255.3H122.0zM40.2 256.8H44.3V259.4H40.2zM33.1 258.8H37.2V261.4H33.1zM43.7 266.9H47.9V269.5H43.7zM43.7 275.0H47.9V277.6H43.7zM136.2 279.0H140.3V281.7H136.2zM93.5 281.1H97.7V283.7H93.5zM122.0 295.2H126.1V297.9H122.0zM36.6 297.2H40.8V299.9H36.6zM58.0 303.3H62.1V305.9H58.0zM118.4 303.3H122.6V305.9H118.4zM36.6 305.3H40.8V308.0H36.6zM129.1 309.4H133.2V312.0H129.1zM61.5 317.5H65.7V320.1H61.5zM58.0 319.5H62.1V322.1H58.0zM82.8 319.5H87.0V322.1H82.8zM118.4 319.5H126.1V322.1H118.4zM136.2 319.5H140.3V322.1H136.2zM54.4 321.5H58.6V324.2H54.4zM122.0 321.5H126.1V324.2H122.0zM36.6 323.6H40.8V326.2H36.6zM58.0 323.6H62.1V326.2H58.0zM29.5 325.6H33.7V328.2H29.5zM36.6 325.6H40.8V328.2H36.6zM118.4 325.6H122.6V328.2H118.4zM139.7 325.6H143.3V328.2H139.7zM129.1 327.6H133.2V330.2H129.1zM118.4 329.6H122.6V332.3H118.4zM132.6 333.7H136.8V336.3H132.6zM118.4 335.7H122.6V338.3H118.4zM132.6 335.7H136.8V338.3H132.6zM72.2 337.7H76.3V340.4H72.2zM132.6 337.7H136.8V340.4H132.6zM136.2 341.8H140.3V344.4H136.2zM47.3 343.8H51.4V346.4H47.3zM136.2 345.8H140.3V348.5H136.2zM29.5 349.9H33.7V352.5H29.5zM47.3 351.9H51.4V354.5H47.3zM118.4 351.9H122.6V354.5H118.4zM33.1 356.0H37.2V358.6H33.1zM139.7 356.0H143.3V358.6H139.7zM97.1 358.0H101.2V360.0H97.1zM132.6 358.0H136.8V360.0H132.6z"/><path fill="#aac3dc" d="M29.5 236.5H33.7V239.1H29.5zM72.2 236.5H76.3V239.1H72.2zM118.4 236.5H126.1V239.1H118.4zM72.2 240.6H76.3V243.2H72.2zM68.6 244.6H72.8V247.2H68.6zM75.7 244.6H79.9V247.2H75.7zM29.5 248.7H33.7V251.3H29.5zM43.7 248.7H47.9V251.3H43.7zM75.7 248.7H79.9V251.3H75.7zM68.6 254.7H72.8V257.4H68.6zM79.3 256.8H83.4V259.4H79.3zM118.4 256.8H122.6V259.4H118.4zM50.8 258.8H55.0V261.4H50.8zM125.5 258.8H129.7V261.4H125.5zM125.5 262.8H129.7V265.5H125.5zM72.2 264.9H76.3V267.5H72.2zM54.4 268.9H58.6V271.5H54.4zM82.8 277.0H87.0V279.6H82.8zM68.6 281.1H72.8V283.7H68.6zM65.1 283.1H69.2V285.7H65.1zM54.4 291.2H58.6V293.8H54.4zM68.6 291.2H72.8V293.8H68.6zM75.7 291.2H83.4V293.8H75.7zM125.5 291.2H133.2V293.8H125.5zM114.9 295.2H119.0V297.9H114.9zM111.3 299.3H115.5V301.9H111.3zM100.6 301.3H104.8V303.9H100.6zM114.9 301.3H119.0V303.9H114.9zM97.1 303.3H101.2V305.9H97.1zM104.2 305.3H108.3V308.0H104.2zM86.4 307.4H90.6V310.0H86.4zM90.0 309.4H94.1V312.0H90.0zM104.2 309.4H108.3V312.0H104.2zM107.7 321.5H111.9V324.2H107.7zM86.4 325.6H90.6V328.2H86.4zM90.0 327.6H94.1V330.2H90.0zM107.7 327.6H111.9V330.2H107.7zM104.2 331.7H108.3V334.3H104.2zM90.0 335.7H94.1V338.3H90.0zM111.3 337.7H115.5V340.4H111.3zM104.2 339.8H108.3V342.4H104.2zM97.1 343.8H101.2V346.4H97.1zM114.9 351.9H119.0V354.5H114.9zM100.6 353.9H104.8V356.6H100.6zM111.3 353.9H115.5V356.6H111.3z"/><path fill="#a5c3dc" d="M36.6 236.5H40.8V239.1H36.6zM65.1 244.6H69.2V247.2H65.1zM40.2 246.6H44.3V249.3H40.2zM68.6 246.6H72.8V249.3H68.6zM68.6 248.7H72.8V251.3H68.6zM79.3 250.7H83.4V253.3H79.3zM65.1 258.8H69.2V261.4H65.1zM72.2 260.8H76.3V263.4H72.2zM65.1 277.0H69.2V279.6H65.1zM72.2 281.1H79.9V283.7H72.2zM82.8 281.1H87.0V283.7H82.8zM72.2 285.1H76.3V287.7H72.2zM90.0 295.2H94.1V297.9H90.0zM104.2 297.2H108.3V299.9H104.2zM107.7 299.3H111.9V301.9H107.7zM86.4 303.3H90.6V305.9H86.4zM107.7 303.3H111.9V305.9H107.7zM100.6 305.3H104.8V308.0H100.6zM100.6 309.4H104.8V312.0H100.6zM104.2 319.5H108.3V322.1H104.2zM111.3 325.6H115.5V328.2H111.3zM114.9 339.8H119.0V342.4H114.9zM114.9 343.8H119.0V346.4H114.9zM114.9 345.8H119.0V348.5H114.9zM97.1 356.0H101.2V358.6H97.1z"/><path fill="#82afd7" d="M54.4 236.5H58.6V239.1H54.4zM79.3 236.5H87.0V239.1H79.3zM75.7 250.7H79.9V253.3H75.7zM111.3 297.2H119.0V299.9H111.3zM100.6 303.3H104.8V305.9H100.6zM114.9 307.4H119.0V310.0H114.9zM114.9 315.5H119.0V318.1H114.9zM107.7 319.5H111.9V322.1H107.7zM114.9 337.7H119.0V340.4H114.9z"/><path fill="#87b4d7" d="M58.0 236.5H62.1V239.1H58.0zM82.8 260.8H87.0V263.4H82.8zM75.7 266.9H79.9V269.5H75.7zM111.3 319.5H115.5V322.1H111.3zM107.7 333.7H111.9V336.3H107.7zM111.3 345.8H115.5V348.5H111.3zM104.2 353.9H108.3V356.6H104.2z"/><path fill="#91b4d7" d="M75.7 236.5H79.9V239.1H75.7zM68.6 238.5H72.8V241.2H68.6zM47.3 246.6H51.4V249.3H47.3zM82.8 254.7H87.0V257.4H82.8zM75.7 273.0H79.9V275.6H75.7zM111.3 331.7H115.5V334.3H111.3zM107.7 349.9H111.9V352.5H107.7z"/><path fill="#e1e1c8" d="M86.4 236.5H90.6V239.1H86.4zM104.2 240.6H108.3V243.2H104.2zM90.0 246.6H94.1V249.3H90.0zM97.1 246.6H101.2V249.3H97.1zM97.1 248.7H101.2V251.3H97.1zM107.7 258.8H111.9V261.4H107.7zM47.3 264.9H51.4V267.5H47.3zM86.4 264.9H90.6V267.5H86.4zM33.1 270.9H37.2V273.6H33.1zM86.4 279.0H90.6V281.7H86.4zM97.1 281.1H101.2V283.7H97.1zM47.3 287.1H51.4V289.8H47.3zM72.2 295.2H79.9V297.9H72.2zM118.4 295.2H122.6V297.9H118.4zM82.8 297.2H87.0V299.9H82.8zM129.1 297.2H133.2V299.9H129.1zM29.5 299.3H33.7V301.9H29.5zM29.5 301.3H33.7V303.9H29.5zM129.1 301.3H133.2V303.9H129.1zM61.5 303.3H65.7V305.9H61.5zM125.5 303.3H129.7V305.9H125.5zM58.0 305.3H62.1V308.0H58.0zM79.3 307.4H83.4V310.0H79.3zM33.1 309.4H37.2V312.0H33.1zM82.8 311.4H87.0V314.0H82.8zM122.0 311.4H133.2V314.0H122.0zM136.2 311.4H143.3V314.0H136.2zM139.7 313.4H143.3V316.1H139.7zM125.5 315.5H129.7V318.1H125.5zM54.4 317.5H58.6V320.1H54.4zM129.1 317.5H133.2V320.1H129.1zM58.0 321.5H62.1V324.2H58.0zM65.1 321.5H69.2V324.2H65.1zM54.4 323.6H58.6V326.2H54.4zM61.5 323.6H65.7V326.2H61.5zM54.4 325.6H58.6V328.2H54.4zM122.0 329.6H129.7V332.3H122.0zM54.4 331.7H58.6V334.3H54.4zM36.6 339.8H40.8V342.4H36.6zM125.5 339.8H129.7V342.4H125.5zM54.4 341.8H58.6V344.4H54.4zM43.7 347.9H51.4V350.5H43.7zM61.5 347.9H65.7V350.5H61.5zM36.6 349.9H40.8V352.5H36.6zM54.4 349.9H58.6V352.5H54.4zM43.7 353.9H47.9V356.6H43.7zM129.1 353.9H133.2V356.6H129.1zM68.6 356.0H72.8V358.6H68.6zM29.5 358.0H33.7V360.0H29.5z"/><path fill="#e6e1c3" d="M100.6 236.5H104.8V239.1H100.6zM97.1 238.5H101.2V241.2H97.1zM100.6 240.6H104.8V243.2H100.6zM107.7 240.6H111.9V243.2H107.7zM86.4 244.6H101.2V247.2H86.4zM104.2 244.6H108.3V247.2H104.2zM86.4 246.6H90.6V249.3H86.4zM122.0 250.7H126.1V253.3H122.0zM33.1 252.7H37.2V255.3H33.1zM107.7 254.7H111.9V257.4H107.7zM86.4 258.8H94.1V261.4H86.4zM100.6 258.8H104.8V261.4H100.6zM33.1 260.8H37.2V263.4H33.1zM43.7 264.9H47.9V267.5H43.7zM100.6 264.9H104.8V267.5H100.6zM97.1 273.0H101.2V275.6H97.1zM107.7 273.0H111.9V275.6H107.7zM93.5 275.0H97.7V277.6H93.5zM100.6 277.0H108.3V279.6H100.6zM86.4 289.2H94.1V291.8H86.4zM104.2 291.2H108.3V293.8H104.2zM129.1 293.2H136.8V295.8H129.1zM129.1 295.2H136.8V297.9H129.1zM122.0 297.2H126.1V299.9H122.0zM136.2 299.3H140.3V301.9H136.2zM118.4 301.3H122.6V303.9H118.4zM136.2 301.3H140.3V303.9H136.2zM29.5 303.3H33.7V305.9H29.5zM122.0 303.3H126.1V305.9H122.0zM50.8 305.3H58.6V308.0H50.8zM139.7 305.3H143.3V308.0H139.7zM122.0 307.4H126.1V310.0H122.0zM61.5 309.4H65.7V312.0H61.5zM79.3 309.4H87.0V312.0H79.3zM36.6 311.4H40.8V314.0H36.6zM58.0 313.4H62.1V316.1H58.0zM68.6 313.4H72.8V316.1H68.6zM75.7 313.4H87.0V316.1H75.7zM58.0 317.5H62.1V320.1H58.0zM82.8 317.5H87.0V320.1H82.8zM132.6 317.5H136.8V320.1H132.6zM33.1 319.5H37.2V322.1H33.1zM54.4 319.5H58.6V322.1H54.4zM129.1 319.5H133.2V322.1H129.1zM29.5 323.6H33.7V326.2H29.5zM68.6 325.6H72.8V328.2H68.6zM125.5 325.6H129.7V328.2H125.5zM118.4 327.6H122.6V330.2H118.4zM40.2 331.7H44.3V334.3H40.2zM136.2 331.7H143.3V334.3H136.2zM122.0 333.7H126.1V336.3H122.0zM129.1 333.7H133.2V336.3H129.1zM136.2 333.7H140.3V336.3H136.2zM54.4 337.7H58.6V340.4H54.4zM61.5 337.7H65.7V340.4H61.5zM139.7 337.7H143.3V340.4H139.7zM136.2 339.8H140.3V342.4H136.2zM50.8 341.8H55.0V344.4H50.8zM61.5 341.8H65.7V344.4H61.5zM118.4 341.8H122.6V344.4H118.4zM125.5 341.8H129.7V344.4H125.5zM139.7 341.8H143.3V344.4H139.7zM36.6 343.8H44.3V346.4H36.6zM122.0 343.8H129.7V346.4H122.0zM33.1 345.8H37.2V348.5H33.1zM58.0 345.8H62.1V348.5H58.0zM79.3 345.8H83.4V348.5H79.3zM122.0 347.9H126.1V350.5H122.0zM33.1 349.9H37.2V352.5H33.1zM68.6 349.9H72.8V352.5H68.6zM79.3 349.9H83.4V352.5H79.3zM40.2 351.9H44.3V354.5H40.2zM122.0 351.9H126.1V354.5H122.0zM29.5 353.9H37.2V356.6H29.5zM118.4 353.9H122.6V356.6H118.4zM125.5 353.9H129.7V356.6H125.5zM36.6 356.0H40.8V358.6H36.6zM47.3 356.0H51.4V358.6H47.3zM61.5 356.0H65.7V358.6H61.5zM72.2 356.0H76.3V358.6H72.2zM82.8 356.0H87.0V358.6H82.8zM125.5 356.0H129.7V358.6H125.5zM50.8 358.0H55.0V360.0H50.8zM125.5 358.0H133.2V360.0H125.5z"/><path fill="#f0c896" d="M111.3 236.5H115.5V239.1H111.3zM111.3 244.6H115.5V247.2H111.3zM114.9 270.9H119.0V273.6H114.9zM104.2 287.1H108.3V289.8H104.2zM65.1 315.5H69.2V318.1H65.1zM58.0 327.6H62.1V330.2H58.0zM68.6 331.7H72.8V334.3H68.6zM75.7 331.7H79.9V334.3H75.7z"/><path fill="#f0c391" d="M114.9 236.5H119.0V239.1H114.9zM114.9 244.6H119.0V247.2H114.9zM65.1 299.3H69.2V301.9H65.1zM72.2 309.4H76.3V312.0H72.2z"/><path fill="#b9cdd7" d="M129.1 236.5H133.2V239.1H129.1zM36.6 238.5H44.3V241.2H36.6zM82.8 238.5H87.0V241.2H82.8zM139.7 238.5H143.3V241.2H139.7zM40.2 240.6H44.3V243.2H40.2zM61.5 240.6H65.7V243.2H61.5zM82.8 240.6H87.0V243.2H82.8zM122.0 240.6H129.7V243.2H122.0zM132.6 240.6H136.8V243.2H132.6zM43.7 242.6H47.9V245.2H43.7zM72.2 242.6H76.3V245.2H72.2zM40.2 244.6H44.3V247.2H40.2zM54.4 244.6H58.6V247.2H54.4zM72.2 244.6H76.3V247.2H72.2zM125.5 246.6H129.7V249.3H125.5zM50.8 248.7H55.0V251.3H50.8zM61.5 250.7H65.7V253.3H61.5zM61.5 252.7H65.7V255.3H61.5zM129.1 254.7H133.2V257.4H129.1zM139.7 256.8H143.3V259.4H139.7zM79.3 258.8H83.4V261.4H79.3zM61.5 260.8H65.7V263.4H61.5zM118.4 260.8H122.6V263.4H118.4zM58.0 262.8H62.1V265.5H58.0zM118.4 262.8H122.6V265.5H118.4zM50.8 264.9H55.0V267.5H50.8zM61.5 264.9H65.7V267.5H61.5zM118.4 264.9H122.6V267.5H118.4zM136.2 264.9H140.3V267.5H136.2zM122.0 266.9H126.1V269.5H122.0zM125.5 270.9H133.2V273.6H125.5zM129.1 273.0H133.2V275.6H129.1zM139.7 273.0H143.3V275.6H139.7zM54.4 275.0H58.6V277.6H54.4zM65.1 275.0H69.2V277.6H65.1zM58.0 277.0H62.1V279.6H58.0zM68.6 277.0H76.3V279.6H68.6zM75.7 279.0H79.9V281.7H75.7zM132.6 281.1H136.8V283.7H132.6zM58.0 283.1H62.1V285.7H58.0zM72.2 283.1H76.3V285.7H72.2zM79.3 283.1H83.4V285.7H79.3zM58.0 285.1H62.1V287.7H58.0zM33.1 287.1H37.2V289.8H33.1zM72.2 287.1H76.3V289.8H72.2zM79.3 287.1H83.4V289.8H79.3zM118.4 289.2H122.6V291.8H118.4zM139.7 289.2H143.3V291.8H139.7zM40.2 291.2H44.3V293.8H40.2zM104.2 293.2H108.3V295.8H104.2zM86.4 297.2H90.6V299.9H86.4zM90.0 299.3H94.1V301.9H90.0zM86.4 311.4H90.6V314.0H86.4zM97.1 311.4H101.2V314.0H97.1zM93.5 313.4H101.2V316.1H93.5zM90.0 315.5H94.1V318.1H90.0zM90.0 317.5H94.1V320.1H90.0zM86.4 319.5H90.6V322.1H86.4zM100.6 319.5H104.8V322.1H100.6zM93.5 321.5H97.7V324.2H93.5zM111.3 321.5H115.5V324.2H111.3zM104.2 329.6H111.9V332.3H104.2zM90.0 331.7H94.1V334.3H90.0zM90.0 333.7H94.1V336.3H90.0zM114.9 333.7H119.0V336.3H114.9zM107.7 335.7H111.9V338.3H107.7zM90.0 339.8H94.1V342.4H90.0zM100.6 339.8H104.8V342.4H100.6zM97.1 341.8H104.8V344.4H97.1zM90.0 343.8H94.1V346.4H90.0zM90.0 345.8H97.7V348.5H90.0zM104.2 345.8H111.9V348.5H104.2zM111.3 351.9H115.5V354.5H111.3zM90.0 353.9H94.1V356.6H90.0zM107.7 353.9H111.9V356.6H107.7zM104.2 358.0H111.9V360.0H104.2z"/><path fill="#c8d2d7" d="M136.2 236.5H140.3V239.1H136.2zM129.1 240.6H133.2V243.2H129.1zM47.3 242.6H51.4V245.2H47.3zM43.7 244.6H51.4V247.2H43.7zM54.4 248.7H62.1V251.3H54.4zM125.5 248.7H129.7V251.3H125.5zM36.6 250.7H44.3V253.3H36.6zM118.4 254.7H122.6V257.4H118.4zM33.1 262.8H40.8V265.5H33.1zM136.2 262.8H140.3V265.5H136.2zM132.6 264.9H136.8V267.5H132.6zM136.2 270.9H140.3V273.6H136.2zM36.6 279.0H40.8V281.7H36.6zM43.7 283.1H47.9V285.7H43.7zM54.4 283.1H58.6V285.7H54.4zM50.8 285.1H55.0V287.7H50.8zM54.4 287.1H58.6V289.8H54.4zM65.1 287.1H69.2V289.8H65.1zM111.3 303.3H115.5V305.9H111.3zM90.0 313.4H94.1V316.1H90.0zM114.9 317.5H119.0V320.1H114.9zM104.2 341.8H108.3V344.4H104.2z"/><path fill="#96b9d7" d="M75.7 238.5H79.9V241.2H75.7zM65.1 240.6H69.2V243.2H65.1zM43.7 246.6H47.9V249.3H43.7zM72.2 246.6H76.3V249.3H72.2zM61.5 248.7H65.7V251.3H61.5zM72.2 256.8H76.3V259.4H72.2zM68.6 270.9H72.8V273.6H68.6zM68.6 283.1H72.8V285.7H68.6zM68.6 285.1H72.8V287.7H68.6zM68.6 289.2H76.3V291.8H68.6zM111.3 305.3H115.5V308.0H111.3zM90.0 307.4H94.1V310.0H90.0zM107.7 307.4H111.9V310.0H107.7zM111.3 311.4H115.5V314.0H111.3zM107.7 323.6H111.9V326.2H107.7zM107.7 347.9H111.9V350.5H107.7zM104.2 356.0H108.3V358.6H104.2zM111.3 358.0H115.5V360.0H111.3z"/><path fill="#e1e1c3" d="M86.4 238.5H94.1V241.2H86.4zM86.4 240.6H94.1V243.2H86.4zM93.5 246.6H97.7V249.3H93.5zM47.3 254.7H51.4V257.4H47.3zM107.7 260.8H111.9V263.4H107.7zM90.0 264.9H94.1V267.5H90.0zM107.7 268.9H111.9V271.5H107.7zM47.3 275.0H51.4V277.6H47.3zM97.1 275.0H101.2V277.6H97.1zM86.4 283.1H90.6V285.7H86.4zM93.5 283.1H97.7V285.7H93.5zM43.7 287.1H47.9V289.8H43.7zM118.4 293.2H122.6V295.8H118.4zM29.5 297.2H33.7V299.9H29.5zM68.6 297.2H72.8V299.9H68.6zM132.6 301.3H136.8V303.9H132.6zM36.6 303.3H40.8V305.9H36.6zM50.8 303.3H58.6V305.9H50.8zM61.5 305.3H65.7V308.0H61.5zM29.5 307.4H33.7V310.0H29.5zM36.6 307.4H40.8V310.0H36.6zM47.3 307.4H51.4V310.0H47.3zM139.7 309.4H143.3V312.0H139.7zM50.8 311.4H55.0V314.0H50.8zM40.2 319.5H44.3V322.1H40.2zM79.3 321.5H83.4V324.2H79.3zM33.1 323.6H37.2V326.2H33.1zM139.7 329.6H143.3V332.3H139.7zM36.6 331.7H40.8V334.3H36.6zM118.4 331.7H122.6V334.3H118.4zM40.2 333.7H44.3V336.3H40.2zM118.4 333.7H122.6V336.3H118.4zM68.6 335.7H72.8V338.3H68.6zM82.8 335.7H87.0V338.3H82.8zM122.0 335.7H126.1V338.3H122.0zM29.5 337.7H33.7V340.4H29.5zM82.8 337.7H87.0V340.4H82.8zM58.0 341.8H62.1V344.4H58.0zM79.3 343.8H83.4V346.4H79.3zM122.0 345.8H126.1V348.5H122.0zM50.8 347.9H55.0V350.5H50.8zM50.8 349.9H55.0V352.5H50.8zM40.2 353.9H44.3V356.6H40.2zM75.7 353.9H79.9V356.6H75.7zM43.7 358.0H47.9V360.0H43.7z"/><path fill="#f0e1b9" d="M93.5 238.5H97.7V241.2H93.5zM93.5 254.7H97.7V257.4H93.5zM114.9 256.8H119.0V259.4H114.9zM97.1 266.9H101.2V269.5H97.1zM104.2 268.9H108.3V271.5H104.2zM107.7 285.1H111.9V287.7H107.7zM54.4 293.2H58.6V295.8H54.4zM58.0 301.3H62.1V303.9H58.0zM47.3 303.3H51.4V305.9H47.3zM54.4 309.4H58.6V312.0H54.4zM33.1 311.4H37.2V314.0H33.1zM58.0 315.5H65.7V318.1H58.0zM75.7 315.5H79.9V318.1H75.7zM29.5 321.5H33.7V324.2H29.5zM68.6 337.7H72.8V340.4H68.6zM65.1 339.8H69.2V342.4H65.1zM54.4 347.9H58.6V350.5H54.4zM82.8 347.9H87.0V350.5H82.8zM47.3 349.9H51.4V352.5H47.3zM29.5 351.9H33.7V354.5H29.5zM58.0 351.9H62.1V354.5H58.0zM129.1 351.9H133.2V354.5H129.1zM136.2 353.9H140.3V356.6H136.2zM72.2 358.0H76.3V360.0H72.2z"/><path fill="#f0b487" d="M107.7 238.5H111.9V241.2H107.7zM100.6 252.7H104.8V255.3H100.6zM114.9 252.7H119.0V255.3H114.9zM114.9 260.8H119.0V263.4H114.9zM33.1 293.2H37.2V295.8H33.1zM72.2 299.3H76.3V301.9H72.2zM79.3 301.3H83.4V303.9H79.3zM65.1 351.9H69.2V354.5H65.1z"/><path fill="#e69169" d="M111.3 238.5H115.5V241.2H111.3z"/><path fill="#9bb9d7" d="M68.6 240.6H72.8V243.2H68.6zM72.2 250.7H76.3V253.3H72.2zM100.6 313.4H104.8V316.1H100.6zM111.3 333.7H115.5V336.3H111.3zM93.5 335.7H97.7V338.3H93.5zM114.9 356.0H119.0V358.6H114.9z"/><path fill="#91b9d7" d="M75.7 240.6H79.9V243.2H75.7zM82.8 244.6H87.0V247.2H82.8zM75.7 246.6H79.9V249.3H75.7zM82.8 248.7H87.0V251.3H82.8zM68.6 264.9H72.8V267.5H68.6zM79.3 266.9H83.4V269.5H79.3zM79.3 273.0H83.4V275.6H79.3zM75.7 275.0H79.9V277.6H75.7zM107.7 305.3H111.9V308.0H107.7zM111.3 315.5H115.5V318.1H111.3zM111.3 356.0H115.5V358.6H111.3z"/><path fill="#f0cd9b" d="M111.3 240.6H115.5V243.2H111.3zM93.5 252.7H97.7V255.3H93.5zM111.3 273.0H115.5V275.6H111.3zM43.7 293.2H47.9V295.8H43.7zM72.2 315.5H76.3V318.1H72.2zM43.7 319.5H47.9V322.1H43.7zM72.2 323.6H76.3V326.2H72.2zM47.3 325.6H51.4V328.2H47.3zM43.7 331.7H47.9V334.3H43.7zM43.7 333.7H47.9V336.3H43.7zM47.3 335.7H51.4V338.3H47.3zM68.6 343.8H72.8V346.4H68.6z"/><path fill="#f0c89b" d="M114.9 240.6H119.0V243.2H114.9zM100.6 254.7H104.8V257.4H100.6zM97.1 277.0H101.2V279.6H97.1zM50.8 299.3H55.0V301.9H50.8zM58.0 299.3H62.1V301.9H58.0zM33.1 331.7H37.2V334.3H33.1zM75.7 339.8H79.9V342.4H75.7zM65.1 341.8H69.2V344.4H65.1z"/><path fill="#a5bedc" d="M29.5 242.6H33.7V245.2H29.5zM68.6 250.7H72.8V253.3H68.6zM100.6 345.8H104.8V348.5H100.6zM100.6 351.9H104.8V354.5H100.6z"/><path fill="#a0bed7" d="M75.7 242.6H79.9V245.2H75.7zM58.0 246.6H62.1V249.3H58.0zM75.7 258.8H79.9V261.4H75.7zM82.8 264.9H87.0V267.5H82.8zM54.4 273.0H58.6V275.6H54.4zM79.3 277.0H83.4V279.6H79.3zM75.7 289.2H79.9V291.8H75.7zM86.4 295.2H90.6V297.9H86.4zM111.3 295.2H115.5V297.9H111.3zM100.6 297.2H104.8V299.9H100.6zM107.7 297.2H111.9V299.9H107.7zM114.9 299.3H119.0V301.9H114.9zM93.5 307.4H101.2V310.0H93.5zM104.2 307.4H108.3V310.0H104.2zM107.7 309.4H111.9V312.0H107.7zM114.9 311.4H119.0V314.0H114.9zM114.9 321.5H119.0V324.2H114.9zM111.3 323.6H115.5V326.2H111.3zM107.7 325.6H111.9V328.2H107.7zM104.2 327.6H108.3V330.2H104.2zM107.7 331.7H111.9V334.3H107.7zM107.7 339.8H111.9V342.4H107.7zM107.7 356.0H111.9V358.6H107.7zM114.9 358.0H119.0V360.0H114.9z"/><path fill="#dce1c8" d="M90.0 242.6H94.1V245.2H90.0zM97.1 242.6H101.2V245.2H97.1zM122.0 242.6H126.1V245.2H122.0zM107.7 248.7H111.9V251.3H107.7zM50.8 254.7H55.0V257.4H50.8zM107.7 256.8H111.9V259.4H107.7zM36.6 260.8H40.8V263.4H36.6zM86.4 260.8H90.6V263.4H86.4zM29.5 275.0H33.7V277.6H29.5zM97.1 283.1H101.2V285.7H97.1zM90.0 285.1H94.1V287.7H90.0zM139.7 285.1H143.3V287.7H139.7zM136.2 287.1H140.3V289.8H136.2zM107.7 291.2H111.9V293.8H107.7zM36.6 301.3H44.3V303.9H36.6zM40.2 305.3H44.3V308.0H40.2zM33.1 307.4H37.2V310.0H33.1zM54.4 307.4H58.6V310.0H54.4zM136.2 307.4H143.3V310.0H136.2zM118.4 309.4H122.6V312.0H118.4zM136.2 309.4H140.3V312.0H136.2zM125.5 313.4H129.7V316.1H125.5zM136.2 313.4H140.3V316.1H136.2zM129.1 315.5H133.2V318.1H129.1zM36.6 319.5H40.8V322.1H36.6zM61.5 319.5H65.7V322.1H61.5zM61.5 321.5H65.7V324.2H61.5zM125.5 323.6H129.7V326.2H125.5zM136.2 325.6H140.3V328.2H136.2zM29.5 327.6H33.7V330.2H29.5zM129.1 329.6H133.2V332.3H129.1zM93.5 331.7H97.7V334.3H93.5zM125.5 331.7H133.2V334.3H125.5zM125.5 337.7H129.7V340.4H125.5zM40.2 339.8H44.3V342.4H40.2zM129.1 339.8H136.8V342.4H129.1zM29.5 341.8H33.7V344.4H29.5zM132.6 341.8H136.8V344.4H132.6zM136.2 343.8H140.3V346.4H136.2zM54.4 345.8H58.6V348.5H54.4zM118.4 345.8H122.6V348.5H118.4zM125.5 345.8H129.7V348.5H125.5zM136.2 347.9H143.3V350.5H136.2zM75.7 349.9H79.9V352.5H75.7zM33.1 358.0H37.2V360.0H33.1zM40.2 358.0H44.3V360.0H40.2z"/><path fill="#d7dccd" d="M118.4 242.6H122.6V245.2H118.4zM139.7 244.6H143.3V247.2H139.7zM36.6 256.8H40.8V259.4H36.6zM50.8 256.8H55.0V259.4H50.8zM29.5 258.8H33.7V261.4H29.5zM43.7 260.8H47.9V263.4H43.7zM47.3 262.8H51.4V265.5H47.3zM86.4 262.8H94.1V265.5H86.4zM47.3 270.9H55.0V273.6H47.3zM33.1 283.1H37.2V285.7H33.1zM129.1 287.1H136.8V289.8H129.1zM50.8 289.2H55.0V291.8H50.8zM75.7 293.2H79.9V295.8H75.7zM93.5 293.2H97.7V295.8H93.5zM82.8 303.3H87.0V305.9H82.8zM90.0 305.3H94.1V308.0H90.0zM118.4 305.3H122.6V308.0H118.4zM118.4 307.4H122.6V310.0H118.4zM132.6 309.4H136.8V312.0H132.6zM118.4 321.5H122.6V324.2H118.4zM97.1 323.6H101.2V326.2H97.1zM40.2 325.6H44.3V328.2H40.2zM36.6 327.6H40.8V330.2H36.6zM129.1 335.7H133.2V338.3H129.1zM136.2 337.7H140.3V340.4H136.2zM118.4 343.8H122.6V346.4H118.4zM82.8 349.9H87.0V352.5H82.8zM122.0 349.9H126.1V352.5H122.0zM129.1 356.0H133.2V358.6H129.1zM136.2 356.0H140.3V358.6H136.2zM36.6 358.0H40.8V360.0H36.6z"/><path fill="#b4cdd7" d="M29.5 246.6H33.7V249.3H29.5zM65.1 246.6H69.2V249.3H65.1zM72.2 248.7H76.3V251.3H72.2zM132.6 250.7H136.8V253.3H132.6zM68.6 252.7H72.8V255.3H68.6zM54.4 254.7H58.6V257.4H54.4zM79.3 254.7H83.4V257.4H79.3zM79.3 270.9H83.4V273.6H79.3zM79.3 275.0H83.4V277.6H79.3zM75.7 277.0H79.9V279.6H75.7zM54.4 289.2H58.6V291.8H54.4zM104.2 295.2H108.3V297.9H104.2zM100.6 311.4H104.8V314.0H100.6zM107.7 317.5H111.9V320.1H107.7zM104.2 325.6H108.3V328.2H104.2zM90.0 329.6H94.1V332.3H90.0zM100.6 337.7H104.8V340.4H100.6zM90.0 358.0H94.1V360.0H90.0z"/><path fill="#9bbed7" d="M61.5 246.6H65.7V249.3H61.5zM68.6 260.8H72.8V263.4H68.6zM68.6 266.9H72.8V269.5H68.6zM139.7 268.9H143.3V271.5H139.7zM65.1 270.9H69.2V273.6H65.1zM58.0 273.0H62.1V275.6H58.0zM65.1 281.1H69.2V283.7H65.1zM79.3 281.1H83.4V283.7H79.3zM75.7 283.1H79.9V285.7H75.7zM75.7 287.1H79.9V289.8H75.7zM104.2 303.3H108.3V305.9H104.2zM114.9 313.4H119.0V316.1H114.9zM114.9 319.5H119.0V322.1H114.9zM90.0 321.5H94.1V324.2H90.0zM114.9 327.6H119.0V330.2H114.9zM111.3 329.6H115.5V332.3H111.3z"/><path fill="#a0bedc" d="M40.2 248.7H44.3V251.3H40.2zM65.1 264.9H69.2V267.5H65.1zM111.3 307.4H115.5V310.0H111.3zM111.3 313.4H115.5V316.1H111.3zM111.3 339.8H115.5V342.4H111.3z"/><path fill="#78aad7" d="M65.1 248.7H69.2V251.3H65.1zM68.6 256.8H72.8V259.4H68.6zM68.6 273.0H72.8V275.6H68.6zM82.8 279.0H87.0V281.7H82.8zM107.7 301.3H111.9V303.9H107.7zM100.6 307.4H104.8V310.0H100.6zM111.3 343.8H115.5V346.4H111.3zM111.3 349.9H115.5V352.5H111.3z"/><path fill="#8cb4d7" d="M65.1 250.7H69.2V253.3H65.1zM75.7 256.8H79.9V259.4H75.7zM72.2 273.0H76.3V275.6H72.2zM65.1 289.2H69.2V291.8H65.1zM104.2 315.5H108.3V318.1H104.2zM104.2 321.5H108.3V324.2H104.2zM104.2 333.7H108.3V336.3H104.2zM114.9 335.7H119.0V338.3H114.9zM107.7 343.8H111.9V346.4H107.7zM104.2 349.9H108.3V352.5H104.2zM100.6 356.0H104.8V358.6H100.6z"/><path fill="#f0cda0" d="M111.3 250.7H119.0V253.3H111.3zM111.3 279.0H119.0V281.7H111.3zM111.3 281.1H115.5V283.7H111.3zM114.9 285.1H119.0V287.7H114.9zM93.5 287.1H97.7V289.8H93.5zM111.3 287.1H115.5V289.8H111.3zM79.3 297.2H83.4V299.9H79.3zM43.7 299.3H47.9V301.9H43.7zM65.1 301.3H69.2V303.9H65.1zM65.1 303.3H69.2V305.9H65.1zM75.7 303.3H79.9V305.9H75.7zM65.1 305.3H69.2V308.0H65.1zM43.7 309.4H47.9V312.0H43.7zM68.6 315.5H72.8V318.1H68.6zM47.3 319.5H51.4V322.1H47.3zM43.7 323.6H47.9V326.2H43.7zM43.7 325.6H47.9V328.2H43.7zM47.3 327.6H51.4V330.2H47.3zM65.1 327.6H69.2V330.2H65.1zM65.1 329.6H69.2V332.3H65.1zM79.3 333.7H83.4V336.3H79.3zM65.1 343.8H69.2V346.4H65.1zM68.6 351.9H72.8V354.5H68.6z"/><path fill="#f0d2a0" d="M86.4 252.7H90.6V255.3H86.4zM111.3 260.8H115.5V263.4H111.3zM111.3 264.9H115.5V267.5H111.3zM114.9 266.9H119.0V269.5H114.9zM114.9 283.1H119.0V285.7H114.9zM97.1 285.1H101.2V287.7H97.1zM47.3 293.2H51.4V295.8H47.3zM54.4 299.3H58.6V301.9H54.4zM65.1 313.4H69.2V316.1H65.1zM75.7 323.6H79.9V326.2H75.7zM29.5 331.7H33.7V334.3H29.5zM61.5 331.7H69.2V334.3H61.5zM43.7 335.7H47.9V338.3H43.7zM43.7 337.7H47.9V340.4H43.7zM61.5 351.9H65.7V354.5H61.5z"/><path fill="#f0c396" d="M97.1 252.7H101.2V255.3H97.1zM104.2 252.7H108.3V255.3H104.2zM111.3 275.0H115.5V277.6H111.3zM111.3 291.2H115.5V293.8H111.3zM68.6 299.3H72.8V301.9H68.6zM43.7 305.3H47.9V308.0H43.7zM72.2 325.6H76.3V328.2H72.2zM47.3 331.7H51.4V334.3H47.3zM79.3 358.0H83.4V360.0H79.3z"/><path fill="#f0be91" d="M107.7 252.7H111.9V255.3H107.7zM114.9 254.7H119.0V257.4H114.9zM114.9 262.8H119.0V265.5H114.9zM111.3 283.1H115.5V285.7H111.3zM114.9 287.1H119.0V289.8H114.9zM114.9 289.2H119.0V291.8H114.9zM47.3 299.3H51.4V301.9H47.3zM68.6 309.4H72.8V312.0H68.6zM43.7 317.5H47.9V320.1H43.7zM47.3 321.5H51.4V324.2H47.3zM65.1 353.9H69.2V356.6H65.1z"/><path fill="#ebaa82" d="M111.3 252.7H115.5V255.3H111.3zM50.8 333.7H55.0V336.3H50.8z"/><path fill="#eb9b73" d="M111.3 254.7H115.5V257.4H111.3zM47.3 333.7H51.4V336.3H47.3z"/><path fill="#7dafd7" d="M65.1 256.8H69.2V259.4H65.1zM111.3 347.9H115.5V350.5H111.3zM100.6 349.9H104.8V352.5H100.6zM114.9 349.9H119.0V352.5H114.9z"/><path fill="#afc3dc" d="M68.6 258.8H72.8V261.4H68.6z"/><path fill="#e6e6be" d="M93.5 258.8H97.7V261.4H93.5zM61.5 343.8H65.7V346.4H61.5zM132.6 345.8H136.8V348.5H132.6zM139.7 358.0H143.3V360.0H139.7z"/><path fill="#f0dcaa" d="M97.1 260.8H101.2V263.4H97.1zM54.4 301.3H58.6V303.9H54.4zM68.6 301.3H72.8V303.9H68.6zM65.1 309.4H69.2V312.0H65.1zM75.7 335.7H79.9V338.3H75.7z"/><path fill="#f0d7a5" d="M111.3 268.9H115.5V271.5H111.3zM86.4 275.0H90.6V277.6H86.4zM107.7 283.1H111.9V285.7H107.7zM93.5 289.2H97.7V291.8H93.5zM100.6 291.2H104.8V293.8H100.6zM50.8 293.2H55.0V295.8H50.8zM50.8 301.3H55.0V303.9H50.8zM50.8 315.5H55.0V318.1H50.8zM47.3 317.5H51.4V320.1H47.3zM61.5 325.6H65.7V328.2H61.5zM72.2 327.6H76.3V330.2H72.2zM58.0 329.6H62.1V332.3H58.0zM65.1 337.7H69.2V340.4H65.1zM65.1 347.9H69.2V350.5H65.1zM33.1 351.9H37.2V354.5H33.1z"/><path fill="#eba57d" d="M114.9 268.9H119.0V271.5H114.9z"/><path fill="#f0dcb4" d="M90.0 270.9H94.1V273.6H90.0zM104.2 270.9H108.3V273.6H104.2zM90.0 275.0H94.1V277.6H90.0zM86.4 281.1H90.6V283.7H86.4zM93.5 291.2H97.7V293.8H93.5zM43.7 301.3H47.9V303.9H43.7zM125.5 317.5H129.7V320.1H125.5zM33.1 329.6H37.2V332.3H33.1zM29.5 343.8H33.7V346.4H29.5zM58.0 353.9H62.1V356.6H58.0zM40.2 356.0H44.3V358.6H40.2z"/><path fill="#d7dcd2" d="M47.3 273.0H51.4V275.6H47.3zM47.3 279.0H51.4V281.7H47.3z"/><path fill="#ebaf87" d="M114.9 273.0H119.0V275.6H114.9z"/><path fill="#ebaa7d" d="M114.9 275.0H119.0V277.6H114.9z"/><path fill="#f0b98c" d="M114.9 277.0H119.0V279.6H114.9zM75.7 299.3H79.9V301.9H75.7zM47.3 323.6H51.4V326.2H47.3zM72.2 351.9H76.3V354.5H72.2z"/><path fill="#ebaf82" d="M29.5 293.2H33.7V295.8H29.5zM61.5 299.3H65.7V301.9H61.5zM50.8 309.4H55.0V312.0H50.8z"/><path fill="#ebe6b9" d="M72.2 297.2H76.3V299.9H72.2zM36.6 315.5H40.8V318.1H36.6zM61.5 339.8H65.7V342.4H61.5zM58.0 343.8H62.1V346.4H58.0z"/><path fill="#87afd7" d="M111.3 301.3H115.5V303.9H111.3z"/><path fill="#eba578" d="M47.3 309.4H51.4V312.0H47.3z"/><path fill="#f0b987" d="M72.2 329.6H76.3V332.3H72.2z"/></g><rect x="29.5" y="234.5" width="1.3" height="125.5" fill="#b4b8b4" opacity="0.8"/><rect x="29.5" y="360.6" width="27.10" height="8.7" fill="#e0182c"/><rect x="56.3" y="360.6" width="30.30" height="8.7" fill="#149a48"/><rect x="86.3" y="360.6" width="4.00" height="8.7" fill="#e0182c"/><rect x="90" y="360.6" width="30.80" height="8.7" fill="#2e3192"/><rect x="120.5" y="360.6" width="23.10" height="8.7" fill="#e0182c"/><rect x="38.8" y="376" width="6.9" height="7.7" fill="#d0142c"/><text x="49.6" y="383.2" font-size="10.4" fill="#333" textLength="14.3" lengthAdjust="spacingAndGlyphs">CR</text><rect x="73.4" y="376" width="6.9" height="7.7" fill="#1b4f8c"/><text x="84.9" y="383.2" font-size="10.4" fill="#333" textLength="14.3" lengthAdjust="spacingAndGlyphs">AD</text><rect x="106.8" y="376" width="7.4" height="7.7" fill="#3cae3a"/><text x="118.8" y="383.2" font-size="10.4" fill="#333" textLength="15.1" lengthAdjust="spacingAndGlyphs">HC</text><text transform="translate(24.6,296.4) rotate(-90)" font-size="9" text-anchor="middle" fill="#333" textLength="23.2" lengthAdjust="spacingAndGlyphs">Genes</text><text x="155.1" y="271.4" font-size="10.2" fill="#333" textLength="37.3" lengthAdjust="spacingAndGlyphs">split CR</text><text x="155.1" y="284.6" font-size="10.2" fill="#333" textLength="41" lengthAdjust="spacingAndGlyphs">in HC- &amp;</text><text x="155.1" y="297.4" font-size="10.2" fill="#333" textLength="35.7" lengthAdjust="spacingAndGlyphs">AD-like</text><line x1="159" y1="309.9" x2="184" y2="309.9" stroke="#231f20" stroke-width="1.3"/><path d="M189 309.9 L182 306.2 L183.5 309.9 L182 313.6 Z" fill="#231f20"/><line x1="159" y1="380" x2="184" y2="380" stroke="#231f20" stroke-width="1.3"/><path d="M189 380 L182 376.3 L183.5 380 L182 383.7 Z" fill="#231f20"/><g filter="url(#bl)"><path fill="#cdd7d7" d="M209.5 234.0H213.9V236.7H209.5zM213.3 238.2H217.6V240.9H213.3zM247.2 238.2H251.5V240.9H247.2zM213.3 240.3H217.6V243.0H213.3zM250.9 240.3H255.3V243.0H250.9zM292.4 240.3H296.7V243.0H292.4zM258.5 244.5H262.8V247.2H258.5zM209.5 246.6H217.6V249.2H209.5zM296.1 246.6H300.5V249.2H296.1zM284.8 248.6H289.2V251.3H284.8zM224.6 250.7H228.9V253.4H224.6zM250.9 250.7H255.3V253.4H250.9zM288.6 250.7H293.0V253.4H288.6zM250.9 254.9H255.3V257.6H250.9zM217.0 257.0H221.4V259.7H217.0zM224.6 257.0H228.9V259.7H224.6zM228.3 259.1H232.7V261.8H228.3zM258.5 267.5H262.8V270.2H258.5zM235.9 269.6H240.2V272.2H235.9zM209.5 273.7H213.9V276.4H209.5zM307.4 277.9H311.8V280.6H307.4zM209.5 280.0H213.9V282.7H209.5zM250.9 280.0H255.3V282.7H250.9zM213.3 284.2H217.6V286.9H213.3zM303.7 288.4H308.0V291.1H303.7zM311.2 288.4H315.6V291.1H311.2zM266.0 294.7H270.4V297.4H266.0zM273.5 300.9H277.9V303.6H273.5zM284.8 307.2H289.2V309.9H284.8zM311.2 317.7H315.6V320.4H311.2zM284.8 326.0H289.2V328.7H284.8zM311.2 330.2H315.6V332.9H311.2zM284.8 338.6H289.2V341.3H284.8zM303.7 340.7H308.0V343.4H303.7zM303.7 346.9H308.0V349.6H303.7zM284.8 349.0H289.2V351.7H284.8zM311.2 353.2H315.6V355.9H311.2zM318.7 353.2H322.5V355.9H318.7z"/><path fill="#c8d7d7" d="M213.3 234.0H217.6V236.7H213.3zM232.1 234.0H236.5V236.7H232.1zM228.3 236.1H232.7V238.8H228.3zM209.5 238.2H213.9V240.9H209.5zM232.1 238.2H236.5V240.9H232.1zM262.2 238.2H270.4V240.9H262.2zM262.2 242.4H266.6V245.1H262.2zM228.3 244.5H232.7V247.2H228.3zM250.9 244.5H255.3V247.2H250.9zM292.4 244.5H296.7V247.2H292.4zM228.3 246.6H232.7V249.2H228.3zM292.4 246.6H296.7V249.2H292.4zM247.2 248.6H251.5V251.3H247.2zM296.1 248.6H300.5V251.3H296.1zM243.4 250.7H247.8V253.4H243.4zM228.3 252.8H232.7V255.5H228.3zM288.6 252.8H293.0V255.5H288.6zM254.7 254.9H259.1V257.6H254.7zM292.4 257.0H296.7V259.7H292.4zM209.5 259.1H213.9V261.8H209.5zM250.9 259.1H255.3V261.8H250.9zM292.4 259.1H296.7V261.8H292.4zM250.9 261.2H259.1V263.9H250.9zM213.3 263.3H217.6V266.0H213.3zM228.3 263.3H232.7V266.0H228.3zM247.2 263.3H255.3V266.0H247.2zM262.2 263.3H266.6V266.0H262.2zM224.6 265.4H228.9V268.1H224.6zM247.2 265.4H251.5V268.1H247.2zM213.3 267.5H217.6V270.2H213.3zM262.2 267.5H266.6V270.2H262.2zM224.6 269.6H236.5V272.2H224.6zM247.2 271.6H251.5V274.3H247.2zM299.9 271.6H304.3V274.3H299.9zM243.4 273.7H247.8V276.4H243.4zM266.0 273.7H270.4V276.4H266.0zM299.9 273.7H304.3V276.4H299.9zM228.3 275.8H232.7V278.5H228.3zM235.9 275.8H240.2V278.5H235.9zM254.7 275.8H262.8V278.5H254.7zM266.0 275.8H270.4V278.5H266.0zM299.9 275.8H304.3V278.5H299.9zM239.6 277.9H244.0V280.6H239.6zM266.0 277.9H270.4V280.6H266.0zM299.9 277.9H304.3V280.6H299.9zM266.0 280.0H270.4V282.7H266.0zM262.2 284.2H266.6V286.9H262.2zM213.3 290.5H217.6V293.2H213.3zM250.9 290.5H255.3V293.2H250.9zM284.8 290.5H289.2V293.2H284.8zM209.5 292.6H213.9V295.3H209.5zM277.3 298.8H281.7V301.5H277.3zM318.7 298.8H322.5V301.5H318.7zM288.6 300.9H293.0V303.6H288.6zM303.7 300.9H308.0V303.6H303.7zM292.4 303.0H296.7V305.7H292.4zM292.4 305.1H296.7V307.8H292.4zM299.9 305.1H304.3V307.8H299.9zM288.6 307.2H293.0V309.9H288.6zM318.7 307.2H322.5V309.9H318.7zM277.3 309.3H281.7V312.0H277.3zM284.8 309.3H289.2V312.0H284.8zM311.2 309.3H319.3V312.0H311.2zM311.2 311.4H315.6V314.1H311.2zM277.3 313.5H281.7V316.2H277.3zM292.4 313.5H296.7V316.2H292.4zM315.0 313.5H319.3V316.2H315.0zM277.3 315.6H281.7V318.3H277.3zM288.6 315.6H293.0V318.3H288.6zM284.8 317.7H293.0V320.4H284.8zM307.4 317.7H311.8V320.4H307.4zM266.0 319.8H270.4V322.4H266.0zM273.5 323.9H277.9V326.6H273.5zM288.6 323.9H293.0V326.6H288.6zM315.0 323.9H319.3V326.6H315.0zM303.7 326.0H308.0V328.7H303.7zM288.6 328.1H293.0V330.8H288.6zM311.2 328.1H315.6V330.8H311.2zM296.1 330.2H300.5V332.9H296.1zM220.8 332.3H225.2V335.0H220.8zM288.6 332.3H293.0V335.0H288.6zM303.7 332.3H308.0V335.0H303.7zM288.6 334.4H293.0V337.1H288.6zM277.3 336.5H281.7V339.2H277.3zM303.7 336.5H308.0V339.2H303.7zM318.7 336.5H322.5V339.2H318.7zM269.8 338.6H274.1V341.3H269.8zM281.1 344.9H285.4V347.6H281.1zM296.1 344.9H300.5V347.6H296.1zM288.6 346.9H293.0V349.6H288.6zM307.4 346.9H319.3V349.6H307.4zM277.3 349.0H281.7V351.7H277.3zM288.6 349.0H293.0V351.7H288.6zM269.8 351.1H274.1V353.8H269.8zM266.0 353.2H270.4V355.9H266.0zM292.4 353.2H296.7V355.9H292.4zM292.4 355.3H296.7V358.0H292.4zM318.7 355.3H322.5V358.0H318.7zM311.2 357.4H322.5V359.5H311.2z"/><path fill="#d7e1cd" d="M217.0 234.0H221.4V236.7H217.0zM284.8 234.0H289.2V236.7H284.8zM296.1 234.0H300.5V236.7H296.1zM224.6 236.1H228.9V238.8H224.6zM296.1 236.1H300.5V238.8H296.1zM284.8 238.2H289.2V240.9H284.8zM232.1 240.3H236.5V243.0H232.1zM299.9 240.3H304.3V243.0H299.9zM220.8 242.4H228.9V245.1H220.8zM288.6 242.4H293.0V245.1H288.6zM217.0 244.5H221.4V247.2H217.0zM273.5 244.5H277.9V247.2H273.5zM217.0 246.6H221.4V249.2H217.0zM269.8 246.6H274.1V249.2H269.8zM277.3 248.6H281.7V251.3H277.3zM299.9 248.6H304.3V251.3H299.9zM209.5 250.7H213.9V253.4H209.5zM269.8 250.7H274.1V253.4H269.8zM299.9 257.0H304.3V259.7H299.9zM228.3 261.2H232.7V263.9H228.3zM281.1 265.4H285.4V268.1H281.1zM296.1 265.4H300.5V268.1H296.1zM299.9 267.5H304.3V270.2H299.9zM307.4 267.5H311.8V270.2H307.4zM307.4 271.6H311.8V274.3H307.4zM284.8 273.7H293.0V276.4H284.8zM315.0 275.8H319.3V278.5H315.0zM217.0 277.9H221.4V280.6H217.0zM232.1 277.9H236.5V280.6H232.1zM224.6 280.0H228.9V282.7H224.6zM273.5 284.2H277.9V286.9H273.5zM232.1 286.3H236.5V289.0H232.1zM284.8 288.4H289.2V291.1H284.8zM318.7 288.4H322.5V291.1H318.7zM277.3 290.5H281.7V293.2H277.3zM299.9 292.6H311.8V295.3H299.9zM303.7 294.7H308.0V297.4H303.7zM258.5 296.8H262.8V299.4H258.5zM284.8 296.8H293.0V299.4H284.8zM299.9 300.9H304.3V303.6H299.9zM239.6 303.0H244.0V305.7H239.6zM239.6 305.1H247.8V307.8H239.6zM220.8 307.2H225.2V309.9H220.8zM299.9 307.2H304.3V309.9H299.9zM250.9 309.3H255.3V312.0H250.9zM254.7 311.4H259.1V314.1H254.7zM250.9 317.7H255.3V320.4H250.9zM209.5 321.9H213.9V324.5H209.5zM239.6 332.3H244.0V335.0H239.6zM254.7 332.3H259.1V335.0H254.7zM299.9 334.4H304.3V337.1H299.9zM220.8 336.5H225.2V339.2H220.8zM243.4 336.5H247.8V339.2H243.4zM299.9 336.5H304.3V339.2H299.9zM299.9 342.8H304.3V345.5H299.9zM209.5 344.9H213.9V347.6H209.5zM262.2 351.1H266.6V353.8H262.2zM228.3 353.2H232.7V355.9H228.3zM258.5 357.4H262.8V359.5H258.5z"/><path fill="#e1e1c8" d="M220.8 234.0H225.2V236.7H220.8zM277.3 234.0H281.7V236.7H277.3zM318.7 234.0H322.5V236.7H318.7zM277.3 236.1H281.7V238.8H277.3zM299.9 236.1H304.3V238.8H299.9zM311.2 238.2H315.6V240.9H311.2zM209.5 240.3H213.9V243.0H209.5zM220.8 240.3H225.2V243.0H220.8zM315.0 240.3H319.3V243.0H315.0zM269.8 242.4H277.9V245.1H269.8zM281.1 242.4H285.4V245.1H281.1zM269.8 244.5H274.1V247.2H269.8zM224.6 246.6H228.9V249.2H224.6zM232.1 246.6H236.5V249.2H232.1zM213.3 248.6H221.4V251.3H213.3zM232.1 248.6H236.5V251.3H232.1zM303.7 250.7H308.0V253.4H303.7zM213.3 252.8H221.4V255.5H213.3zM269.8 252.8H277.9V255.5H269.8zM307.4 257.0H315.6V259.7H307.4zM281.1 259.1H285.4V261.8H281.1zM232.1 263.3H236.5V266.0H232.1zM292.4 265.4H296.7V268.1H292.4zM307.4 265.4H311.8V268.1H307.4zM269.8 267.5H274.1V270.2H269.8zM284.8 269.6H289.2V272.2H284.8zM209.5 271.6H213.9V274.3H209.5zM243.4 271.6H247.8V274.3H243.4zM281.1 271.6H285.4V274.3H281.1zM224.6 273.7H228.9V276.4H224.6zM232.1 273.7H236.5V276.4H232.1zM269.8 273.7H274.1V276.4H269.8zM220.8 277.9H225.2V280.6H220.8zM269.8 277.9H274.1V280.6H269.8zM228.3 280.0H232.7V282.7H228.3zM288.6 280.0H293.0V282.7H288.6zM318.7 280.0H322.5V282.7H318.7zM281.1 284.2H285.4V286.9H281.1zM311.2 284.2H315.6V286.9H311.2zM281.1 288.4H285.4V291.1H281.1zM269.8 290.5H274.1V293.2H269.8zM281.1 290.5H285.4V293.2H281.1zM299.9 290.5H304.3V293.2H299.9zM315.0 290.5H319.3V293.2H315.0zM269.8 292.6H274.1V295.3H269.8zM273.5 294.7H277.9V297.4H273.5zM299.9 294.7H304.3V297.4H299.9zM220.8 296.8H225.2V299.4H220.8zM232.1 296.8H236.5V299.4H232.1zM239.6 296.8H244.0V299.4H239.6zM254.7 296.8H259.1V299.4H254.7zM262.2 296.8H266.6V299.4H262.2zM299.9 296.8H304.3V299.4H299.9zM262.2 300.9H266.6V303.6H262.2zM220.8 303.0H225.2V305.7H220.8zM247.2 303.0H251.5V305.7H247.2zM288.6 303.0H293.0V305.7H288.6zM220.8 305.1H225.2V307.8H220.8zM247.2 305.1H251.5V307.8H247.2zM262.2 305.1H266.6V307.8H262.2zM250.9 307.2H255.3V309.9H250.9zM258.5 307.2H262.8V309.9H258.5zM217.0 309.3H221.4V312.0H217.0zM228.3 309.3H232.7V312.0H228.3zM209.5 311.4H213.9V314.1H209.5zM209.5 313.5H213.9V316.2H209.5zM239.6 315.6H244.0V318.3H239.6zM262.2 315.6H266.6V318.3H262.2zM220.8 319.8H225.2V322.4H220.8zM228.3 319.8H232.7V322.4H228.3zM258.5 319.8H262.8V322.4H258.5zM299.9 319.8H304.3V322.4H299.9zM247.2 321.9H251.5V324.5H247.2zM258.5 321.9H266.6V324.5H258.5zM299.9 321.9H304.3V324.5H299.9zM232.1 323.9H236.5V326.6H232.1zM243.4 326.0H247.8V328.7H243.4zM220.8 328.1H225.2V330.8H220.8zM239.6 328.1H247.8V330.8H239.6zM209.5 332.3H213.9V335.0H209.5zM217.0 332.3H221.4V335.0H217.0zM299.9 332.3H304.3V335.0H299.9zM224.6 334.4H228.9V337.1H224.6zM228.3 340.7H232.7V343.4H228.3zM239.6 342.8H244.0V345.5H239.6zM213.3 344.9H217.6V347.6H213.3zM239.6 346.9H244.0V349.6H239.6zM217.0 349.0H221.4V351.7H217.0zM228.3 351.1H232.7V353.8H228.3zM243.4 353.2H247.8V355.9H243.4zM277.3 353.2H281.7V355.9H277.3zM258.5 355.3H262.8V358.0H258.5zM299.9 357.4H304.3V359.5H299.9z"/><path fill="#cddcd2" d="M224.6 234.0H228.9V236.7H224.6zM220.8 238.2H225.2V240.9H220.8zM235.9 246.6H240.2V249.2H235.9zM292.4 252.8H296.7V255.5H292.4zM217.0 254.9H221.4V257.6H217.0zM228.3 254.9H232.7V257.6H228.3zM217.0 261.2H221.4V263.9H217.0zM213.3 265.4H217.6V268.1H213.3zM303.7 269.6H308.0V272.2H303.7zM239.6 271.6H244.0V274.3H239.6zM239.6 275.8H244.0V278.5H239.6zM307.4 282.1H311.8V284.8H307.4zM269.8 288.4H274.1V291.1H269.8zM209.5 290.5H213.9V293.2H209.5zM254.7 300.9H259.1V303.6H254.7zM243.4 332.3H247.8V335.0H243.4zM284.8 336.5H289.2V339.2H284.8zM273.5 338.6H277.9V341.3H273.5zM311.2 338.6H315.6V341.3H311.2zM299.9 349.0H304.3V351.7H299.9z"/><path fill="#d2dcd2" d="M228.3 234.0H232.7V236.7H228.3zM269.8 234.0H274.1V236.7H269.8zM220.8 236.1H225.2V238.8H220.8zM217.0 238.2H221.4V240.9H217.0zM296.1 238.2H300.5V240.9H296.1zM217.0 240.3H221.4V243.0H217.0zM247.2 240.3H251.5V243.0H247.2zM209.5 242.4H221.4V245.1H209.5zM296.1 242.4H300.5V245.1H296.1zM213.3 244.5H217.6V247.2H213.3zM224.6 244.5H228.9V247.2H224.6zM254.7 244.5H259.1V247.2H254.7zM277.3 246.6H281.7V249.2H277.3zM307.4 246.6H315.6V249.2H307.4zM228.3 248.6H232.7V251.3H228.3zM288.6 248.6H293.0V251.3H288.6zM284.8 250.7H289.2V253.4H284.8zM213.3 254.9H217.6V257.6H213.3zM269.8 254.9H274.1V257.6H269.8zM284.8 254.9H289.2V257.6H284.8zM292.4 254.9H296.7V257.6H292.4zM213.3 257.0H217.6V259.7H213.3zM303.7 257.0H308.0V259.7H303.7zM217.0 259.1H225.2V261.8H217.0zM232.1 259.1H236.5V261.8H232.1zM277.3 259.1H281.7V261.8H277.3zM209.5 261.2H213.9V263.9H209.5zM220.8 261.2H228.9V263.9H220.8zM232.1 261.2H236.5V263.9H232.1zM220.8 263.3H225.2V266.0H220.8zM269.8 265.4H277.9V268.1H269.8zM288.6 265.4H293.0V268.1H288.6zM311.2 265.4H315.6V268.1H311.2zM224.6 267.5H228.9V270.2H224.6zM303.7 267.5H308.0V270.2H303.7zM254.7 269.6H262.8V272.2H254.7zM307.4 269.6H311.8V272.2H307.4zM228.3 271.6H232.7V274.3H228.3zM213.3 273.7H217.6V276.4H213.3zM220.8 273.7H225.2V276.4H220.8zM250.9 273.7H259.1V276.4H250.9zM262.2 273.7H266.6V276.4H262.2zM209.5 275.8H213.9V278.5H209.5zM220.8 275.8H225.2V278.5H220.8zM232.1 275.8H236.5V278.5H232.1zM243.4 275.8H247.8V278.5H243.4zM307.4 275.8H311.8V278.5H307.4zM318.7 275.8H322.5V278.5H318.7zM224.6 277.9H232.7V280.6H224.6zM235.9 277.9H240.2V280.6H235.9zM213.3 280.0H217.6V282.7H213.3zM220.8 280.0H225.2V282.7H220.8zM235.9 280.0H240.2V282.7H235.9zM247.2 280.0H251.5V282.7H247.2zM254.7 280.0H259.1V282.7H254.7zM299.9 280.0H304.3V282.7H299.9zM307.4 280.0H311.8V282.7H307.4zM299.9 282.1H304.3V284.8H299.9zM299.9 284.2H308.0V286.9H299.9zM303.7 286.3H311.8V289.0H303.7zM288.6 290.5H293.0V293.2H288.6zM307.4 290.5H315.6V293.2H307.4zM315.0 292.6H319.3V295.3H315.0zM209.5 294.7H213.9V297.4H209.5zM269.8 298.8H274.1V301.5H269.8zM281.1 298.8H285.4V301.5H281.1zM284.8 300.9H289.2V303.6H284.8zM209.5 303.0H217.6V305.7H209.5zM299.9 303.0H304.3V305.7H299.9zM217.0 305.1H221.4V307.8H217.0zM254.7 309.3H259.1V312.0H254.7zM299.9 311.4H304.3V314.1H299.9zM284.8 315.6H289.2V318.3H284.8zM315.0 317.7H319.3V320.4H315.0zM318.7 319.8H322.5V322.4H318.7zM213.3 321.9H217.6V324.5H213.3zM243.4 321.9H247.8V324.5H243.4zM303.7 321.9H308.0V324.5H303.7zM299.9 330.2H304.3V332.9H299.9zM235.9 332.3H240.2V335.0H235.9zM232.1 336.5H236.5V339.2H232.1zM209.5 340.7H213.9V343.4H209.5zM247.2 340.7H251.5V343.4H247.2zM315.0 340.7H319.3V343.4H315.0zM277.3 342.8H281.7V345.5H277.3zM284.8 342.8H289.2V345.5H284.8zM228.3 344.9H232.7V347.6H228.3zM243.4 344.9H247.8V347.6H243.4zM284.8 346.9H289.2V349.6H284.8zM243.4 349.0H247.8V351.7H243.4zM318.7 351.1H322.5V353.8H318.7zM281.1 353.2H285.4V355.9H281.1zM288.6 353.2H293.0V355.9H288.6zM281.1 355.3H285.4V358.0H281.1zM247.2 357.4H251.5V359.5H247.2zM288.6 357.4H293.0V359.5H288.6z"/><path fill="#afc8dc" d="M235.9 234.0H240.2V236.7H235.9zM258.5 234.0H262.8V236.7H258.5zM247.2 236.1H251.5V238.8H247.2zM258.5 236.1H266.6V238.8H258.5zM243.4 240.3H247.8V243.0H243.4zM266.0 242.4H270.4V245.1H266.0zM266.0 244.5H270.4V247.2H266.0zM239.6 246.6H244.0V249.2H239.6zM250.9 246.6H255.3V249.2H250.9zM258.5 250.7H262.8V253.4H258.5zM235.9 252.8H240.2V255.5H235.9zM243.4 257.0H247.8V259.7H243.4zM239.6 265.4H244.0V268.1H239.6zM266.0 265.4H270.4V268.1H266.0zM243.4 267.5H259.1V270.2H243.4zM217.0 282.1H221.4V284.8H217.0zM213.3 286.3H217.6V289.0H213.3zM220.8 286.3H228.9V289.0H220.8zM250.9 288.4H255.3V291.1H250.9zM258.5 288.4H262.8V291.1H258.5zM224.6 290.5H228.9V293.2H224.6zM217.0 292.6H221.4V295.3H217.0zM220.8 294.7H225.2V297.4H220.8zM266.0 296.8H270.4V299.4H266.0zM296.1 303.0H300.5V305.7H296.1zM266.0 307.2H270.4V309.9H266.0zM281.1 307.2H285.4V309.9H281.1zM307.4 307.2H311.8V309.9H307.4zM296.1 309.3H300.5V312.0H296.1zM292.4 311.4H296.7V314.1H292.4zM266.0 313.5H270.4V316.2H266.0zM292.4 315.6H296.7V318.3H292.4zM315.0 315.6H322.5V318.3H315.0zM273.5 319.8H281.7V322.4H273.5zM269.8 321.9H274.1V324.5H269.8zM307.4 321.9H311.8V324.5H307.4zM292.4 326.0H296.7V328.7H292.4zM266.0 328.1H270.4V330.8H266.0zM273.5 332.3H277.9V335.0H273.5zM281.1 332.3H285.4V335.0H281.1zM292.4 332.3H296.7V335.0H292.4zM296.1 336.5H300.5V339.2H296.1zM315.0 336.5H319.3V339.2H315.0zM266.0 338.6H270.4V341.3H266.0zM307.4 340.7H315.6V343.4H307.4zM269.8 344.9H277.9V347.6H269.8zM315.0 344.9H319.3V347.6H315.0zM266.0 349.0H270.4V351.7H266.0zM266.0 351.1H270.4V353.8H266.0zM269.8 353.2H274.1V355.9H269.8zM277.3 355.3H281.7V358.0H277.3zM266.0 357.4H270.4V359.5H266.0zM281.1 357.4H285.4V359.5H281.1z"/><path fill="#8cb4d7" d="M239.6 234.0H244.0V236.7H239.6zM258.5 246.6H262.8V249.2H258.5zM266.0 257.0H270.4V259.7H266.0zM247.2 284.2H251.5V286.9H247.2zM217.0 286.3H221.4V289.0H217.0zM266.0 288.4H270.4V291.1H266.0zM307.4 288.4H311.8V291.1H307.4zM273.5 296.8H277.9V299.4H273.5zM292.4 296.8H300.5V299.4H292.4zM281.1 328.1H285.4V330.8H281.1zM296.1 334.4H300.5V337.1H296.1z"/><path fill="#a5c3dc" d="M243.4 234.0H247.8V236.7H243.4zM247.2 246.6H251.5V249.2H247.2zM247.2 257.0H251.5V259.7H247.2zM254.7 271.6H259.1V274.3H254.7zM266.0 286.3H270.4V289.0H266.0zM217.0 294.7H221.4V297.4H217.0zM311.2 298.8H315.6V301.5H311.2zM307.4 300.9H311.8V303.6H307.4zM315.0 300.9H319.3V303.6H315.0zM311.2 303.0H315.6V305.7H311.2zM273.5 305.1H277.9V307.8H273.5zM296.1 307.2H300.5V309.9H296.1zM269.8 313.5H274.1V316.2H269.8zM311.2 321.9H315.6V324.5H311.2zM292.4 328.1H296.7V330.8H292.4zM277.3 332.3H281.7V335.0H277.3zM266.0 334.4H270.4V337.1H266.0zM292.4 336.5H296.7V339.2H292.4zM311.2 336.5H315.6V339.2H311.2z"/><path fill="#b9cdd7" d="M247.2 234.0H251.5V236.7H247.2zM262.2 234.0H266.6V236.7H262.2zM209.5 236.1H213.9V238.8H209.5zM235.9 236.1H240.2V238.8H235.9zM254.7 236.1H259.1V238.8H254.7zM239.6 238.2H244.0V240.9H239.6zM254.7 238.2H262.8V240.9H254.7zM235.9 240.3H240.2V243.0H235.9zM258.5 240.3H262.8V243.0H258.5zM254.7 242.4H262.8V245.1H254.7zM284.8 242.4H289.2V245.1H284.8zM235.9 244.5H240.2V247.2H235.9zM262.2 244.5H266.6V247.2H262.2zM284.8 244.5H289.2V247.2H284.8zM296.1 244.5H300.5V247.2H296.1zM262.2 248.6H266.6V251.3H262.2zM247.2 250.7H251.5V253.4H247.2zM254.7 252.8H262.8V255.5H254.7zM239.6 254.9H244.0V257.6H239.6zM262.2 254.9H266.6V257.6H262.2zM213.3 259.1H217.6V261.8H213.3zM284.8 259.1H289.2V261.8H284.8zM235.9 261.2H240.2V263.9H235.9zM243.4 261.2H247.8V263.9H243.4zM266.0 261.2H270.4V263.9H266.0zM220.8 265.4H225.2V268.1H220.8zM232.1 265.4H240.2V268.1H232.1zM258.5 265.4H262.8V268.1H258.5zM235.9 273.7H240.2V276.4H235.9zM307.4 273.7H311.8V276.4H307.4zM224.6 275.8H228.9V278.5H224.6zM213.3 282.1H217.6V284.8H213.3zM220.8 282.1H236.5V284.8H220.8zM250.9 282.1H255.3V284.8H250.9zM220.8 284.2H232.7V286.9H220.8zM254.7 284.2H259.1V286.9H254.7zM266.0 284.2H270.4V286.9H266.0zM209.5 286.3H213.9V289.0H209.5zM250.9 286.3H259.1V289.0H250.9zM262.2 286.3H266.6V289.0H262.2zM209.5 288.4H213.9V291.1H209.5zM220.8 290.5H225.2V293.2H220.8zM228.3 290.5H232.7V293.2H228.3zM266.0 290.5H270.4V293.2H266.0zM213.3 292.6H217.6V295.3H213.3zM262.2 292.6H266.6V295.3H262.2zM235.9 294.7H240.2V297.4H235.9zM307.4 296.8H311.8V299.4H307.4zM277.3 303.0H281.7V305.7H277.3zM311.2 305.1H315.6V307.8H311.2zM269.8 307.2H277.9V309.9H269.8zM292.4 307.2H296.7V309.9H292.4zM303.7 307.2H308.0V309.9H303.7zM273.5 309.3H277.9V312.0H273.5zM292.4 309.3H296.7V312.0H292.4zM318.7 309.3H322.5V312.0H318.7zM269.8 311.4H274.1V314.1H269.8zM288.6 311.4H293.0V314.1H288.6zM288.6 313.5H293.0V316.2H288.6zM296.1 313.5H300.5V316.2H296.1zM303.7 317.7H308.0V320.4H303.7zM292.4 319.8H296.7V322.4H292.4zM296.1 321.9H300.5V324.5H296.1zM315.0 321.9H322.5V324.5H315.0zM269.8 323.9H274.1V326.6H269.8zM281.1 323.9H285.4V326.6H281.1zM307.4 326.0H311.8V328.7H307.4zM318.7 326.0H322.5V328.7H318.7zM307.4 328.1H311.8V330.8H307.4zM318.7 328.1H322.5V330.8H318.7zM277.3 330.2H281.7V332.9H277.3zM284.8 330.2H289.2V332.9H284.8zM292.4 330.2H296.7V332.9H292.4zM266.0 332.3H270.4V335.0H266.0zM303.7 334.4H308.0V337.1H303.7zM311.2 334.4H315.6V337.1H311.2zM307.4 336.5H311.8V339.2H307.4zM277.3 338.6H281.7V341.3H277.3zM269.8 340.7H274.1V343.4H269.8zM281.1 340.7H285.4V343.4H281.1zM292.4 342.8H296.7V345.5H292.4zM307.4 342.8H311.8V345.5H307.4zM277.3 346.9H281.7V349.6H277.3zM269.8 349.0H274.1V351.7H269.8zM292.4 349.0H296.7V351.7H292.4zM292.4 351.1H296.7V353.8H292.4zM273.5 353.2H277.9V355.9H273.5zM311.2 355.3H315.6V358.0H311.2zM277.3 357.4H281.7V359.5H277.3z"/><path fill="#c3d2d7" d="M250.9 234.0H255.3V236.7H250.9zM232.1 236.1H236.5V238.8H232.1zM235.9 242.4H240.2V245.1H235.9zM239.6 244.5H244.0V247.2H239.6zM266.0 246.6H270.4V249.2H266.0zM224.6 252.8H228.9V255.5H224.6zM239.6 252.8H247.8V255.5H239.6zM284.8 252.8H289.2V255.5H284.8zM247.2 254.9H251.5V257.6H247.2zM296.1 254.9H300.5V257.6H296.1zM209.5 257.0H213.9V259.7H209.5zM228.3 257.0H232.7V259.7H228.3zM235.9 257.0H240.2V259.7H235.9zM284.8 257.0H293.0V259.7H284.8zM235.9 263.3H240.2V266.0H235.9zM250.9 265.4H255.3V268.1H250.9zM262.2 265.4H266.6V268.1H262.2zM228.3 267.5H232.7V270.2H228.3zM266.0 267.5H270.4V270.2H266.0zM247.2 269.6H251.5V272.2H247.2zM262.2 269.6H270.4V272.2H262.2zM235.9 271.6H240.2V274.3H235.9zM247.2 273.7H251.5V276.4H247.2zM262.2 275.8H266.6V278.5H262.2zM254.7 277.9H262.8V280.6H254.7zM239.6 280.0H244.0V282.7H239.6zM262.2 280.0H266.6V282.7H262.2zM209.5 282.1H213.9V284.8H209.5zM235.9 282.1H240.2V284.8H235.9zM232.1 284.2H240.2V286.9H232.1zM258.5 284.2H262.8V286.9H258.5zM299.9 286.3H304.3V289.0H299.9zM213.3 288.4H217.6V291.1H213.3zM220.8 288.4H225.2V291.1H220.8zM243.4 288.4H247.8V291.1H243.4zM299.9 288.4H304.3V291.1H299.9zM239.6 290.5H244.0V293.2H239.6zM239.6 292.6H244.0V295.3H239.6zM311.2 292.6H315.6V295.3H311.2zM213.3 294.7H217.6V297.4H213.3zM239.6 294.7H244.0V297.4H239.6zM262.2 294.7H266.6V297.4H262.2zM303.7 296.8H308.0V299.4H303.7zM315.0 296.8H319.3V299.4H315.0zM273.5 298.8H277.9V301.5H273.5zM288.6 298.8H293.0V301.5H288.6zM311.2 300.9H315.6V303.6H311.2zM266.0 303.0H270.4V305.7H266.0zM281.1 303.0H285.4V305.7H281.1zM269.8 305.1H274.1V307.8H269.8zM281.1 309.3H285.4V312.0H281.1zM303.7 311.4H311.8V314.1H303.7zM315.0 311.4H319.3V314.1H315.0zM273.5 313.5H277.9V316.2H273.5zM281.1 313.5H285.4V316.2H281.1zM266.0 315.6H270.4V318.3H266.0zM303.7 315.6H308.0V318.3H303.7zM311.2 315.6H315.6V318.3H311.2zM292.4 317.7H300.5V320.4H292.4zM288.6 319.8H293.0V322.4H288.6zM303.7 319.8H308.0V322.4H303.7zM315.0 319.8H319.3V322.4H315.0zM292.4 321.9H296.7V324.5H292.4zM277.3 323.9H281.7V326.6H277.3zM307.4 323.9H311.8V326.6H307.4zM277.3 326.0H281.7V328.7H277.3zM288.6 326.0H293.0V328.7H288.6zM307.4 330.2H311.8V332.9H307.4zM315.0 332.3H319.3V335.0H315.0zM281.1 334.4H285.4V337.1H281.1zM315.0 334.4H319.3V337.1H315.0zM269.8 336.5H274.1V339.2H269.8zM281.1 336.5H285.4V339.2H281.1zM296.1 338.6H300.5V341.3H296.1zM307.4 338.6H311.8V341.3H307.4zM273.5 340.7H281.7V343.4H273.5zM281.1 342.8H285.4V345.5H281.1zM315.0 342.8H322.5V345.5H315.0zM269.8 346.9H274.1V349.6H269.8zM296.1 346.9H300.5V349.6H296.1zM318.7 346.9H322.5V349.6H318.7zM273.5 349.0H277.9V351.7H273.5zM303.7 349.0H308.0V351.7H303.7zM318.7 349.0H322.5V351.7H318.7zM288.6 351.1H293.0V353.8H288.6zM303.7 351.1H315.6V353.8H303.7zM303.7 353.2H311.8V355.9H303.7zM266.0 355.3H270.4V358.0H266.0zM296.1 355.3H300.5V358.0H296.1zM307.4 355.3H311.8V358.0H307.4zM284.8 357.4H289.2V359.5H284.8z"/><path fill="#b4c8d7" d="M254.7 234.0H259.1V236.7H254.7zM266.0 234.0H270.4V236.7H266.0zM239.6 236.1H247.8V238.8H239.6zM243.4 238.2H247.8V240.9H243.4zM266.0 240.3H270.4V243.0H266.0zM247.2 242.4H251.5V245.1H247.2zM243.4 244.5H247.8V247.2H243.4zM254.7 246.6H259.1V249.2H254.7zM250.9 248.6H255.3V251.3H250.9zM228.3 250.7H232.7V253.4H228.3zM254.7 250.7H259.1V253.4H254.7zM235.9 254.9H240.2V257.6H235.9zM239.6 257.0H244.0V259.7H239.6zM250.9 257.0H255.3V259.7H250.9zM239.6 261.2H244.0V263.9H239.6zM258.5 263.3H262.8V266.0H258.5zM243.4 269.6H247.8V272.2H243.4zM258.5 271.6H262.8V274.3H258.5zM258.5 280.0H262.8V282.7H258.5zM247.2 282.1H251.5V284.8H247.2zM258.5 286.3H262.8V289.0H258.5zM224.6 292.6H228.9V295.3H224.6zM232.1 292.6H236.5V295.3H232.1zM250.9 292.6H259.1V295.3H250.9zM311.2 296.8H315.6V299.4H311.2zM296.1 298.8H300.5V301.5H296.1zM318.7 303.0H322.5V305.7H318.7zM307.4 305.1H311.8V307.8H307.4zM315.0 305.1H322.5V307.8H315.0zM311.2 307.2H315.6V309.9H311.2zM273.5 311.4H285.4V314.1H273.5zM318.7 311.4H322.5V314.1H318.7zM307.4 313.5H311.8V316.2H307.4zM296.1 315.6H300.5V318.3H296.1zM273.5 317.7H281.7V320.4H273.5zM269.8 319.8H274.1V322.4H269.8zM281.1 319.8H285.4V322.4H281.1zM296.1 319.8H300.5V322.4H296.1zM266.0 323.9H270.4V326.6H266.0zM318.7 323.9H322.5V326.6H318.7zM273.5 326.0H277.9V328.7H273.5zM281.1 326.0H285.4V328.7H281.1zM318.7 332.3H322.5V335.0H318.7zM266.0 340.7H270.4V343.4H266.0zM288.6 340.7H293.0V343.4H288.6zM318.7 340.7H322.5V343.4H318.7zM296.1 342.8H300.5V345.5H296.1zM318.7 344.9H322.5V347.6H318.7zM266.0 346.9H270.4V349.6H266.0zM292.4 346.9H296.7V349.6H292.4zM273.5 355.3H277.9V358.0H273.5zM269.8 357.4H274.1V359.5H269.8zM296.1 357.4H300.5V359.5H296.1z"/><path fill="#dce1cd" d="M273.5 234.0H277.9V236.7H273.5zM288.6 234.0H293.0V236.7H288.6zM217.0 236.1H221.4V238.8H217.0zM269.8 236.1H274.1V238.8H269.8zM288.6 236.1H293.0V238.8H288.6zM311.2 236.1H315.6V238.8H311.2zM288.6 238.2H293.0V240.9H288.6zM307.4 242.4H311.8V245.1H307.4zM299.9 244.5H304.3V247.2H299.9zM220.8 246.6H225.2V249.2H220.8zM281.1 246.6H285.4V249.2H281.1zM269.8 248.6H274.1V251.3H269.8zM213.3 250.7H217.6V253.4H213.3zM220.8 250.7H225.2V253.4H220.8zM281.1 257.0H285.4V259.7H281.1zM273.5 259.1H277.9V261.8H273.5zM315.0 263.3H322.5V266.0H315.0zM220.8 269.6H225.2V272.2H220.8zM262.2 271.6H266.6V274.3H262.2zM228.3 273.7H232.7V276.4H228.3zM284.8 275.8H289.2V278.5H284.8zM209.5 277.9H213.9V280.6H209.5zM281.1 277.9H285.4V280.6H281.1zM217.0 280.0H221.4V282.7H217.0zM269.8 280.0H274.1V282.7H269.8zM269.8 282.1H277.9V284.8H269.8zM303.7 282.1H308.0V284.8H303.7zM292.4 286.3H296.7V289.0H292.4zM292.4 288.4H300.5V291.1H292.4zM296.1 290.5H300.5V293.2H296.1zM318.7 290.5H322.5V293.2H318.7zM243.4 296.8H247.8V299.4H243.4zM284.8 303.0H289.2V305.7H284.8zM288.6 305.1H293.0V307.8H288.6zM243.4 311.4H251.5V314.1H243.4zM243.4 315.6H247.8V318.3H243.4zM254.7 315.6H259.1V318.3H254.7zM299.9 315.6H304.3V318.3H299.9zM224.6 319.8H228.9V322.4H224.6zM299.9 326.0H304.3V328.7H299.9zM217.0 328.1H221.4V330.8H217.0zM228.3 334.4H232.7V337.1H228.3zM235.9 334.4H240.2V337.1H235.9zM258.5 334.4H262.8V337.1H258.5zM228.3 336.5H232.7V339.2H228.3zM247.2 336.5H251.5V339.2H247.2zM243.4 340.7H247.8V343.4H243.4zM220.8 342.8H225.2V345.5H220.8zM258.5 342.8H262.8V345.5H258.5zM224.6 344.9H228.9V347.6H224.6zM213.3 346.9H217.6V349.6H213.3zM217.0 351.1H221.4V353.8H217.0zM299.9 351.1H304.3V353.8H299.9zM299.9 353.2H304.3V355.9H299.9zM315.0 353.2H319.3V355.9H315.0z"/><path fill="#e6e1c3" d="M281.1 234.0H285.4V236.7H281.1zM299.9 234.0H304.3V236.7H299.9zM213.3 236.1H217.6V238.8H213.3zM284.8 236.1H289.2V238.8H284.8zM318.7 236.1H322.5V238.8H318.7zM232.1 242.4H236.5V245.1H232.1zM299.9 246.6H304.3V249.2H299.9zM224.6 248.6H228.9V251.3H224.6zM273.5 248.6H277.9V251.3H273.5zM209.5 252.8H213.9V255.5H209.5zM277.3 252.8H281.7V255.5H277.3zM269.8 257.0H277.9V259.7H269.8zM269.8 259.1H274.1V261.8H269.8zM299.9 259.1H304.3V261.8H299.9zM307.4 259.1H311.8V261.8H307.4zM284.8 265.4H289.2V268.1H284.8zM315.0 265.4H322.5V268.1H315.0zM318.7 267.5H322.5V270.2H318.7zM284.8 271.6H300.5V274.3H284.8zM277.3 273.7H281.7V276.4H277.3zM277.3 275.8H281.7V278.5H277.3zM288.6 275.8H293.0V278.5H288.6zM277.3 277.9H281.7V280.6H277.3zM284.8 277.9H289.2V280.6H284.8zM311.2 277.9H315.6V280.6H311.2zM232.1 280.0H236.5V282.7H232.1zM315.0 280.0H319.3V282.7H315.0zM281.1 282.1H285.4V284.8H281.1zM318.7 284.2H322.5V286.9H318.7zM318.7 286.3H322.5V289.0H318.7zM288.6 288.4H293.0V291.1H288.6zM281.1 292.6H285.4V295.3H281.1zM281.1 294.7H289.2V297.4H281.1zM228.3 296.8H232.7V299.4H228.3zM250.9 296.8H255.3V299.4H250.9zM232.1 298.8H236.5V301.5H232.1zM239.6 298.8H244.0V301.5H239.6zM254.7 298.8H259.1V301.5H254.7zM299.9 298.8H304.3V301.5H299.9zM228.3 300.9H236.5V303.6H228.3zM250.9 303.0H255.3V305.7H250.9zM258.5 305.1H262.8V307.8H258.5zM213.3 307.2H217.6V309.9H213.3zM239.6 307.2H244.0V309.9H239.6zM254.7 307.2H259.1V309.9H254.7zM213.3 311.4H217.6V314.1H213.3zM235.9 311.4H240.2V314.1H235.9zM232.1 313.5H236.5V316.2H232.1zM239.6 313.5H247.8V316.2H239.6zM258.5 313.5H262.8V316.2H258.5zM217.0 315.6H225.2V318.3H217.0zM232.1 315.6H236.5V318.3H232.1zM243.4 317.7H247.8V320.4H243.4zM262.2 317.7H266.6V320.4H262.2zM262.2 319.8H266.6V322.4H262.2zM217.0 321.9H221.4V324.5H217.0zM250.9 321.9H255.3V324.5H250.9zM213.3 323.9H217.6V326.6H213.3zM239.6 323.9H244.0V326.6H239.6zM258.5 323.9H262.8V326.6H258.5zM254.7 326.0H259.1V328.7H254.7zM250.9 328.1H255.3V330.8H250.9zM209.5 330.2H213.9V332.9H209.5zM217.0 330.2H221.4V332.9H217.0zM235.9 330.2H247.8V332.9H235.9zM258.5 330.2H266.6V332.9H258.5zM243.4 334.4H247.8V337.1H243.4zM250.9 334.4H255.3V337.1H250.9zM262.2 334.4H266.6V337.1H262.2zM224.6 336.5H228.9V339.2H224.6zM243.4 338.6H247.8V341.3H243.4zM220.8 340.7H225.2V343.4H220.8zM232.1 340.7H236.5V343.4H232.1zM254.7 340.7H259.1V343.4H254.7zM262.2 340.7H266.6V343.4H262.2zM299.9 340.7H304.3V343.4H299.9zM235.9 342.8H240.2V345.5H235.9zM247.2 342.8H251.5V345.5H247.2zM217.0 344.9H221.4V347.6H217.0zM250.9 344.9H255.3V347.6H250.9zM228.3 346.9H232.7V349.6H228.3zM220.8 349.0H225.2V351.7H220.8zM235.9 349.0H240.2V351.7H235.9zM247.2 349.0H251.5V351.7H247.2zM224.6 351.1H228.9V353.8H224.6zM235.9 351.1H240.2V353.8H235.9zM235.9 353.2H240.2V355.9H235.9zM254.7 353.2H259.1V355.9H254.7zM262.2 355.3H266.6V358.0H262.2zM232.1 357.4H236.5V359.5H232.1z"/><path fill="#ebe6be" d="M292.4 234.0H296.7V236.7H292.4zM315.0 234.0H319.3V236.7H315.0zM281.1 236.1H285.4V238.8H281.1zM303.7 236.1H308.0V238.8H303.7zM269.8 238.2H274.1V240.9H269.8zM277.3 238.2H281.7V240.9H277.3zM299.9 238.2H304.3V240.9H299.9zM307.4 238.2H311.8V240.9H307.4zM224.6 240.3H228.9V243.0H224.6zM277.3 242.4H281.7V245.1H277.3zM303.7 244.5H308.0V247.2H303.7zM307.4 248.6H311.8V251.3H307.4zM281.1 250.7H285.4V253.4H281.1zM281.1 252.8H285.4V255.5H281.1zM269.8 261.2H274.1V263.9H269.8zM299.9 261.2H304.3V263.9H299.9zM311.2 261.2H315.6V263.9H311.2zM269.8 263.3H277.9V266.0H269.8zM281.1 263.3H285.4V266.0H281.1zM288.6 263.3H293.0V266.0H288.6zM299.9 263.3H311.8V266.0H299.9zM281.1 267.5H285.4V270.2H281.1zM296.1 267.5H300.5V270.2H296.1zM311.2 267.5H315.6V270.2H311.2zM273.5 269.6H285.4V272.2H273.5zM288.6 269.6H296.7V272.2H288.6zM311.2 269.6H315.6V272.2H311.2zM273.5 271.6H277.9V274.3H273.5zM315.0 271.6H319.3V274.3H315.0zM296.1 273.7H300.5V276.4H296.1zM318.7 273.7H322.5V276.4H318.7zM311.2 275.8H315.6V278.5H311.2zM213.3 277.9H217.6V280.6H213.3zM318.7 277.9H322.5V280.6H318.7zM292.4 280.0H296.7V282.7H292.4zM311.2 280.0H315.6V282.7H311.2zM288.6 282.1H293.0V284.8H288.6zM311.2 282.1H315.6V284.8H311.2zM273.5 286.3H281.7V289.0H273.5zM284.8 286.3H289.2V289.0H284.8zM311.2 286.3H319.3V289.0H311.2zM277.3 288.4H281.7V291.1H277.3zM315.0 288.4H319.3V291.1H315.0zM292.4 290.5H296.7V293.2H292.4zM303.7 290.5H308.0V293.2H303.7zM273.5 292.6H277.9V295.3H273.5zM318.7 292.6H322.5V295.3H318.7zM296.1 294.7H300.5V297.4H296.1zM311.2 294.7H315.6V297.4H311.2zM224.6 296.8H228.9V299.4H224.6zM213.3 298.8H217.6V301.5H213.3zM228.3 298.8H232.7V301.5H228.3zM247.2 298.8H251.5V301.5H247.2zM258.5 298.8H266.6V301.5H258.5zM250.9 300.9H255.3V303.6H250.9zM217.0 303.0H221.4V305.7H217.0zM243.4 303.0H247.8V305.7H243.4zM243.4 309.3H247.8V312.0H243.4zM262.2 309.3H266.6V312.0H262.2zM239.6 311.4H244.0V314.1H239.6zM217.0 313.5H221.4V316.2H217.0zM247.2 313.5H251.5V316.2H247.2zM254.7 313.5H259.1V316.2H254.7zM209.5 315.6H213.9V318.3H209.5zM235.9 315.6H240.2V318.3H235.9zM247.2 315.6H251.5V318.3H247.2zM243.4 319.8H247.8V322.4H243.4zM254.7 319.8H259.1V322.4H254.7zM217.0 323.9H221.4V326.6H217.0zM224.6 323.9H232.7V326.6H224.6zM209.5 326.0H217.6V328.7H209.5zM232.1 326.0H236.5V328.7H232.1zM258.5 326.0H262.8V328.7H258.5zM209.5 328.1H213.9V330.8H209.5zM224.6 328.1H228.9V330.8H224.6zM213.3 330.2H217.6V332.9H213.3zM213.3 332.3H217.6V335.0H213.3zM213.3 334.4H225.2V337.1H213.3zM239.6 336.5H244.0V339.2H239.6zM250.9 336.5H255.3V339.2H250.9zM213.3 338.6H221.4V341.3H213.3zM239.6 338.6H244.0V341.3H239.6zM254.7 338.6H259.1V341.3H254.7zM262.2 338.6H266.6V341.3H262.2zM299.9 338.6H304.3V341.3H299.9zM228.3 342.8H236.5V345.5H228.3zM220.8 344.9H225.2V347.6H220.8zM254.7 344.9H259.1V347.6H254.7zM217.0 346.9H225.2V349.6H217.0zM235.9 346.9H240.2V349.6H235.9zM243.4 346.9H247.8V349.6H243.4zM250.9 346.9H255.3V349.6H250.9zM209.5 349.0H213.9V351.7H209.5zM228.3 349.0H236.5V351.7H228.3zM250.9 349.0H255.3V351.7H250.9zM262.2 349.0H266.6V351.7H262.2zM217.0 353.2H225.2V355.9H217.0zM232.1 353.2H236.5V355.9H232.1zM220.8 355.3H228.9V358.0H220.8zM299.9 355.3H304.3V358.0H299.9zM224.6 357.4H232.7V359.5H224.6zM262.2 357.4H266.6V359.5H262.2z"/><path fill="#e1e1c3" d="M303.7 234.0H308.0V236.7H303.7zM311.2 234.0H315.6V236.7H311.2zM273.5 238.2H277.9V240.9H273.5zM281.1 240.3H285.4V243.0H281.1zM303.7 242.4H308.0V245.1H303.7zM273.5 250.7H277.9V253.4H273.5zM299.9 265.4H304.3V268.1H299.9zM288.6 267.5H293.0V270.2H288.6zM292.4 273.7H296.7V276.4H292.4zM284.8 284.2H289.2V286.9H284.8zM292.4 284.2H296.7V286.9H292.4zM315.0 284.2H319.3V286.9H315.0zM269.8 286.3H274.1V289.0H269.8zM288.6 292.6H293.0V295.3H288.6zM269.8 294.7H274.1V297.4H269.8zM292.4 294.7H296.7V297.4H292.4zM217.0 298.8H221.4V301.5H217.0zM284.8 298.8H289.2V301.5H284.8zM235.9 305.1H240.2V307.8H235.9zM250.9 305.1H259.1V307.8H250.9zM224.6 307.2H228.9V309.9H224.6zM243.4 307.2H247.8V309.9H243.4zM250.9 313.5H255.3V316.2H250.9zM258.5 317.7H262.8V320.4H258.5zM299.9 317.7H304.3V320.4H299.9zM217.0 319.8H221.4V322.4H217.0zM220.8 321.9H225.2V324.5H220.8zM254.7 321.9H259.1V324.5H254.7zM220.8 323.9H225.2V326.6H220.8zM262.2 323.9H266.6V326.6H262.2zM232.1 328.1H236.5V330.8H232.1zM247.2 328.1H251.5V330.8H247.2zM262.2 328.1H266.6V330.8H262.2zM228.3 330.2H232.7V332.9H228.3zM209.5 334.4H213.9V337.1H209.5zM262.2 336.5H266.6V339.2H262.2zM250.9 338.6H255.3V341.3H250.9zM235.9 344.9H240.2V347.6H235.9zM247.2 344.9H251.5V347.6H247.2zM299.9 346.9H304.3V349.6H299.9zM239.6 349.0H244.0V351.7H239.6zM254.7 349.0H259.1V351.7H254.7zM224.6 353.2H228.9V355.9H224.6zM288.6 355.3H293.0V358.0H288.6zM235.9 357.4H240.2V359.5H235.9z"/><path fill="#dce1c8" d="M307.4 234.0H311.8V236.7H307.4zM292.4 236.1H296.7V238.8H292.4zM318.7 238.2H322.5V240.9H318.7zM228.3 240.3H232.7V243.0H228.3zM303.7 240.3H308.0V243.0H303.7zM318.7 240.3H322.5V243.0H318.7zM228.3 242.4H232.7V245.1H228.3zM311.2 244.5H315.6V247.2H311.2zM273.5 246.6H277.9V249.2H273.5zM220.8 248.6H225.2V251.3H220.8zM292.4 248.6H296.7V251.3H292.4zM217.0 250.7H221.4V253.4H217.0zM232.1 257.0H236.5V259.7H232.1zM303.7 259.1H308.0V261.8H303.7zM311.2 259.1H315.6V261.8H311.2zM277.3 265.4H281.7V268.1H277.3zM217.0 269.6H221.4V272.2H217.0zM281.1 273.7H285.4V276.4H281.1zM273.5 277.9H277.9V280.6H273.5zM284.8 280.0H289.2V282.7H284.8zM315.0 282.1H319.3V284.8H315.0zM269.8 284.2H274.1V286.9H269.8zM296.1 284.2H300.5V286.9H296.1zM296.1 286.3H300.5V289.0H296.1zM288.6 294.7H293.0V297.4H288.6zM235.9 298.8H240.2V301.5H235.9zM209.5 305.1H217.6V307.8H209.5zM228.3 305.1H232.7V307.8H228.3zM217.0 307.2H221.4V309.9H217.0zM228.3 307.2H240.2V309.9H228.3zM220.8 309.3H225.2V312.0H220.8zM250.9 311.4H255.3V314.1H250.9zM213.3 313.5H217.6V316.2H213.3zM299.9 313.5H304.3V316.2H299.9zM228.3 315.6H232.7V318.3H228.3zM220.8 317.7H225.2V320.4H220.8zM220.8 326.0H232.7V328.7H220.8zM213.3 328.1H217.6V330.8H213.3zM228.3 328.1H232.7V330.8H228.3zM235.9 328.1H240.2V330.8H235.9zM232.1 330.2H236.5V332.9H232.1zM247.2 330.2H251.5V332.9H247.2zM232.1 332.3H236.5V335.0H232.1zM247.2 332.3H251.5V335.0H247.2zM232.1 334.4H236.5V337.1H232.1zM247.2 334.4H251.5V337.1H247.2zM258.5 336.5H262.8V339.2H258.5zM239.6 340.7H244.0V343.4H239.6zM262.2 342.8H266.6V345.5H262.2zM232.1 344.9H236.5V347.6H232.1zM262.2 344.9H266.6V347.6H262.2zM209.5 346.9H213.9V349.6H209.5zM220.8 351.1H225.2V353.8H220.8zM258.5 353.2H262.8V355.9H258.5zM254.7 357.4H259.1V359.5H254.7z"/><path fill="#aac3dc" d="M250.9 236.1H255.3V238.8H250.9zM235.9 238.2H240.2V240.9H235.9zM239.6 240.3H244.0V243.0H239.6zM243.4 242.4H247.8V245.1H243.4zM243.4 246.6H247.8V249.2H243.4zM235.9 250.7H240.2V253.4H235.9zM266.0 252.8H270.4V255.5H266.0zM247.2 259.1H251.5V261.8H247.2zM254.7 259.1H262.8V261.8H254.7zM239.6 263.3H244.0V266.0H239.6zM266.0 263.3H270.4V266.0H266.0zM243.4 265.4H247.8V268.1H243.4zM299.9 269.6H304.3V272.2H299.9zM220.8 292.6H225.2V295.3H220.8zM247.2 292.6H251.5V295.3H247.2zM266.0 292.6H270.4V295.3H266.0zM224.6 294.7H228.9V297.4H224.6zM258.5 294.7H262.8V297.4H258.5zM307.4 303.0H311.8V305.7H307.4zM281.1 305.1H285.4V307.8H281.1zM296.1 311.4H300.5V314.1H296.1zM269.8 317.7H274.1V320.4H269.8zM266.0 321.9H270.4V324.5H266.0zM296.1 328.1H300.5V330.8H296.1zM266.0 330.2H270.4V332.9H266.0zM292.4 340.7H296.7V343.4H292.4zM266.0 344.9H270.4V347.6H266.0zM307.4 344.9H311.8V347.6H307.4z"/><path fill="#87b4d7" d="M266.0 236.1H270.4V238.8H266.0zM273.5 315.6H277.9V318.3H273.5zM266.0 326.0H270.4V328.7H266.0zM273.5 334.4H277.9V337.1H273.5z"/><path fill="#e6e1be" d="M273.5 236.1H277.9V238.8H273.5zM307.4 244.5H311.8V247.2H307.4zM281.1 248.6H285.4V251.3H281.1zM307.4 250.7H311.8V253.4H307.4zM296.1 269.6H300.5V272.2H296.1zM277.3 271.6H281.7V274.3H277.3zM217.0 275.8H221.4V278.5H217.0zM288.6 277.9H293.0V280.6H288.6zM281.1 286.3H285.4V289.0H281.1zM273.5 290.5H277.9V293.2H273.5zM307.4 294.7H311.8V297.4H307.4zM232.1 303.0H236.5V305.7H232.1zM262.2 303.0H266.6V305.7H262.2zM232.1 305.1H236.5V307.8H232.1zM220.8 311.4H225.2V314.1H220.8zM299.9 323.9H304.3V326.6H299.9zM254.7 334.4H259.1V337.1H254.7zM217.0 336.5H221.4V339.2H217.0zM254.7 336.5H259.1V339.2H254.7zM209.5 338.6H213.9V341.3H209.5zM217.0 340.7H221.4V343.4H217.0zM235.9 340.7H240.2V343.4H235.9zM258.5 340.7H262.8V343.4H258.5zM258.5 344.9H262.8V347.6H258.5zM224.6 346.9H228.9V349.6H224.6zM239.6 353.2H244.0V355.9H239.6zM243.4 355.3H247.8V358.0H243.4z"/><path fill="#f0dcaf" d="M307.4 236.1H311.8V238.8H307.4zM277.3 250.7H281.7V253.4H277.3zM307.4 254.9H311.8V257.6H307.4zM273.5 261.2H281.7V263.9H273.5zM277.3 284.2H281.7V286.9H277.3zM277.3 292.6H281.7V295.3H277.3zM213.3 296.8H217.6V299.4H213.3zM228.3 303.0H232.7V305.7H228.3zM235.9 303.0H240.2V305.7H235.9zM209.5 309.3H213.9V312.0H209.5zM228.3 311.4H232.7V314.1H228.3zM258.5 311.4H262.8V314.1H258.5zM220.8 313.5H225.2V316.2H220.8zM209.5 317.7H221.4V320.4H209.5zM232.1 317.7H244.0V320.4H232.1zM228.3 321.9H232.7V324.5H228.3zM243.4 323.9H247.8V326.6H243.4zM254.7 323.9H259.1V326.6H254.7zM258.5 328.1H262.8V330.8H258.5zM239.6 334.4H244.0V337.1H239.6zM220.8 338.6H225.2V341.3H220.8zM254.7 346.9H259.1V349.6H254.7zM262.2 346.9H266.6V349.6H262.2zM209.5 351.1H213.9V353.8H209.5zM254.7 351.1H259.1V353.8H254.7zM262.2 353.2H266.6V355.9H262.2zM239.6 355.3H244.0V358.0H239.6zM254.7 355.3H259.1V358.0H254.7zM213.3 357.4H217.6V359.5H213.3z"/><path fill="#d7dccd" d="M315.0 236.1H319.3V238.8H315.0zM224.6 238.2H228.9V240.9H224.6zM315.0 238.2H319.3V240.9H315.0zM292.4 242.4H296.7V245.1H292.4zM209.5 244.5H213.9V247.2H209.5zM220.8 244.5H225.2V247.2H220.8zM232.1 244.5H236.5V247.2H232.1zM209.5 248.6H213.9V251.3H209.5zM299.9 250.7H304.3V253.4H299.9zM220.8 252.8H225.2V255.5H220.8zM296.1 252.8H300.5V255.5H296.1zM209.5 254.9H213.9V257.6H209.5zM220.8 254.9H225.2V257.6H220.8zM288.6 254.9H293.0V257.6H288.6zM299.9 254.9H304.3V257.6H299.9zM220.8 257.0H225.2V259.7H220.8zM277.3 257.0H281.7V259.7H277.3zM213.3 261.2H217.6V263.9H213.3zM303.7 265.4H308.0V268.1H303.7zM220.8 267.5H225.2V270.2H220.8zM213.3 269.6H217.6V272.2H213.3zM224.6 271.6H228.9V274.3H224.6zM273.5 273.7H277.9V276.4H273.5zM303.7 275.8H308.0V278.5H303.7zM250.9 277.9H255.3V280.6H250.9zM288.6 286.3H293.0V289.0H288.6zM296.1 292.6H300.5V295.3H296.1zM217.0 296.8H221.4V299.4H217.0zM224.6 298.8H228.9V301.5H224.6zM247.2 309.3H251.5V312.0H247.2zM258.5 309.3H262.8V312.0H258.5zM299.9 309.3H304.3V312.0H299.9zM217.0 311.4H221.4V314.1H217.0zM258.5 315.6H262.8V318.3H258.5zM247.2 317.7H251.5V320.4H247.2zM284.8 321.9H289.2V324.5H284.8zM239.6 326.0H244.0V328.7H239.6zM262.2 326.0H266.6V328.7H262.2zM288.6 330.2H293.0V332.9H288.6zM258.5 332.3H262.8V335.0H258.5zM303.7 338.6H308.0V341.3H303.7zM239.6 344.9H244.0V347.6H239.6zM299.9 344.9H304.3V347.6H299.9zM284.8 355.3H289.2V358.0H284.8zM250.9 357.4H255.3V359.5H250.9z"/><path fill="#cdd7d2" d="M228.3 238.2H232.7V240.9H228.3zM292.4 238.2H296.7V240.9H292.4zM247.2 244.5H251.5V247.2H247.2zM232.1 250.7H236.5V253.4H232.1zM292.4 250.7H296.7V253.4H292.4zM232.1 252.8H236.5V255.5H232.1zM224.6 254.9H228.9V257.6H224.6zM224.6 259.1H228.9V261.8H224.6zM209.5 263.3H213.9V266.0H209.5zM224.6 263.3H228.9V266.0H224.6zM209.5 267.5H213.9V270.2H209.5zM235.9 267.5H244.0V270.2H235.9zM209.5 269.6H213.9V272.2H209.5zM213.3 271.6H225.2V274.3H213.3zM266.0 271.6H270.4V274.3H266.0zM303.7 271.6H308.0V274.3H303.7zM217.0 273.7H221.4V276.4H217.0zM239.6 273.7H244.0V276.4H239.6zM258.5 273.7H262.8V276.4H258.5zM213.3 275.8H217.6V278.5H213.3zM243.4 277.9H251.5V280.6H243.4zM262.2 277.9H266.6V280.6H262.2zM243.4 280.0H247.8V282.7H243.4zM239.6 284.2H244.0V286.9H239.6zM273.5 288.4H277.9V291.1H273.5zM243.4 290.5H251.5V293.2H243.4zM284.8 292.6H289.2V295.3H284.8zM235.9 296.8H240.2V299.4H235.9zM247.2 296.8H251.5V299.4H247.2zM220.8 298.8H225.2V301.5H220.8zM258.5 300.9H262.8V303.6H258.5zM269.8 300.9H274.1V303.6H269.8zM284.8 305.1H289.2V307.8H284.8zM315.0 307.2H319.3V309.9H315.0zM254.7 317.7H259.1V320.4H254.7zM318.7 317.7H322.5V320.4H318.7zM288.6 321.9H293.0V324.5H288.6zM315.0 328.1H319.3V330.8H315.0zM303.7 330.2H308.0V332.9H303.7zM315.0 330.2H319.3V332.9H315.0zM284.8 334.4H289.2V337.1H284.8zM318.7 334.4H322.5V337.1H318.7zM288.6 336.5H293.0V339.2H288.6zM288.6 338.6H296.7V341.3H288.6zM315.0 338.6H322.5V341.3H315.0zM213.3 340.7H217.6V343.4H213.3zM288.6 342.8H293.0V345.5H288.6zM311.2 349.0H319.3V351.7H311.2zM284.8 351.1H289.2V353.8H284.8zM315.0 351.1H319.3V353.8H315.0zM284.8 353.2H289.2V355.9H284.8zM303.7 355.3H308.0V358.0H303.7zM307.4 357.4H311.8V359.5H307.4z"/><path fill="#bed2d7" d="M250.9 238.2H255.3V240.9H250.9zM254.7 240.3H259.1V243.0H254.7zM239.6 242.4H244.0V245.1H239.6zM288.6 244.5H293.0V247.2H288.6zM262.2 246.6H266.6V249.2H262.2zM284.8 246.6H293.0V249.2H284.8zM243.4 248.6H247.8V251.3H243.4zM247.2 252.8H251.5V255.5H247.2zM254.7 257.0H259.1V259.7H254.7zM262.2 259.1H266.6V261.8H262.2zM254.7 265.4H259.1V268.1H254.7zM232.1 271.6H236.5V274.3H232.1zM250.9 271.6H255.3V274.3H250.9zM303.7 273.7H308.0V276.4H303.7zM209.5 284.2H213.9V286.9H209.5zM243.4 284.2H247.8V286.9H243.4zM228.3 286.3H232.7V289.0H228.3zM243.4 286.3H251.5V289.0H243.4zM217.0 288.4H221.4V291.1H217.0zM235.9 292.6H240.2V295.3H235.9zM243.4 294.7H247.8V297.4H243.4zM281.1 296.8H285.4V299.4H281.1zM292.4 298.8H296.7V301.5H292.4zM307.4 298.8H311.8V301.5H307.4zM315.0 298.8H319.3V301.5H315.0zM303.7 303.0H308.0V305.7H303.7zM269.8 309.3H274.1V312.0H269.8zM288.6 309.3H293.0V312.0H288.6zM307.4 309.3H311.8V312.0H307.4zM284.8 313.5H289.2V316.2H284.8zM318.7 313.5H322.5V316.2H318.7zM281.1 317.7H285.4V320.4H281.1zM307.4 319.8H311.8V322.4H307.4zM277.3 321.9H281.7V324.5H277.3zM311.2 326.0H319.3V328.7H311.2zM299.9 328.1H304.3V330.8H299.9zM277.3 334.4H281.7V337.1H277.3zM273.5 336.5H277.9V339.2H273.5zM273.5 342.8H277.9V345.5H273.5zM284.8 344.9H289.2V347.6H284.8zM273.5 346.9H277.9V349.6H273.5zM273.5 351.1H277.9V353.8H273.5zM315.0 355.3H319.3V358.0H315.0z"/><path fill="#f0e6b9" d="M281.1 238.2H285.4V240.9H281.1zM303.7 238.2H308.0V240.9H303.7zM299.9 242.4H304.3V245.1H299.9zM303.7 248.6H308.0V251.3H303.7zM311.2 250.7H315.6V253.4H311.2zM299.9 252.8H308.0V255.5H299.9zM311.2 252.8H315.6V255.5H311.2zM281.1 254.9H285.4V257.6H281.1zM311.2 254.9H315.6V257.6H311.2zM281.1 261.2H293.0V263.9H281.1zM315.0 261.2H319.3V263.9H315.0zM277.3 267.5H281.7V270.2H277.3zM292.4 267.5H296.7V270.2H292.4zM269.8 269.6H274.1V272.2H269.8zM311.2 271.6H315.6V274.3H311.2zM318.7 271.6H322.5V274.3H318.7zM269.8 275.8H277.9V278.5H269.8zM281.1 275.8H285.4V278.5H281.1zM296.1 275.8H300.5V278.5H296.1zM296.1 280.0H300.5V282.7H296.1zM277.3 282.1H281.7V284.8H277.3zM288.6 284.2H293.0V286.9H288.6zM318.7 294.7H322.5V297.4H318.7zM209.5 298.8H213.9V301.5H209.5zM243.4 298.8H247.8V301.5H243.4zM235.9 300.9H240.2V303.6H235.9zM254.7 303.0H262.8V305.7H254.7zM213.3 309.3H217.6V312.0H213.3zM232.1 309.3H236.5V312.0H232.1zM262.2 313.5H266.6V316.2H262.2zM247.2 319.8H251.5V322.4H247.2zM224.6 321.9H228.9V324.5H224.6zM217.0 326.0H221.4V328.7H217.0zM235.9 326.0H240.2V328.7H235.9zM250.9 326.0H255.3V328.7H250.9zM220.8 330.2H225.2V332.9H220.8zM250.9 330.2H259.1V332.9H250.9zM250.9 332.3H255.3V335.0H250.9zM247.2 338.6H251.5V341.3H247.2zM224.6 340.7H228.9V343.4H224.6zM250.9 340.7H255.3V343.4H250.9zM224.6 342.8H228.9V345.5H224.6zM243.4 342.8H247.8V345.5H243.4zM250.9 342.8H259.1V345.5H250.9zM247.2 346.9H251.5V349.6H247.2zM258.5 346.9H262.8V349.6H258.5zM213.3 349.0H217.6V351.7H213.3zM224.6 349.0H228.9V351.7H224.6zM235.9 355.3H240.2V358.0H235.9zM250.9 355.3H255.3V358.0H250.9zM220.8 357.4H225.2V359.5H220.8z"/><path fill="#a0bedc" d="M262.2 240.3H266.6V243.0H262.2zM277.3 305.1H281.7V307.8H277.3z"/><path fill="#f0d7a5" d="M269.8 240.3H274.1V243.0H269.8zM281.1 244.5H285.4V247.2H281.1zM318.7 261.2H322.5V263.9H318.7z"/><path fill="#f0e1b4" d="M273.5 240.3H277.9V243.0H273.5zM307.4 240.3H315.6V243.0H307.4zM303.7 246.6H308.0V249.2H303.7zM311.2 248.6H315.6V251.3H311.2zM307.4 252.8H311.8V255.5H307.4zM318.7 257.0H322.5V259.7H318.7zM292.4 261.2H296.7V263.9H292.4zM292.4 263.3H300.5V266.0H292.4zM311.2 263.3H315.6V266.0H311.2zM284.8 267.5H289.2V270.2H284.8zM318.7 269.6H322.5V272.2H318.7zM311.2 273.7H315.6V276.4H311.2zM277.3 280.0H285.4V282.7H277.3zM284.8 282.1H289.2V284.8H284.8zM292.4 292.6H296.7V295.3H292.4zM277.3 294.7H281.7V297.4H277.3zM315.0 294.7H319.3V297.4H315.0zM235.9 309.3H240.2V312.0H235.9zM224.6 311.4H228.9V314.1H224.6zM262.2 311.4H266.6V314.1H262.2zM228.3 313.5H232.7V316.2H228.3zM235.9 313.5H240.2V316.2H235.9zM213.3 315.6H217.6V318.3H213.3zM250.9 315.6H255.3V318.3H250.9zM235.9 319.8H244.0V322.4H235.9zM224.6 330.2H228.9V332.9H224.6zM228.3 332.3H232.7V335.0H228.3zM213.3 336.5H217.6V339.2H213.3zM258.5 349.0H262.8V351.7H258.5zM213.3 351.1H217.6V353.8H213.3zM239.6 351.1H247.8V353.8H239.6zM250.9 351.1H255.3V353.8H250.9zM258.5 351.1H262.8V353.8H258.5zM213.3 353.2H217.6V355.9H213.3zM209.5 355.3H213.9V358.0H209.5zM232.1 355.3H236.5V358.0H232.1zM209.5 357.4H213.9V359.5H209.5z"/><path fill="#f0e1b9" d="M277.3 240.3H281.7V243.0H277.3zM315.0 242.4H319.3V245.1H315.0zM277.3 254.9H281.7V257.6H277.3zM284.8 263.3H289.2V266.0H284.8zM273.5 267.5H277.9V270.2H273.5zM315.0 267.5H319.3V270.2H315.0zM315.0 269.6H319.3V272.2H315.0zM315.0 273.7H319.3V276.4H315.0zM315.0 277.9H319.3V280.6H315.0zM273.5 280.0H277.9V282.7H273.5zM250.9 298.8H255.3V301.5H250.9zM224.6 305.1H228.9V307.8H224.6zM209.5 307.2H213.9V309.9H209.5zM224.6 315.6H228.9V318.3H224.6zM235.9 321.9H240.2V324.5H235.9zM258.5 338.6H262.8V341.3H258.5zM217.0 357.4H221.4V359.5H217.0z"/><path fill="#b4cdd7" d="M284.8 240.3H289.2V243.0H284.8zM250.9 242.4H255.3V245.1H250.9zM254.7 248.6H259.1V251.3H254.7zM239.6 282.1H244.0V284.8H239.6zM254.7 288.4H259.1V291.1H254.7zM232.1 290.5H236.5V293.2H232.1zM228.3 292.6H232.7V295.3H228.3zM243.4 292.6H247.8V295.3H243.4zM303.7 305.1H308.0V307.8H303.7zM266.0 311.4H270.4V314.1H266.0zM281.1 321.9H285.4V324.5H281.1zM269.8 326.0H274.1V328.7H269.8zM281.1 338.6H285.4V341.3H281.1zM296.1 353.2H300.5V355.9H296.1z"/><path fill="#becdd7" d="M288.6 240.3H293.0V243.0H288.6zM258.5 248.6H262.8V251.3H258.5zM266.0 250.7H270.4V253.4H266.0zM296.1 250.7H300.5V253.4H296.1zM250.9 252.8H255.3V255.5H250.9zM243.4 254.9H247.8V257.6H243.4zM296.1 257.0H300.5V259.7H296.1zM266.0 259.1H270.4V261.8H266.0zM217.0 263.3H221.4V266.0H217.0zM239.6 269.6H244.0V272.2H239.6zM247.2 275.8H255.3V278.5H247.2zM243.4 282.1H247.8V284.8H243.4zM254.7 282.1H262.8V284.8H254.7zM235.9 286.3H244.0V289.0H235.9zM239.6 288.4H244.0V291.1H239.6zM254.7 290.5H259.1V293.2H254.7zM262.2 290.5H266.6V293.2H262.2zM228.3 294.7H232.7V297.4H228.3zM250.9 294.7H259.1V297.4H250.9zM277.3 296.8H281.7V299.4H277.3zM318.7 296.8H322.5V299.4H318.7zM303.7 298.8H308.0V301.5H303.7zM281.1 300.9H285.4V303.6H281.1zM303.7 309.3H308.0V312.0H303.7zM284.8 311.4H289.2V314.1H284.8zM307.4 315.6H311.8V318.3H307.4zM284.8 319.8H289.2V322.4H284.8zM292.4 323.9H296.7V326.6H292.4zM284.8 328.1H289.2V330.8H284.8zM284.8 332.3H289.2V335.0H284.8zM307.4 332.3H315.6V335.0H307.4zM292.4 334.4H296.7V337.1H292.4zM307.4 334.4H311.8V337.1H307.4zM303.7 342.8H308.0V345.5H303.7zM277.3 344.9H281.7V347.6H277.3zM307.4 349.0H311.8V351.7H307.4zM292.4 357.4H296.7V359.5H292.4zM303.7 357.4H308.0V359.5H303.7z"/><path fill="#c8d2d7" d="M296.1 240.3H300.5V243.0H296.1zM239.6 248.6H244.0V251.3H239.6zM239.6 250.7H244.0V253.4H239.6zM262.2 250.7H266.6V253.4H262.2zM288.6 259.1H293.0V261.8H288.6zM296.1 259.1H300.5V261.8H296.1zM209.5 265.4H213.9V268.1H209.5zM228.3 265.4H232.7V268.1H228.3zM217.0 267.5H221.4V270.2H217.0zM232.1 267.5H236.5V270.2H232.1zM250.9 269.6H255.3V272.2H250.9zM303.7 277.9H308.0V280.6H303.7zM303.7 280.0H308.0V282.7H303.7zM307.4 284.2H311.8V286.9H307.4zM232.1 294.7H236.5V297.4H232.1zM247.2 294.7H251.5V297.4H247.2zM266.0 298.8H270.4V301.5H266.0zM292.4 300.9H300.5V303.6H292.4zM266.0 305.1H270.4V307.8H266.0zM303.7 313.5H308.0V316.2H303.7zM284.8 323.9H289.2V326.6H284.8zM296.1 323.9H300.5V326.6H296.1zM303.7 323.9H308.0V326.6H303.7zM311.2 323.9H315.6V326.6H311.2zM266.0 336.5H270.4V339.2H266.0zM284.8 340.7H289.2V343.4H284.8zM311.2 342.8H315.6V345.5H311.2zM288.6 344.9H296.7V347.6H288.6zM303.7 344.9H308.0V347.6H303.7zM311.2 344.9H315.6V347.6H311.2zM277.3 351.1H285.4V353.8H277.3z"/><path fill="#ebe6b9" d="M311.2 242.4H315.6V245.1H311.2zM277.3 263.3H281.7V266.0H277.3zM224.6 309.3H228.9V312.0H224.6zM232.1 321.9H236.5V324.5H232.1zM247.2 351.1H251.5V353.8H247.2z"/><path fill="#f0dcaa" d="M318.7 242.4H322.5V245.1H318.7z"/><path fill="#f0cd9b" d="M277.3 244.5H281.7V247.2H277.3zM318.7 244.5H322.5V247.2H318.7zM315.0 259.1H319.3V261.8H315.0zM292.4 277.9H296.7V280.6H292.4z"/><path fill="#f0d2a0" d="M315.0 244.5H319.3V247.2H315.0zM296.1 277.9H300.5V280.6H296.1zM254.7 328.1H259.1V330.8H254.7zM224.6 332.3H228.9V335.0H224.6z"/><path fill="#f0b98c" d="M315.0 246.6H319.3V249.2H315.0zM235.9 338.6H240.2V341.3H235.9z"/><path fill="#f0c896" d="M318.7 246.6H322.5V249.2H318.7z"/><path fill="#afc8d7" d="M235.9 248.6H240.2V251.3H235.9zM262.2 252.8H266.6V255.5H262.2zM239.6 259.1H244.0V261.8H239.6zM243.4 263.3H247.8V266.0H243.4zM247.2 288.4H251.5V291.1H247.2zM217.0 290.5H221.4V293.2H217.0zM277.3 300.9H281.7V303.6H277.3zM277.3 307.2H281.7V309.9H277.3zM281.1 315.6H285.4V318.3H281.1zM296.1 351.1H300.5V353.8H296.1zM269.8 355.3H274.1V358.0H269.8z"/><path fill="#96b9d7" d="M266.0 248.6H270.4V251.3H266.0zM247.2 261.2H251.5V263.9H247.2zM232.1 288.4H236.5V291.1H232.1zM303.7 328.1H308.0V330.8H303.7zM273.5 330.2H277.9V332.9H273.5zM281.1 349.0H285.4V351.7H281.1zM296.1 349.0H300.5V351.7H296.1z"/><path fill="#ebaf82" d="M315.0 248.6H319.3V251.3H315.0z"/><path fill="#f0d7aa" d="M318.7 248.6H322.5V251.3H318.7zM303.7 254.9H308.0V257.6H303.7zM307.4 261.2H311.8V263.9H307.4zM292.4 275.8H296.7V278.5H292.4zM292.4 282.1H300.5V284.8H292.4zM209.5 296.8H213.9V299.4H209.5zM217.0 300.9H221.4V303.6H217.0zM224.6 300.9H228.9V303.6H224.6zM243.4 300.9H247.8V303.6H243.4zM224.6 303.0H228.9V305.7H224.6zM262.2 307.2H266.6V309.9H262.2zM239.6 309.3H244.0V312.0H239.6zM232.1 311.4H236.5V314.1H232.1zM224.6 317.7H228.9V320.4H224.6zM232.1 319.8H236.5V322.4H232.1zM250.9 319.8H255.3V322.4H250.9zM209.5 323.9H213.9V326.6H209.5zM235.9 323.9H240.2V326.6H235.9zM250.9 323.9H255.3V326.6H250.9zM209.5 342.8H213.9V345.5H209.5zM217.0 342.8H221.4V345.5H217.0zM209.5 353.2H213.9V355.9H209.5zM250.9 353.2H255.3V355.9H250.9zM213.3 355.3H221.4V358.0H213.3zM228.3 355.3H232.7V358.0H228.3zM247.2 355.3H251.5V358.0H247.2zM239.6 357.4H244.0V359.5H239.6z"/><path fill="#f0b487" d="M315.0 250.7H319.3V253.4H315.0zM315.0 252.8H319.3V255.5H315.0zM318.7 259.1H322.5V261.8H318.7z"/><path fill="#f0be91" d="M318.7 250.7H322.5V253.4H318.7zM315.0 254.9H319.3V257.6H315.0zM239.6 300.9H244.0V303.6H239.6z"/><path fill="#eba073" d="M318.7 252.8H322.5V255.5H318.7z"/><path fill="#d7dcd2" d="M232.1 254.9H236.5V257.6H232.1zM318.7 282.1H322.5V284.8H318.7zM247.2 307.2H251.5V309.9H247.2zM239.6 321.9H244.0V324.5H239.6z"/><path fill="#a0bed7" d="M258.5 254.9H262.8V257.6H258.5zM235.9 259.1H240.2V261.8H235.9zM262.2 261.2H266.6V263.9H262.2zM250.9 284.2H255.3V286.9H250.9zM228.3 288.4H232.7V291.1H228.3zM235.9 288.4H240.2V291.1H235.9zM262.2 288.4H266.6V291.1H262.2zM269.8 296.8H274.1V299.4H269.8zM266.0 300.9H270.4V303.6H266.0zM269.8 303.0H274.1V305.7H269.8zM296.1 305.1H300.5V307.8H296.1zM311.2 319.8H315.6V322.4H311.2zM269.8 328.1H274.1V330.8H269.8zM296.1 340.7H300.5V343.4H296.1zM281.1 346.9H285.4V349.6H281.1z"/><path fill="#82afd7" d="M266.0 254.9H270.4V257.6H266.0zM266.0 282.1H270.4V284.8H266.0zM315.0 303.0H319.3V305.7H315.0zM277.3 328.1H281.7V330.8H277.3zM266.0 342.8H270.4V345.5H266.0z"/><path fill="#f0dcb4" d="M273.5 254.9H277.9V257.6H273.5zM296.1 261.2H300.5V263.9H296.1zM269.8 271.6H274.1V274.3H269.8zM228.3 317.7H232.7V320.4H228.3zM247.2 323.9H251.5V326.6H247.2zM247.2 326.0H251.5V328.7H247.2zM262.2 332.3H266.6V335.0H262.2zM235.9 336.5H240.2V339.2H235.9zM232.1 346.9H236.5V349.6H232.1zM232.1 351.1H236.5V353.8H232.1z"/><path fill="#f0d2a5" d="M318.7 254.9H322.5V257.6H318.7zM315.0 257.0H319.3V259.7H315.0zM303.7 261.2H308.0V263.9H303.7zM209.5 300.9H217.6V303.6H209.5zM220.8 300.9H225.2V303.6H220.8zM209.5 319.8H217.6V322.4H209.5zM209.5 336.5H213.9V339.2H209.5zM224.6 338.6H232.7V341.3H224.6zM213.3 342.8H217.6V345.5H213.3zM247.2 353.2H251.5V355.9H247.2z"/><path fill="#9bbed7" d="M258.5 257.0H262.8V259.7H258.5zM258.5 261.2H262.8V263.9H258.5zM254.7 263.3H259.1V266.0H254.7zM217.0 284.2H221.4V286.9H217.0zM235.9 290.5H240.2V293.2H235.9zM258.5 290.5H262.8V293.2H258.5zM318.7 300.9H322.5V303.6H318.7zM273.5 303.0H277.9V305.7H273.5zM266.0 309.3H270.4V312.0H266.0zM269.8 315.6H274.1V318.3H269.8zM296.1 326.0H300.5V328.7H296.1zM273.5 328.1H277.9V330.8H273.5zM269.8 330.2H274.1V332.9H269.8zM281.1 330.2H285.4V332.9H281.1zM269.8 332.3H274.1V335.0H269.8zM296.1 332.3H300.5V335.0H296.1zM273.5 357.4H277.9V359.5H273.5z"/><path fill="#7dafd7" d="M262.2 257.0H266.6V259.7H262.2z"/><path fill="#91b9d7" d="M243.4 259.1H247.8V261.8H243.4zM262.2 282.1H266.6V284.8H262.2zM266.0 317.7H270.4V320.4H266.0z"/><path fill="#afc3dc" d="M217.0 265.4H221.4V268.1H217.0z"/><path fill="#9bb9d7" d="M224.6 288.4H228.9V291.1H224.6z"/><path fill="#a5bedc" d="M258.5 292.6H262.8V295.3H258.5zM311.2 313.5H315.6V316.2H311.2zM273.5 321.9H277.9V324.5H273.5zM318.7 330.2H322.5V332.9H318.7z"/><path fill="#e6e6be" d="M247.2 300.9H251.5V303.6H247.2z"/><path fill="#f0be8c" d="M224.6 313.5H228.9V316.2H224.6z"/><path fill="#78aad7" d="M269.8 334.4H274.1V337.1H269.8z"/><path fill="#eba57d" d="M232.1 338.6H236.5V341.3H232.1z"/><path fill="#87afd7" d="M269.8 342.8H274.1V345.5H269.8z"/><path fill="#f0cda0" d="M243.4 357.4H247.8V359.5H243.4z"/></g><rect x="209.5" y="234" width="1.3" height="125.5" fill="#b4b8b4" opacity="0.8"/><rect x="209.9" y="360.6" width="27.4" height="7.7" fill="url(#hg)" stroke="#8a1a24" stroke-width="0.8"/><rect x="237.5" y="360.2" width="28.8" height="8.5" fill="#149a48"/><rect x="266.6" y="360.6" width="28.4" height="7.7" fill="url(#hp)" stroke="#8a1a4a" stroke-width="0.8"/><rect x="295.2" y="360.2" width="27.3" height="8.5" fill="#2e3192"/><rect x="325" y="277.9" width="7.7" height="42.6" fill="url(#cb)"/><rect x="334.2" y="278.5" width="3.6" height="2" fill="#6a6a6a" opacity="0.75"/><rect x="334.2" y="291.3" width="3.6" height="2" fill="#6a6a6a" opacity="0.75"/><rect x="334.2" y="304.2" width="3.6" height="2" fill="#6a6a6a" opacity="0.75"/><rect x="334.2" y="317.2" width="3.6" height="2" fill="#6a6a6a" opacity="0.75"/><rect x="201.2" y="376.3" width="7.6" height="7.5" fill="url(#hg3)"/><text x="212.7" y="383.2" font-size="10.4" fill="#333" textLength="52.3" lengthAdjust="spacingAndGlyphs">HC-like CR</text><rect x="273.9" y="375.9" width="7.4" height="7.6" fill="url(#hp2)"/><text x="285.6" y="383.2" font-size="10.4" fill="#333" textLength="52.4" lengthAdjust="spacingAndGlyphs">AD-like CR</text><line x1="373.1" y1="243.8" x2="373.1" y2="360.8" stroke="#151515" stroke-width="1.5"/><line x1="372.4" y1="360.1" x2="498" y2="360.1" stroke="#151515" stroke-width="1.5"/><line x1="390" y1="360.1" x2="390" y2="363.8" stroke="#231f20" stroke-width="1.1"/><line x1="423" y1="360.1" x2="423" y2="363.8" stroke="#231f20" stroke-width="1.1"/><line x1="456.3" y1="360.1" x2="456.3" y2="363.8" stroke="#231f20" stroke-width="1.1"/><line x1="479.3" y1="360.1" x2="479.3" y2="363.8" stroke="#231f20" stroke-width="1.1"/><line x1="390.5" y1="332" x2="390.5" y2="353.8" stroke="#333" stroke-width="1"/><rect x="379.5" y="339.8" width="21.5" height="9" fill="#3cae3a"/><line x1="379.5" y1="346.5" x2="401" y2="346.5" stroke="#1a3a1a" stroke-width="1"/><rect x="408.5" y="316.7" width="24" height="9.7" fill="url(#hg2)"/><line x1="408.5" y1="321.7" x2="432.5" y2="321.7" stroke="#3a1a0a" stroke-width="1"/><line x1="450.5" y1="248.4" x2="450.5" y2="300" stroke="#333" stroke-width="1"/><rect x="440" y="272.9" width="22.4" height="22.9" fill="url(#hp2)"/><line x1="440" y1="284.6" x2="462.4" y2="284.6" stroke="#1a0a2a" stroke-width="1"/><line x1="480.5" y1="263.7" x2="480.5" y2="332" stroke="#333" stroke-width="1"/><rect x="469.7" y="282.5" width="21.3" height="33.1" fill="#1b4f8c"/><line x1="469.7" y1="297.5" x2="491" y2="297.5" stroke="#0a1a3a" stroke-width="1.2"/><circle cx="390" cy="332" r="0.9" fill="#111"/><circle cx="392" cy="339" r="0.9" fill="#111"/><circle cx="387" cy="346" r="0.9" fill="#111"/><circle cx="393" cy="347" r="0.9" fill="#111"/><circle cx="396" cy="349" r="0.9" fill="#111"/><circle cx="387.2" cy="355.1" r="0.9" fill="#111"/><circle cx="421" cy="290.5" r="0.9" fill="#111"/><circle cx="424" cy="290.5" r="0.9" fill="#111"/><circle cx="419" cy="322" r="0.9" fill="#111"/><circle cx="425" cy="319" r="0.9" fill="#111"/><circle cx="422" cy="326.5" r="0.9" fill="#111"/><circle cx="419" cy="342" r="0.9" fill="#111"/><circle cx="421.5" cy="342" r="0.9" fill="#111"/><circle cx="448.8" cy="272.8" r="0.9" fill="#111"/><circle cx="453.1" cy="273.1" r="0.9" fill="#111"/><circle cx="445.6" cy="288.1" r="0.9" fill="#111"/><circle cx="450" cy="297.5" r="0.9" fill="#111"/><circle cx="455" cy="301" r="0.9" fill="#111"/><circle cx="456.3" cy="248.1" r="0.9" fill="#111"/><circle cx="476.9" cy="263.1" r="0.9" fill="#111"/><circle cx="480.6" cy="294.4" r="0.9" fill="#111"/><circle cx="481.9" cy="301.2" r="0.9" fill="#111"/><circle cx="478.8" cy="311.9" r="0.9" fill="#111"/><circle cx="478.8" cy="328.1" r="0.9" fill="#111"/><circle cx="479" cy="331.9" r="0.9" fill="#111"/><text transform="translate(365.3,299.8) rotate(-90)" font-size="11.2" text-anchor="middle" fill="#3a3a3a" textLength="71" lengthAdjust="spacingAndGlyphs">Expression (Z-score)</text><text transform="translate(394,372.5) rotate(-45)" font-size="8.5" text-anchor="end" fill="#333" textLength="12.5" lengthAdjust="spacingAndGlyphs">HC</text><text transform="translate(427.5,373) rotate(-45)" font-size="8.5" text-anchor="end" fill="#333" textLength="43" lengthAdjust="spacingAndGlyphs">HC-like CR</text><text transform="translate(460,373) rotate(-45)" font-size="8.5" text-anchor="end" fill="#333" textLength="43" lengthAdjust="spacingAndGlyphs">AD-like CR</text><text transform="translate(482.5,372.5) rotate(-45)" font-size="8.5" text-anchor="end" fill="#333" textLength="12.5" lengthAdjust="spacingAndGlyphs">AD</text><line x1="46.4" y1="438" x2="46.4" y2="589.3" stroke="#231f20" stroke-width="1.5"/><line x1="45.7" y1="588.6" x2="221" y2="588.6" stroke="#231f20" stroke-width="1.5"/><line x1="134.3" y1="438" x2="134.3" y2="588.6" stroke="#231f20" stroke-width="1.5"/><line x1="46.3" y1="513" x2="221" y2="513" stroke="#231f20" stroke-width="1.5"/><line x1="42.7" y1="457.82000000000005" x2="46.3" y2="457.82000000000005" stroke="#231f20" stroke-width="1"/><text x="39.2" y="460.72" font-size="8" text-anchor="end" fill="#3a3a3a">4</text><line x1="42.7" y1="485.46000000000004" x2="46.3" y2="485.46000000000004" stroke="#231f20" stroke-width="1"/><text x="39.2" y="488.36" font-size="8" text-anchor="end" fill="#3a3a3a">2</text><line x1="42.7" y1="513.1" x2="46.3" y2="513.1" stroke="#231f20" stroke-width="1"/><text x="39.2" y="516.0" font-size="8" text-anchor="end" fill="#3a3a3a">0</text><line x1="42.7" y1="540.74" x2="46.3" y2="540.74" stroke="#231f20" stroke-width="1"/><text x="39.2" y="543.64" font-size="8" text-anchor="end" fill="#3a3a3a">−2</text><line x1="42.7" y1="568.38" x2="46.3" y2="568.38" stroke="#231f20" stroke-width="1"/><text x="39.2" y="571.28" font-size="8" text-anchor="end" fill="#3a3a3a">−4</text><line x1="68.50000000000001" y1="588.6" x2="68.50000000000001" y2="592" stroke="#231f20" stroke-width="1"/><text x="68.80000000000001" y="603" font-size="8" text-anchor="middle" fill="#3a3a3a">−4</text><line x1="101.4" y1="588.6" x2="101.4" y2="592" stroke="#231f20" stroke-width="1"/><text x="101.7" y="603" font-size="8" text-anchor="middle" fill="#3a3a3a">−2</text><line x1="134.3" y1="588.6" x2="134.3" y2="592" stroke="#231f20" stroke-width="1"/><text x="134.60000000000002" y="603" font-size="8" text-anchor="middle" fill="#3a3a3a">0</text><line x1="167.20000000000002" y1="588.6" x2="167.20000000000002" y2="592" stroke="#231f20" stroke-width="1"/><text x="167.50000000000003" y="603" font-size="8" text-anchor="middle" fill="#3a3a3a">2</text><line x1="200.10000000000002" y1="588.6" x2="200.10000000000002" y2="592" stroke="#231f20" stroke-width="1"/><text x="200.40000000000003" y="603" font-size="8" text-anchor="middle" fill="#3a3a3a">4</text><text x="134.1" y="617.8" font-size="9.5" text-anchor="middle" fill="#3a3a3a" textLength="56.9" lengthAdjust="spacingAndGlyphs">Dim. 1 (24.5%)</text><text transform="translate(27.2,517.1) rotate(-90)" font-size="11" text-anchor="middle" fill="#3a3a3a" textLength="50.6" lengthAdjust="spacingAndGlyphs">Dim. 2 (21%)</text><ellipse cx="123.6" cy="544.8" rx="27.7" ry="30" fill="none" stroke="#333" stroke-width="1.1" stroke-dasharray="4 3"/><circle cx="100.7" cy="479.4" r="2.1" fill="none" stroke="#b2d9a0" stroke-width="0.7"/><circle cx="91.7" cy="487.6" r="2.1" fill="none" stroke="#b2d9a0" stroke-width="0.7"/><circle cx="66.6" cy="493.3" r="2.1" fill="none" stroke="#b2d9a0" stroke-width="0.7"/><circle cx="67.5" cy="503.7" r="2.1" fill="none" stroke="#b2d9a0" stroke-width="0.7"/><circle cx="85.7" cy="499.7" r="2.1" fill="none" stroke="#b2d9a0" stroke-width="0.7"/><circle cx="87" cy="503" r="2.1" fill="none" stroke="#b2d9a0" stroke-width="0.7"/><circle cx="104.7" cy="498.8" r="2.1" fill="none" stroke="#b2d9a0" stroke-width="0.7"/><circle cx="110.7" cy="502" r="2.1" fill="none" stroke="#b2d9a0" stroke-width="0.7"/><circle cx="116" cy="501.4" r="2.1" fill="none" stroke="#b2d9a0" stroke-width="0.7"/><circle cx="126.3" cy="498" r="2.1" fill="none" stroke="#b2d9a0" stroke-width="0.7"/><circle cx="103.8" cy="505.7" r="2.1" fill="none" stroke="#b2d9a0" stroke-width="0.7"/><circle cx="88.3" cy="523" r="2.1" fill="none" stroke="#b2d9a0" stroke-width="0.7"/><circle cx="93.4" cy="519.5" r="2.1" fill="none" stroke="#b2d9a0" stroke-width="0.7"/><circle cx="94.3" cy="523.8" r="2.1" fill="none" stroke="#b2d9a0" stroke-width="0.7"/><circle cx="103" cy="517.8" r="2.1" fill="none" stroke="#b2d9a0" stroke-width="0.7"/><circle cx="105.6" cy="518.7" r="2.1" fill="none" stroke="#b2d9a0" stroke-width="0.7"/><circle cx="109" cy="520.4" r="2.1" fill="none" stroke="#b2d9a0" stroke-width="0.7"/><circle cx="102.1" cy="530.4" r="2.1" fill="none" stroke="#b2d9a0" stroke-width="0.7"/><circle cx="111" cy="522" r="2.1" fill="none" stroke="#b2d9a0" stroke-width="0.7"/><circle cx="131.1" cy="541" r="2.1" fill="none" stroke="#b2d9a0" stroke-width="0.7"/><circle cx="113" cy="510" r="2.1" fill="none" stroke="#b2d9a0" stroke-width="0.7"/><circle cx="98" cy="510" r="2.1" fill="none" stroke="#b2d9a0" stroke-width="0.7"/><circle cx="75" cy="497" r="2.1" fill="none" stroke="#b2d9a0" stroke-width="0.7"/><circle cx="120" cy="513" r="2.1" fill="none" stroke="#b2d9a0" stroke-width="0.7"/><circle cx="100" cy="508" r="2.1" fill="none" stroke="#b2d9a0" stroke-width="0.7"/><circle cx="128" cy="516" r="2.1" fill="none" stroke="#b2d9a0" stroke-width="0.7"/><circle cx="82" cy="487" r="2.1" fill="none" stroke="#b2d9a0" stroke-width="0.7"/><circle cx="106" cy="513" r="2.1" fill="none" stroke="#b2d9a0" stroke-width="0.7"/><rect x="77.69999999999999" y="486.90000000000003" width="3.8" height="3.8" fill="none" stroke="#eca89e" stroke-width="0.7"/><rect x="78.6" y="490.90000000000003" width="3.8" height="3.8" fill="none" stroke="#eca89e" stroke-width="0.7"/><rect x="114.39999999999999" y="481.90000000000003" width="3.8" height="3.8" fill="none" stroke="#eca89e" stroke-width="0.7"/><rect x="108.0" y="490.0" width="3.8" height="3.8" fill="none" stroke="#eca89e" stroke-width="0.7"/><rect x="117.8" y="489.70000000000005" width="3.8" height="3.8" fill="none" stroke="#eca89e" stroke-width="0.7"/><rect x="120.1" y="493.5" width="3.8" height="3.8" fill="none" stroke="#eca89e" stroke-width="0.7"/><rect x="100.1" y="495.1" width="3.8" height="3.8" fill="none" stroke="#eca89e" stroke-width="0.7"/><rect x="76.0" y="501.8" width="3.8" height="3.8" fill="none" stroke="#eca89e" stroke-width="0.7"/><rect x="78.6" y="504.70000000000005" width="3.8" height="3.8" fill="none" stroke="#eca89e" stroke-width="0.7"/><rect x="116.6" y="503.5" width="3.8" height="3.8" fill="none" stroke="#eca89e" stroke-width="0.7"/><rect x="116.6" y="507.3" width="3.8" height="3.8" fill="none" stroke="#eca89e" stroke-width="0.7"/><rect x="130.5" y="490.0" width="3.8" height="3.8" fill="none" stroke="#eca89e" stroke-width="0.7"/><rect x="146.4" y="484.70000000000005" width="3.8" height="3.8" fill="none" stroke="#eca89e" stroke-width="0.7"/><rect x="129.9" y="479.1" width="3.8" height="3.8" fill="none" stroke="#eca89e" stroke-width="0.7"/><rect x="129.9" y="491.1" width="3.8" height="3.8" fill="none" stroke="#eca89e" stroke-width="0.7"/><rect x="138.1" y="493.8" width="3.8" height="3.8" fill="none" stroke="#eca89e" stroke-width="0.7"/><rect x="148.1" y="498.40000000000003" width="3.8" height="3.8" fill="none" stroke="#eca89e" stroke-width="0.7"/><rect x="150.9" y="503.0" width="3.8" height="3.8" fill="none" stroke="#eca89e" stroke-width="0.7"/><rect x="150.1" y="506.6" width="3.8" height="3.8" fill="none" stroke="#eca89e" stroke-width="0.7"/><rect x="207.6" y="502.1" width="3.8" height="3.8" fill="none" stroke="#eca89e" stroke-width="0.7"/><rect x="146.0" y="518.2" width="3.8" height="3.8" fill="none" stroke="#eca89e" stroke-width="0.7"/><rect x="167.0" y="515.6" width="3.8" height="3.8" fill="none" stroke="#eca89e" stroke-width="0.7"/><rect x="159.5" y="522.9" width="3.8" height="3.8" fill="none" stroke="#eca89e" stroke-width="0.7"/><rect x="194.4" y="524.9" width="3.8" height="3.8" fill="none" stroke="#eca89e" stroke-width="0.7"/><rect x="122.5" y="560.2" width="3.8" height="3.8" fill="none" stroke="#eca89e" stroke-width="0.7"/><rect x="137.9" y="563.3000000000001" width="3.8" height="3.8" fill="none" stroke="#eca89e" stroke-width="0.7"/><rect x="122.69999999999999" y="560.0" width="3.8" height="3.8" fill="none" stroke="#eca89e" stroke-width="0.7"/><rect x="133.1" y="486.1" width="3.8" height="3.8" fill="none" stroke="#eca89e" stroke-width="0.7"/><rect x="138.1" y="503.1" width="3.8" height="3.8" fill="none" stroke="#eca89e" stroke-width="0.7"/><rect x="156.1" y="498.1" width="3.8" height="3.8" fill="none" stroke="#eca89e" stroke-width="0.7"/><rect x="111.1" y="512.1" width="3.8" height="3.8" fill="none" stroke="#eca89e" stroke-width="0.7"/><rect x="124.1" y="503.1" width="3.8" height="3.8" fill="none" stroke="#eca89e" stroke-width="0.7"/><rect x="158.1" y="510.1" width="3.8" height="3.8" fill="none" stroke="#eca89e" stroke-width="0.7"/><rect x="121.0" y="572.5" width="3.8" height="3.8" fill="none" stroke="#eca89e" stroke-width="0.7"/><rect x="68.1" y="495.1" width="3.8" height="3.8" fill="none" stroke="#eca89e" stroke-width="0.7"/><rect x="94.1" y="495.1" width="3.8" height="3.8" fill="none" stroke="#eca89e" stroke-width="0.7"/><path d="M89.1 463.0L91.39999999999999 467.0L86.8 467.0Z" fill="none" stroke="#9ea6d8" stroke-width="0.7"/><path d="M112.5 463.6L114.8 467.6L110.2 467.6Z" fill="none" stroke="#9ea6d8" stroke-width="0.7"/><path d="M140 473.20000000000005L142.3 477.20000000000005L137.7 477.20000000000005Z" fill="none" stroke="#9ea6d8" stroke-width="0.7"/><path d="M146.4 479.6L148.70000000000002 483.6L144.1 483.6Z" fill="none" stroke="#9ea6d8" stroke-width="0.7"/><path d="M144.6 482.40000000000003L146.9 486.40000000000003L142.29999999999998 486.40000000000003Z" fill="none" stroke="#9ea6d8" stroke-width="0.7"/><path d="M166.5 481.8L168.8 485.8L164.2 485.8Z" fill="none" stroke="#9ea6d8" stroke-width="0.7"/><path d="M155.6 493.90000000000003L157.9 497.90000000000003L153.29999999999998 497.90000000000003Z" fill="none" stroke="#9ea6d8" stroke-width="0.7"/><path d="M210.4 489.1L212.70000000000002 493.1L208.1 493.1Z" fill="none" stroke="#9ea6d8" stroke-width="0.7"/><path d="M171.1 501.90000000000003L173.4 505.90000000000003L168.79999999999998 505.90000000000003Z" fill="none" stroke="#9ea6d8" stroke-width="0.7"/><path d="M190.3 501.90000000000003L192.60000000000002 505.90000000000003L188.0 505.90000000000003Z" fill="none" stroke="#9ea6d8" stroke-width="0.7"/><path d="M141 504.3L143.3 508.3L138.7 508.3Z" fill="none" stroke="#9ea6d8" stroke-width="0.7"/><path d="M157.4 507.90000000000003L159.70000000000002 511.90000000000003L155.1 511.90000000000003Z" fill="none" stroke="#9ea6d8" stroke-width="0.7"/><path d="M123.7 528.6L126.0 532.6L121.4 532.6Z" fill="none" stroke="#9ea6d8" stroke-width="0.7"/><path d="M121.1 539.6L123.39999999999999 543.6L118.8 543.6Z" fill="none" stroke="#9ea6d8" stroke-width="0.7"/><path d="M127.2 545.3000000000001L129.5 549.3000000000001L124.9 549.3000000000001Z" fill="none" stroke="#9ea6d8" stroke-width="0.7"/><path d="M143.2 525.8000000000001L145.5 529.8000000000001L140.89999999999998 529.8000000000001Z" fill="none" stroke="#9ea6d8" stroke-width="0.7"/><path d="M140.2 531.5L142.5 535.5L137.89999999999998 535.5Z" fill="none" stroke="#9ea6d8" stroke-width="0.7"/><path d="M127.1 545.4L129.4 549.4L124.8 549.4Z" fill="none" stroke="#9ea6d8" stroke-width="0.7"/><path d="M134.5 545.4L136.8 549.4L132.2 549.4Z" fill="none" stroke="#9ea6d8" stroke-width="0.7"/><path d="M143.2 555.5L145.5 559.5L140.89999999999998 559.5Z" fill="none" stroke="#9ea6d8" stroke-width="0.7"/><path d="M147 500.6L149.3 504.6L144.7 504.6Z" fill="none" stroke="#9ea6d8" stroke-width="0.7"/><path d="M138 497.6L140.3 501.6L135.7 501.6Z" fill="none" stroke="#9ea6d8" stroke-width="0.7"/><rect x="125.3" y="477.0" width="4.8" height="4.8" fill="#567a2c" stroke="#7a3a1c" stroke-width="0.7"/><rect x="91.0" y="499.90000000000003" width="4.8" height="4.8" fill="#567a2c" stroke="#7a3a1c" stroke-width="0.7"/><rect x="110.1" y="505.1" width="4.8" height="4.8" fill="#567a2c" stroke="#7a3a1c" stroke-width="0.7"/><rect x="123.0" y="505.90000000000003" width="4.8" height="4.8" fill="#567a2c" stroke="#7a3a1c" stroke-width="0.7"/><rect x="143.1" y="499.3" width="4.8" height="4.8" fill="#567a2c" stroke="#7a3a1c" stroke-width="0.7"/><rect x="174.2" y="507.0" width="4.8" height="4.8" fill="#567a2c" stroke="#7a3a1c" stroke-width="0.7"/><rect x="129.7" y="526.8000000000001" width="4.8" height="4.8" fill="#567a2c" stroke="#7a3a1c" stroke-width="0.7"/><rect x="100.19999999999999" y="492.1" width="4.8" height="4.8" fill="#567a2c" stroke="#7a3a1c" stroke-width="0.7"/><rect x="184.6" y="486.6" width="4.8" height="4.8" fill="#2a1a4a" stroke="#b0306a" stroke-width="0.6"/><rect x="120.1" y="520.6" width="4.8" height="4.8" fill="#2a1a4a" stroke="#b0306a" stroke-width="0.6"/><rect x="109.19999999999999" y="527.0" width="4.8" height="4.8" fill="#2a1a4a" stroke="#b0306a" stroke-width="0.6"/><rect x="113.6" y="528.0" width="4.8" height="4.8" fill="#2a1a4a" stroke="#b0306a" stroke-width="0.6"/><rect x="117.89999999999999" y="533.2" width="4.8" height="4.8" fill="#2a1a4a" stroke="#b0306a" stroke-width="0.6"/><rect x="113.19999999999999" y="537.4" width="4.8" height="4.8" fill="#2a1a4a" stroke="#b0306a" stroke-width="0.6"/><rect x="176.3" y="441.3" width="8.5" height="8.2" fill="#3cae3a" stroke="#c0283a" stroke-width="0.8"/><text x="188" y="448.3" font-size="8.2" fill="#333" textLength="40" lengthAdjust="spacingAndGlyphs">HC-like CR</text><rect x="176.3" y="455.5" width="8.5" height="7.8" fill="#1b4f8c" stroke="#b0306a" stroke-width="0.8"/><text x="188" y="462.2" font-size="8.2" fill="#333" textLength="40" lengthAdjust="spacingAndGlyphs">AD-like CR</text><line x1="286" y1="439" x2="286" y2="591" stroke="#1a1a1a" stroke-width="1.6"/><line x1="285.3" y1="590.3" x2="511" y2="590.3" stroke="#1a1a1a" stroke-width="1.6"/><circle cx="295.8" cy="463" r="2.1" fill="#4a1658"/><circle cx="315.2" cy="467.8" r="2.1" fill="#4a1658"/><circle cx="373.1" cy="467.3" r="2.1" fill="#4a1658"/><circle cx="385.5" cy="446.3" r="2.1" fill="#4a1658"/><circle cx="392.8" cy="455.2" r="2.1" fill="#4a1658"/><circle cx="391.9" cy="471.9" r="2.1" fill="#4a1658"/><circle cx="397.1" cy="466.8" r="2.1" fill="#4a1658"/><circle cx="384.9" cy="487" r="2.1" fill="#4a1658"/><circle cx="397.8" cy="485.6" r="2.1" fill="#4a1658"/><circle cx="400.2" cy="484.3" r="2.1" fill="#4a1658"/><circle cx="322.5" cy="511.2" r="2.1" fill="#4a1658"/><circle cx="344.3" cy="504.5" r="2.1" fill="#4a1658"/><circle cx="365.8" cy="505.5" r="2.1" fill="#4a1658"/><circle cx="379" cy="500.7" r="2.1" fill="#4a1658"/><circle cx="333.2" cy="517.7" r="2.1" fill="#4a1658"/><circle cx="360.2" cy="525.2" r="2.1" fill="#4a1658"/><circle cx="379.3" cy="520.6" r="2.1" fill="#4a1658"/><circle cx="380.4" cy="532.5" r="2.1" fill="#4a1658"/><circle cx="344.3" cy="550.8" r="2.1" fill="#4a1658"/><circle cx="362.9" cy="583.1" r="2.1" fill="#4a1658"/><circle cx="400.8" cy="511.1" r="2.1" fill="#4a1658"/><circle cx="408" cy="496.8" r="2.1" fill="#4a1658"/><circle cx="417.6" cy="477.8" r="2.1" fill="#b8102c"/><circle cx="424.1" cy="445.9" r="2.1" fill="#b8102c"/><circle cx="417.1" cy="458.4" r="2.1" fill="#b8102c"/><circle cx="431.9" cy="463" r="2.1" fill="#b8102c"/><circle cx="446.7" cy="458.9" r="2.1" fill="#b8102c"/><circle cx="424.1" cy="468" r="2.1" fill="#b8102c"/><circle cx="426.7" cy="479.7" r="2.1" fill="#b8102c"/><circle cx="442.3" cy="480.4" r="2.1" fill="#b8102c"/><circle cx="453.2" cy="486.4" r="2.1" fill="#b8102c"/><circle cx="434" cy="497.8" r="2.1" fill="#b8102c"/><circle cx="448.3" cy="504.3" r="2.1" fill="#b8102c"/><circle cx="458.4" cy="503.8" r="2.1" fill="#b8102c"/><circle cx="465.2" cy="506.4" r="2.1" fill="#b8102c"/><circle cx="467.7" cy="514.4" r="2.1" fill="#b8102c"/><circle cx="472.4" cy="522.7" r="2.1" fill="#b8102c"/><circle cx="463.6" cy="534.2" r="2.1" fill="#b8102c"/><circle cx="489" cy="545.3" r="2.1" fill="#b8102c"/><circle cx="488.5" cy="496.8" r="2.1" fill="#b8102c"/><circle cx="493.4" cy="500.7" r="2.1" fill="#b8102c"/><circle cx="502" cy="492.1" r="2.1" fill="#b8102c"/><circle cx="417.1" cy="458.4" r="4.4" fill="none" stroke="#6aa85a" stroke-width="0.9"/><circle cx="431.9" cy="463" r="4.4" fill="none" stroke="#6aa85a" stroke-width="0.9"/><circle cx="446.7" cy="458.9" r="4.4" fill="none" stroke="#6aa85a" stroke-width="0.9"/><circle cx="442.3" cy="480.4" r="4.4" fill="none" stroke="#6aa85a" stroke-width="0.9"/><circle cx="448.3" cy="504.3" r="4.4" fill="none" stroke="#6aa85a" stroke-width="0.9"/><circle cx="472.4" cy="522.7" r="4.4" fill="none" stroke="#6aa85a" stroke-width="0.9"/><circle cx="295.8" cy="463" r="4.4" fill="none" stroke="#34427a" stroke-width="0.9"/><circle cx="385.5" cy="446.3" r="4.4" fill="none" stroke="#34427a" stroke-width="0.9"/><circle cx="408" cy="496.8" r="4.4" fill="none" stroke="#34427a" stroke-width="0.9"/><circle cx="417.6" cy="477.8" r="4.4" fill="none" stroke="#34427a" stroke-width="0.9"/><circle cx="453.2" cy="486.4" r="4.4" fill="none" stroke="#34427a" stroke-width="0.9"/><circle cx="493.4" cy="500.7" r="4.4" fill="none" stroke="#34427a" stroke-width="0.9"/><text transform="translate(279,514.3) rotate(-90)" font-size="10.8" text-anchor="middle" fill="#3a3a3a" textLength="48" lengthAdjust="spacingAndGlyphs">PC2 (8.81%)</text><text x="398.4" y="603.9" font-size="10.3" text-anchor="middle" fill="#3a3a3a" textLength="52.2" lengthAdjust="spacingAndGlyphs">PC1 (32.53%)</text><circle cx="289.4" cy="614" r="3.8" fill="#c0102c"/><text x="297.8" y="616.8" font-size="8.6" fill="#333" textLength="32" lengthAdjust="spacingAndGlyphs">Cluster 1</text><circle cx="342.3" cy="614" r="3.8" fill="#5a1a6a"/><text x="350" y="616.8" font-size="8.6" fill="#333" textLength="32" lengthAdjust="spacingAndGlyphs">Cluster 2</text><circle cx="394.4" cy="614" r="3.5" fill="none" stroke="#5aae4a" stroke-width="1"/><text x="402.5" y="616.8" font-size="8.6" fill="#333" textLength="42.3" lengthAdjust="spacingAndGlyphs">HC- like CR</text><circle cx="459" cy="614" r="3.5" fill="none" stroke="#1a2a5a" stroke-width="1"/><text x="467.4" y="616.8" font-size="8.6" fill="#333" textLength="42.1" lengthAdjust="spacingAndGlyphs">AD- like CR</text><line x1="131.9" y1="667.7" x2="131.9" y2="769.1" stroke="#231f20" stroke-width="1.4"/><line x1="131.2" y1="768.4" x2="433" y2="768.4" stroke="#231f20" stroke-width="1.5"/><line x1="128.6" y1="763.1" x2="131.9" y2="763.1" stroke="#231f20" stroke-width="1"/><text x="124.8" y="766.0" font-size="8.2" text-anchor="end" fill="#3a3a3a">0</text><line x1="128.6" y1="740.5" x2="131.9" y2="740.5" stroke="#231f20" stroke-width="1"/><text x="124.8" y="743.4" font-size="8.2" text-anchor="end" fill="#3a3a3a">2</text><line x1="128.6" y1="717.9" x2="131.9" y2="717.9" stroke="#231f20" stroke-width="1"/><text x="124.8" y="720.8" font-size="8.2" text-anchor="end" fill="#3a3a3a">4</text><line x1="128.6" y1="695.3" x2="131.9" y2="695.3" stroke="#231f20" stroke-width="1"/><text x="124.8" y="698.1999999999999" font-size="8.2" text-anchor="end" fill="#3a3a3a">6</text><line x1="128.6" y1="672.7" x2="131.9" y2="672.7" stroke="#231f20" stroke-width="1"/><text x="124.8" y="675.6" font-size="8.2" text-anchor="end" fill="#3a3a3a">8</text><line x1="153.6" y1="768.4" x2="153.6" y2="771.6" stroke="#231f20" stroke-width="1"/><text x="153.9" y="782.8" font-size="8.3" text-anchor="middle" fill="#3a3a3a">−1</text><line x1="220.0" y1="768.4" x2="220.0" y2="771.6" stroke="#231f20" stroke-width="1"/><text x="220.3" y="782.8" font-size="8.3" text-anchor="middle" fill="#3a3a3a">0</text><line x1="286.5" y1="768.4" x2="286.5" y2="771.6" stroke="#231f20" stroke-width="1"/><text x="286.8" y="782.8" font-size="8.3" text-anchor="middle" fill="#3a3a3a">1</text><line x1="353.0" y1="768.4" x2="353.0" y2="771.6" stroke="#231f20" stroke-width="1"/><text x="353.3" y="782.8" font-size="8.3" text-anchor="middle" fill="#3a3a3a">2</text><line x1="419.5" y1="768.4" x2="419.5" y2="771.6" stroke="#231f20" stroke-width="1"/><text x="419.8" y="782.8" font-size="8.3" text-anchor="middle" fill="#3a3a3a">3</text><line x1="153.6" y1="667.7" x2="153.6" y2="767.5" stroke="#555" stroke-width="0.7" stroke-dasharray="1 1.5"/><line x1="286.5" y1="667.7" x2="286.5" y2="767.5" stroke="#555" stroke-width="0.7" stroke-dasharray="1 1.5"/><line x1="132" y1="748.4" x2="433" y2="748.4" stroke="#555" stroke-width="0.7" stroke-dasharray="1 1.5"/><text transform="translate(113,717.4) rotate(-90)" font-size="10" text-anchor="middle" fill="#3a3a3a" textLength="56" lengthAdjust="spacingAndGlyphs">−10log (p.adj)</text><text x="283" y="798.5" font-size="10.8" text-anchor="middle" fill="#3a3a3a" textLength="119.5" lengthAdjust="spacingAndGlyphs">LOG2FOLD (cluster 1 - cluster 2)</text><circle cx="196.9" cy="760.8" r="2.35" fill="#1b4a78" stroke="#0e2a48" stroke-width="0.5"/><circle cx="224.2" cy="763.1" r="2.35" fill="#1b4a78" stroke="#0e2a48" stroke-width="0.5"/><circle cx="230.8" cy="762" r="2.35" fill="#1b4a78" stroke="#0e2a48" stroke-width="0.5"/><circle cx="233.8" cy="760.8" r="2.35" fill="#1b4a78" stroke="#0e2a48" stroke-width="0.5"/><circle cx="231.5" cy="756.2" r="2.35" fill="#1b4a78" stroke="#0e2a48" stroke-width="0.5"/><circle cx="241.5" cy="759.2" r="2.35" fill="#1b4a78" stroke="#0e2a48" stroke-width="0.5"/><circle cx="245.4" cy="760" r="2.35" fill="#1b4a78" stroke="#0e2a48" stroke-width="0.5"/><circle cx="251.2" cy="757" r="2.35" fill="#1b4a78" stroke="#0e2a48" stroke-width="0.5"/><circle cx="255.8" cy="751.2" r="2.35" fill="#1b4a78" stroke="#0e2a48" stroke-width="0.5"/><circle cx="257.7" cy="755.4" r="2.35" fill="#1b4a78" stroke="#0e2a48" stroke-width="0.5"/><circle cx="261.5" cy="754.2" r="2.35" fill="#1b4a78" stroke="#0e2a48" stroke-width="0.5"/><circle cx="264.5" cy="754.2" r="2.35" fill="#1b4a78" stroke="#0e2a48" stroke-width="0.5"/><circle cx="269.2" cy="749.2" r="2.35" fill="#1b4a78" stroke="#0e2a48" stroke-width="0.5"/><circle cx="271" cy="754" r="2.35" fill="#1b4a78" stroke="#0e2a48" stroke-width="0.5"/><circle cx="275" cy="741.9" r="2.35" fill="#1b4a78" stroke="#0e2a48" stroke-width="0.5"/><circle cx="277.7" cy="743.8" r="2.35" fill="#1b4a78" stroke="#0e2a48" stroke-width="0.5"/><circle cx="280" cy="749.2" r="2.35" fill="#1b4a78" stroke="#0e2a48" stroke-width="0.5"/><circle cx="280.8" cy="752.3" r="2.35" fill="#1b4a78" stroke="#0e2a48" stroke-width="0.5"/><circle cx="297" cy="749.2" r="2.35" fill="#1b4a78" stroke="#0e2a48" stroke-width="0.5"/><circle cx="280" cy="745.6" r="2.35" fill="#1b4a78" stroke="#0e2a48" stroke-width="0.5"/><circle cx="282.6" cy="753.2" r="2.35" fill="#1b4a78" stroke="#0e2a48" stroke-width="0.5"/><circle cx="266" cy="752" r="2.35" fill="#1b4a78" stroke="#0e2a48" stroke-width="0.5"/><circle cx="288.17260542661" cy="744.3412880026152" r="2.35" fill="#b0122c" stroke="#6a0a1a" stroke-width="0.5"/><circle cx="290.4609349460608" cy="747.6103301732592" r="2.35" fill="#b0122c" stroke="#6a0a1a" stroke-width="0.5"/><circle cx="292.4223602484472" cy="746.629617522066" r="2.35" fill="#b0122c" stroke="#6a0a1a" stroke-width="0.5"/><circle cx="295.6914024190912" cy="741.0722458319713" r="2.35" fill="#b0122c" stroke="#6a0a1a" stroke-width="0.5"/><circle cx="295.6914024190912" cy="733.55344883949" r="2.35" fill="#b0122c" stroke="#6a0a1a" stroke-width="0.5"/><circle cx="299.614253023864" cy="731.9189277541681" r="2.35" fill="#b0122c" stroke="#6a0a1a" stroke-width="0.5"/><circle cx="302.2294867603792" cy="746.629617522066" r="2.35" fill="#b0122c" stroke="#6a0a1a" stroke-width="0.5"/><circle cx="302.88329519450804" cy="740.091533180778" r="2.35" fill="#b0122c" stroke="#6a0a1a" stroke-width="0.5"/><circle cx="303.5371036286368" cy="737.8032036613272" r="2.35" fill="#b0122c" stroke="#6a0a1a" stroke-width="0.5"/><circle cx="310.0751879699248" cy="737.8032036613272" r="2.35" fill="#b0122c" stroke="#6a0a1a" stroke-width="0.5"/><circle cx="315.3056554429552" cy="732.5727361882969" r="2.35" fill="#b0122c" stroke="#6a0a1a" stroke-width="0.5"/><circle cx="316.6132723112128" cy="735.8417783589408" r="2.35" fill="#b0122c" stroke="#6a0a1a" stroke-width="0.5"/><circle cx="318.5746976135992" cy="734.5341614906832" r="2.35" fill="#b0122c" stroke="#6a0a1a" stroke-width="0.5"/><circle cx="319.88231448185684" cy="731.9189277541681" r="2.35" fill="#b0122c" stroke="#6a0a1a" stroke-width="0.5"/><circle cx="320.86302713305" cy="722.111801242236" r="2.35" fill="#b0122c" stroke="#6a0a1a" stroke-width="0.5"/><circle cx="322.497548218372" cy="728.649885583524" r="2.35" fill="#b0122c" stroke="#6a0a1a" stroke-width="0.5"/><circle cx="324.13206930369404" cy="725.38084341288" r="2.35" fill="#b0122c" stroke="#6a0a1a" stroke-width="0.5"/><circle cx="325.766590389016" cy="718.1889506374632" r="2.35" fill="#b0122c" stroke="#6a0a1a" stroke-width="0.5"/><circle cx="327.401111474338" cy="720.477280156914" r="2.35" fill="#b0122c" stroke="#6a0a1a" stroke-width="0.5"/><circle cx="328.38182412553124" cy="709.03563255966" r="2.35" fill="#b0122c" stroke="#6a0a1a" stroke-width="0.5"/><circle cx="329.03563255966003" cy="724.7270349787512" r="2.35" fill="#b0122c" stroke="#6a0a1a" stroke-width="0.5"/><circle cx="330.670153644982" cy="722.111801242236" r="2.35" fill="#b0122c" stroke="#6a0a1a" stroke-width="0.5"/><circle cx="332.304674730304" cy="728.649885583524" r="2.35" fill="#b0122c" stroke="#6a0a1a" stroke-width="0.5"/><circle cx="332.95848316443283" cy="723.746322327558" r="2.35" fill="#b0122c" stroke="#6a0a1a" stroke-width="0.5"/><circle cx="334.9199084668192" cy="725.38084341288" r="2.35" fill="#b0122c" stroke="#6a0a1a" stroke-width="0.5"/><circle cx="336.22752533507685" cy="722.111801242236" r="2.35" fill="#b0122c" stroke="#6a0a1a" stroke-width="0.5"/><circle cx="338.1889506374632" cy="723.746322327558" r="2.35" fill="#b0122c" stroke="#6a0a1a" stroke-width="0.5"/><circle cx="340.47728015691405" cy="716.2275253350768" r="2.35" fill="#b0122c" stroke="#6a0a1a" stroke-width="0.5"/><circle cx="337.20823798627003" cy="701.8437397842432" r="2.35" fill="#b0122c" stroke="#6a0a1a" stroke-width="0.5"/><circle cx="344.4001307616868" cy="697.593984962406" r="2.35" fill="#b0122c" stroke="#6a0a1a" stroke-width="0.5"/><circle cx="347.015364498202" cy="707.401111474338" r="2.35" fill="#b0122c" stroke="#6a0a1a" stroke-width="0.5"/><circle cx="347.9960771493952" cy="716.2275253350768" r="2.35" fill="#b0122c" stroke="#6a0a1a" stroke-width="0.5"/><circle cx="348.649885583524" cy="718.1889506374632" r="2.35" fill="#b0122c" stroke="#6a0a1a" stroke-width="0.5"/><circle cx="351.918927754168" cy="705.1127819548872" r="2.35" fill="#b0122c" stroke="#6a0a1a" stroke-width="0.5"/><circle cx="354.53416149068323" cy="707.401111474338" r="2.35" fill="#b0122c" stroke="#6a0a1a" stroke-width="0.5"/><circle cx="355.187969924812" cy="715.573716900948" r="2.35" fill="#b0122c" stroke="#6a0a1a" stroke-width="0.5"/><circle cx="356.82249101013406" cy="709.03563255966" r="2.35" fill="#b0122c" stroke="#6a0a1a" stroke-width="0.5"/><circle cx="358.45701209545604" cy="716.2275253350768" r="2.35" fill="#b0122c" stroke="#6a0a1a" stroke-width="0.5"/><circle cx="360.091533180778" cy="703.1513566525008" r="2.35" fill="#b0122c" stroke="#6a0a1a" stroke-width="0.5"/><circle cx="361.07224583197126" cy="715.573716900948" r="2.35" fill="#b0122c" stroke="#6a0a1a" stroke-width="0.5"/><circle cx="361.72605426610005" cy="709.03563255966" r="2.35" fill="#b0122c" stroke="#6a0a1a" stroke-width="0.5"/><circle cx="362.70676691729324" cy="707.401111474338" r="2.35" fill="#b0122c" stroke="#6a0a1a" stroke-width="0.5"/><circle cx="363.360575351422" cy="711.6508662961752" r="2.35" fill="#b0122c" stroke="#6a0a1a" stroke-width="0.5"/><circle cx="364.3412880026152" cy="704.132069303694" r="2.35" fill="#b0122c" stroke="#6a0a1a" stroke-width="0.5"/><circle cx="367.61033017325923" cy="704.132069303694" r="2.35" fill="#b0122c" stroke="#6a0a1a" stroke-width="0.5"/><circle cx="375.78293559986923" cy="710.6701536449821" r="2.35" fill="#b0122c" stroke="#6a0a1a" stroke-width="0.5"/><circle cx="377.41745668519127" cy="697.593984962406" r="2.35" fill="#b0122c" stroke="#6a0a1a" stroke-width="0.5"/><circle cx="384.60934946060803" cy="689.4213795357961" r="2.35" fill="#b0122c" stroke="#6a0a1a" stroke-width="0.5"/><circle cx="385.5900621118012" cy="685.4985289310232" r="2.35" fill="#b0122c" stroke="#6a0a1a" stroke-width="0.5"/><circle cx="392.12814645308924" cy="685.4985289310232" r="2.35" fill="#b0122c" stroke="#6a0a1a" stroke-width="0.5"/><circle cx="393.4357633213468" cy="692.69042170644" r="2.35" fill="#b0122c" stroke="#6a0a1a" stroke-width="0.5"/><circle cx="404.22360248447205" cy="682.2294867603792" r="2.35" fill="#b0122c" stroke="#6a0a1a" stroke-width="0.5"/><circle cx="408.14645308924486" cy="680.2680614579928" r="2.35" fill="#b0122c" stroke="#6a0a1a" stroke-width="0.5"/><circle cx="288.5" cy="743.8" r="2.35" fill="#b0122c" stroke="#6a0a1a" stroke-width="0.5"/><circle cx="290.4" cy="747.7" r="2.35" fill="#b0122c" stroke="#6a0a1a" stroke-width="0.5"/><circle cx="292" cy="746" r="2.35" fill="#b0122c" stroke="#6a0a1a" stroke-width="0.5"/><circle cx="295.4" cy="733" r="2.35" fill="#b0122c" stroke="#6a0a1a" stroke-width="0.5"/><circle cx="297" cy="740.8" r="2.35" fill="#b0122c" stroke="#6a0a1a" stroke-width="0.5"/><circle cx="299.2" cy="732.3" r="2.35" fill="#b0122c" stroke="#6a0a1a" stroke-width="0.5"/><circle cx="319.9" cy="681.2" r="2.35" fill="#b0122c" stroke="#6a0a1a" stroke-width="0.5"/><line x1="321.6" y1="679.2" x2="328.5" y2="672.6" stroke="#231f20" stroke-width="0.8"/><text x="329" y="676" font-size="8.8" fill="#333" textLength="15.4" lengthAdjust="spacingAndGlyphs">TNF</text><line x1="309.4" y1="738.5" x2="315.6" y2="747.6" stroke="#231f20" stroke-width="0.8"/><text x="315" y="757.6" font-size="8.8" fill="#333" textLength="10.8" lengthAdjust="spacingAndGlyphs">IL6</text><rect x="0.5" y="0.5" width="519" height="808" fill="none" stroke="#dcdcdc" stroke-width="1"/></svg></body></html>
